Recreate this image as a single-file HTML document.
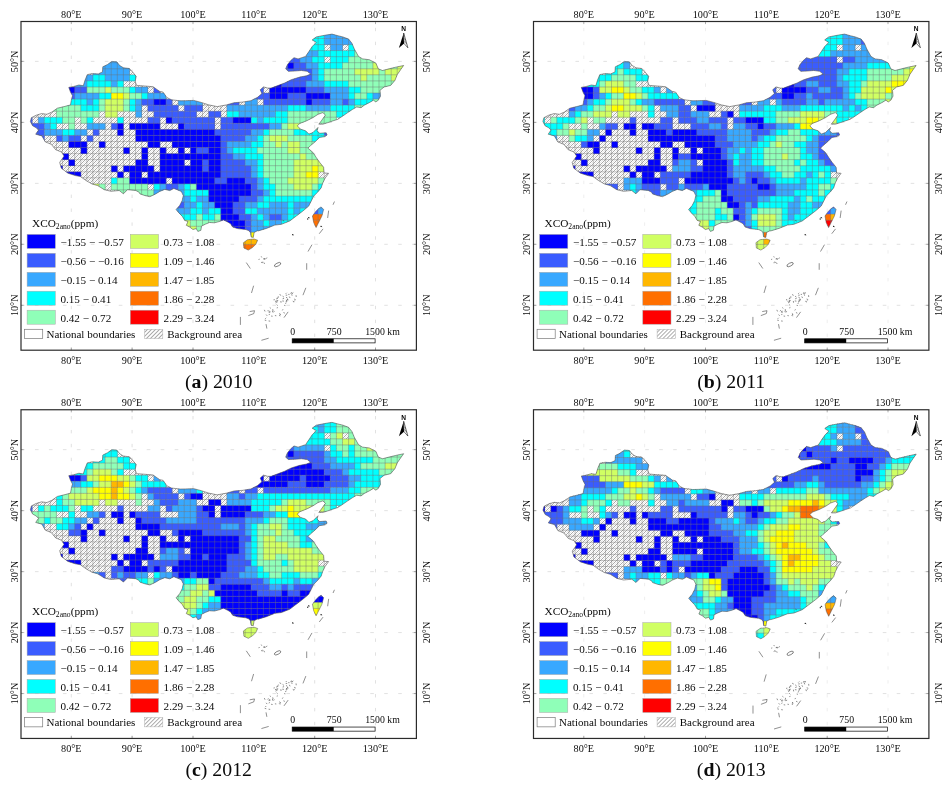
<!DOCTYPE html>
<html><head><meta charset="utf-8"><title>XCO2 anomaly maps 2010-2013</title>
<style>html,body{margin:0;padding:0;background:#fff}svg{display:block}text{font-family:"Liberation Serif","DejaVu Serif",serif;fill:#0a0a0a}</style>
</head><body>
<svg width="951" height="786" viewBox="0 0 951 786">
<defs>
<pattern id="hatcha" width="4" height="4" patternUnits="userSpaceOnUse" patternTransform="translate(0,0)" shape-rendering="crispEdges"><rect width="4" height="4" fill="#fff"/><rect x="0" y="0" width="1" height="1" fill="#aaaaaa"/><rect x="2" y="0" width="1" height="1" fill="#e8e8e8"/><rect x="1" y="1" width="1" height="1" fill="#e8e8e8"/><rect x="3" y="1" width="1" height="1" fill="#aaaaaa"/><rect x="0" y="2" width="1" height="1" fill="#e8e8e8"/><rect x="2" y="2" width="1" height="1" fill="#aaaaaa"/><rect x="1" y="3" width="1" height="1" fill="#aaaaaa"/><rect x="3" y="3" width="1" height="1" fill="#e8e8e8"/></pattern><pattern id="hatchb" width="4" height="4" patternUnits="userSpaceOnUse" patternTransform="translate(-0.5,0)" shape-rendering="crispEdges"><rect width="4" height="4" fill="#fff"/><rect x="0" y="0" width="1" height="1" fill="#aaaaaa"/><rect x="2" y="0" width="1" height="1" fill="#e8e8e8"/><rect x="1" y="1" width="1" height="1" fill="#e8e8e8"/><rect x="3" y="1" width="1" height="1" fill="#aaaaaa"/><rect x="0" y="2" width="1" height="1" fill="#e8e8e8"/><rect x="2" y="2" width="1" height="1" fill="#aaaaaa"/><rect x="1" y="3" width="1" height="1" fill="#aaaaaa"/><rect x="3" y="3" width="1" height="1" fill="#e8e8e8"/></pattern><pattern id="hatchc" width="4" height="4" patternUnits="userSpaceOnUse" patternTransform="translate(0,-0.25)" shape-rendering="crispEdges"><rect width="4" height="4" fill="#fff"/><rect x="0" y="0" width="1" height="1" fill="#aaaaaa"/><rect x="2" y="0" width="1" height="1" fill="#e8e8e8"/><rect x="1" y="1" width="1" height="1" fill="#e8e8e8"/><rect x="3" y="1" width="1" height="1" fill="#aaaaaa"/><rect x="0" y="2" width="1" height="1" fill="#e8e8e8"/><rect x="2" y="2" width="1" height="1" fill="#aaaaaa"/><rect x="1" y="3" width="1" height="1" fill="#aaaaaa"/><rect x="3" y="3" width="1" height="1" fill="#e8e8e8"/></pattern><pattern id="hatchd" width="4" height="4" patternUnits="userSpaceOnUse" patternTransform="translate(-0.5,-0.25)" shape-rendering="crispEdges"><rect width="4" height="4" fill="#fff"/><rect x="0" y="0" width="1" height="1" fill="#aaaaaa"/><rect x="2" y="0" width="1" height="1" fill="#e8e8e8"/><rect x="1" y="1" width="1" height="1" fill="#e8e8e8"/><rect x="3" y="1" width="1" height="1" fill="#aaaaaa"/><rect x="0" y="2" width="1" height="1" fill="#e8e8e8"/><rect x="2" y="2" width="1" height="1" fill="#aaaaaa"/><rect x="1" y="3" width="1" height="1" fill="#aaaaaa"/><rect x="3" y="3" width="1" height="1" fill="#e8e8e8"/></pattern>
<pattern id="hatchL" width="2.83" height="2.83" patternUnits="userSpaceOnUse" patternTransform="rotate(45)"><rect width="2.83" height="2.83" fill="#fff"/><rect width="0.55" height="2.83" fill="#6a6a6a"/></pattern>
<clipPath id="china"><polygon points="30.4,121.5 31.4,117.7 36.0,115.3 41.5,113.6 46.9,114.3 52.0,112.0 57.4,108.2 64.1,106.6 70.5,104.9 71.3,100.5 72.5,95.8 70.5,92.1 68.8,87.4 73.9,86.4 78.9,85.0 83.3,85.7 85.0,80.3 87.3,74.6 92.4,73.6 98.3,73.9 102.5,71.9 102.8,66.8 107.5,64.5 111.8,61.4 116.8,61.8 119.7,65.5 123.5,67.8 129.4,68.5 132.5,71.9 136.2,76.3 135.2,81.3 136.5,85.4 144.6,86.0 153.0,86.7 159.7,91.4 163.1,92.1 166.8,97.5 171.5,99.8 180.1,100.8 185.3,100.7 193.7,100.4 201.2,102.4 208.8,104.9 217.2,106.6 226.5,104.9 234.1,102.7 242.5,102.1 250.9,100.7 257.6,97.3 261.9,93.6 260.2,89.8 263.5,86.9 267.7,88.1 271.1,88.1 277.8,85.6 284.6,83.0 291.3,79.7 299.7,77.1 306.5,75.8 310.7,74.1 307.2,71.3 301.4,70.5 294.8,71.0 288.2,71.3 285.7,68.8 287.4,64.7 290.7,60.6 294.0,57.7 298.1,58.9 305.6,56.4 308.9,51.5 312.2,46.5 316.3,42.4 312.2,39.9 316.3,36.9 324.6,35.3 332.0,34.1 337.8,35.7 342.8,36.9 348.6,39.1 351.9,43.2 354.3,49.0 358.5,56.4 362.6,58.9 369.2,59.7 375.8,63.0 378.3,68.8 382.5,70.5 389.1,68.8 395.7,67.2 403.6,65.5 400.6,69.7 397.3,74.6 394.9,80.4 390.7,85.4 384.1,87.0 380.0,90.3 380.5,96.1 378.3,100.2 375.8,101.9 373.4,100.2 369.2,102.7 364.3,105.2 361.0,107.7 356.8,106.9 352.7,109.3 347.7,112.6 342.8,116.0 337.8,119.3 332.8,120.9 327.9,122.6 322.9,124.2 318.8,124.2 321.3,120.9 325.4,115.1 322.9,112.6 318.0,114.3 313.0,117.6 306.4,120.9 299.8,123.4 297.3,125.9 300.6,129.2 305.6,130.8 308.9,134.1 313.0,132.5 318.0,127.5 317.1,130.8 319.6,133.3 326.2,132.8 327.1,135.0 325.2,136.6 319.5,137.4 315.3,141.6 310.4,145.7 307.9,148.2 312.8,152.3 316.1,157.3 319.5,162.2 323.6,167.2 324.1,173.0 328.6,173.3 325.2,178.0 322.8,182.9 321.1,187.9 317.8,192.0 313.7,196.1 311.2,201.1 308.7,206.1 302.9,211.0 296.3,216.0 289.7,221.0 281.4,224.3 274.8,225.1 266.5,228.4 258.3,230.9 257.4,230.8 254.1,232.4 253.3,237.4 251.1,236.9 250.5,232.8 249.1,230.8 245.8,229.5 241.7,229.1 237.6,228.6 232.6,227.0 230.6,223.7 227.6,222.0 223.5,219.9 219.4,221.5 214.4,222.8 209.5,222.5 205.3,224.2 201.5,226.1 200.9,230.3 197.9,231.4 196.2,228.6 192.9,229.5 189.6,227.0 186.3,225.3 188.0,221.5 184.7,220.4 182.2,216.2 178.9,212.9 176.1,209.6 179.7,205.5 182.2,200.5 183.3,195.6 181.3,191.4 177.2,189.8 173.9,188.4 169.8,190.6 164.8,189.4 159.8,191.4 155.7,193.9 149.9,196.7 145.0,195.6 140.0,193.9 139.1,192.2 135.8,190.5 127.5,189.7 123.4,193.8 119.2,190.5 111.0,191.3 104.3,189.7 97.7,185.6 91.9,183.9 86.1,180.6 80.4,176.5 75.4,175.6 68.0,173.2 61.3,168.2 59.7,162.4 64.1,156.1 61.4,152.0 55.7,149.7 51.3,144.3 45.3,141.9 41.9,135.9 35.7,134.2 38.5,130.1 36.3,127.8 32.6,125.8"/><polygon points="243.4,242.7 247.5,239.7 254.1,239.0 257.7,240.2 255.8,244.3 252.5,247.6 248.3,250.1 243.9,248.0"/><polygon points="321.1,206.9 323.6,209.4 321.9,216.0 318.6,222.6 316.1,227.6 313.7,222.6 312.5,216.0 315.3,211.9 318.6,208.6"/></clipPath>
</defs>
<rect width="951" height="786" fill="#fff"/>
<g transform="translate(0,0)">
<path d="M21.0,305.3H416.4M21.0,244.3H416.4M21.0,183.4H416.4M21.0,122.4H416.4M21.0,61.4H416.4" stroke="#d2d2d2" stroke-width="0.65" stroke-dasharray="3.6,10.37" fill="none"/><path d="M71.3,21.5V350.2M132.1,21.5V350.2M193.0,21.5V350.2M314.7,21.5V350.2M375.5,21.5V350.2" stroke="#d0d0d0" stroke-width="0.65" stroke-dasharray="3.4,10.5" stroke-dashoffset="7.6" fill="none"/><path d="M71.3,21.5v2.6M71.3,350.2v-2.6M132.1,21.5v2.6M132.1,350.2v-2.6M193.0,21.5v2.6M193.0,350.2v-2.6M314.7,21.5v2.6M314.7,350.2v-2.6M375.5,21.5v2.6M375.5,350.2v-2.6M21.0,305.3h2.6M416.4,305.3h-2.6M21.0,244.3h2.6M416.4,244.3h-2.6M21.0,183.4h2.6M416.4,183.4h-2.6M21.0,122.4h2.6M416.4,122.4h-2.6M21.0,61.4h2.6M416.4,61.4h-2.6" stroke="#777" stroke-width="0.6" fill="none"/>
<g clip-path="url(#china)"><rect x="20" y="20" width="400" height="240" fill="url(#hatcha)"/></g>
<g>
<g clip-path="url(#china)">
<rect x="312.04" y="32.44" width="12.47" height="6.36" fill="#00ffff"/>
<rect x="324.21" y="32.44" width="30.73" height="6.36" fill="#38a8ff"/>
<rect x="312.04" y="38.50" width="12.47" height="6.36" fill="#00ffff"/>
<rect x="324.21" y="38.50" width="30.73" height="6.36" fill="#38a8ff"/>
<rect x="305.96" y="44.55" width="18.56" height="6.36" fill="#00ffff"/>
<rect x="330.30" y="44.55" width="12.47" height="6.36" fill="#38a8ff"/>
<rect x="348.56" y="44.55" width="12.47" height="6.36" fill="#00ffff"/>
<rect x="305.96" y="50.61" width="12.47" height="6.36" fill="#38a8ff"/>
<rect x="318.13" y="50.61" width="36.82" height="6.36" fill="#00ffff"/>
<rect x="354.64" y="50.61" width="6.39" height="6.36" fill="#8fffb8"/>
<rect x="99.03" y="56.67" width="24.64" height="6.36" fill="#38a8ff"/>
<rect x="287.70" y="56.67" width="12.47" height="6.36" fill="#3a5cff"/>
<rect x="299.87" y="56.67" width="12.47" height="6.36" fill="#38a8ff"/>
<rect x="312.04" y="56.67" width="12.47" height="6.36" fill="#00ffff"/>
<rect x="330.30" y="56.67" width="18.56" height="6.36" fill="#00ffff"/>
<rect x="348.56" y="56.67" width="30.73" height="6.36" fill="#8fffb8"/>
<rect x="92.95" y="62.73" width="42.90" height="6.36" fill="#38a8ff"/>
<rect x="281.61" y="62.73" width="6.39" height="6.36" fill="#3a5cff"/>
<rect x="287.70" y="62.73" width="6.39" height="6.36" fill="#0000ff"/>
<rect x="293.78" y="62.73" width="12.47" height="6.36" fill="#3a5cff"/>
<rect x="305.96" y="62.73" width="12.47" height="6.36" fill="#38a8ff"/>
<rect x="318.13" y="62.73" width="24.64" height="6.36" fill="#00ffff"/>
<rect x="342.47" y="62.73" width="30.73" height="6.36" fill="#8fffb8"/>
<rect x="372.90" y="62.73" width="6.39" height="6.36" fill="#d0ff63"/>
<rect x="378.99" y="62.73" width="18.56" height="6.36" fill="#8fffb8"/>
<rect x="397.25" y="62.73" width="12.47" height="6.36" fill="#d0ff63"/>
<rect x="92.95" y="68.78" width="36.82" height="6.36" fill="#38a8ff"/>
<rect x="281.61" y="68.78" width="30.73" height="6.36" fill="#3a5cff"/>
<rect x="312.04" y="68.78" width="6.39" height="6.36" fill="#38a8ff"/>
<rect x="318.13" y="68.78" width="6.39" height="6.36" fill="#00ffff"/>
<rect x="324.21" y="68.78" width="30.73" height="6.36" fill="#8fffb8"/>
<rect x="354.64" y="68.78" width="24.64" height="6.36" fill="#d0ff63"/>
<rect x="378.99" y="68.78" width="6.39" height="6.36" fill="#8fffb8"/>
<rect x="385.07" y="68.78" width="24.64" height="6.36" fill="#d0ff63"/>
<rect x="80.77" y="74.84" width="12.47" height="6.36" fill="#38a8ff"/>
<rect x="92.95" y="74.84" width="12.47" height="6.36" fill="#00ffff"/>
<rect x="105.12" y="74.84" width="24.64" height="6.36" fill="#38a8ff"/>
<rect x="129.46" y="74.84" width="12.47" height="6.36" fill="#00ffff"/>
<rect x="281.61" y="74.84" width="30.73" height="6.36" fill="#3a5cff"/>
<rect x="312.04" y="74.84" width="6.39" height="6.36" fill="#38a8ff"/>
<rect x="318.13" y="74.84" width="6.39" height="6.36" fill="#00ffff"/>
<rect x="324.21" y="74.84" width="36.82" height="6.36" fill="#8fffb8"/>
<rect x="360.73" y="74.84" width="6.39" height="6.36" fill="#d0ff63"/>
<rect x="366.82" y="74.84" width="24.64" height="6.36" fill="#8fffb8"/>
<rect x="391.16" y="74.84" width="18.56" height="6.36" fill="#d0ff63"/>
<rect x="74.69" y="80.90" width="12.47" height="6.36" fill="#38a8ff"/>
<rect x="86.86" y="80.90" width="24.64" height="6.36" fill="#00ffff"/>
<rect x="111.20" y="80.90" width="6.39" height="6.36" fill="#38a8ff"/>
<rect x="117.29" y="80.90" width="6.39" height="6.36" fill="#00ffff"/>
<rect x="269.44" y="80.90" width="12.47" height="6.36" fill="#0000ff"/>
<rect x="281.61" y="80.90" width="24.64" height="6.36" fill="#3a5cff"/>
<rect x="305.96" y="80.90" width="18.56" height="6.36" fill="#38a8ff"/>
<rect x="324.21" y="80.90" width="24.64" height="6.36" fill="#00ffff"/>
<rect x="348.56" y="80.90" width="61.16" height="6.36" fill="#8fffb8"/>
<rect x="62.52" y="86.95" width="12.47" height="6.36" fill="#0000ff"/>
<rect x="74.69" y="86.95" width="12.47" height="6.36" fill="#3a5cff"/>
<rect x="86.86" y="86.95" width="18.56" height="6.36" fill="#8fffb8"/>
<rect x="105.12" y="86.95" width="6.39" height="6.36" fill="#d0ff63"/>
<rect x="111.20" y="86.95" width="18.56" height="6.36" fill="#8fffb8"/>
<rect x="129.46" y="86.95" width="6.39" height="6.36" fill="#00ffff"/>
<rect x="135.55" y="86.95" width="12.47" height="6.36" fill="#38a8ff"/>
<rect x="153.81" y="86.95" width="6.39" height="6.36" fill="#3a5cff"/>
<rect x="257.27" y="86.95" width="6.39" height="6.36" fill="#3a5cff"/>
<rect x="269.44" y="86.95" width="36.82" height="6.36" fill="#0000ff"/>
<rect x="305.96" y="86.95" width="18.56" height="6.36" fill="#3a5cff"/>
<rect x="324.21" y="86.95" width="24.64" height="6.36" fill="#38a8ff"/>
<rect x="348.56" y="86.95" width="12.47" height="6.36" fill="#00ffff"/>
<rect x="360.73" y="86.95" width="36.82" height="6.36" fill="#8fffb8"/>
<rect x="68.60" y="93.01" width="6.39" height="6.36" fill="#3a5cff"/>
<rect x="74.69" y="93.01" width="24.64" height="6.36" fill="#38a8ff"/>
<rect x="99.03" y="93.01" width="12.47" height="6.36" fill="#00ffff"/>
<rect x="111.20" y="93.01" width="12.47" height="6.36" fill="#ffff00"/>
<rect x="123.38" y="93.01" width="6.39" height="6.36" fill="#d0ff63"/>
<rect x="129.46" y="93.01" width="12.47" height="6.36" fill="#8fffb8"/>
<rect x="141.63" y="93.01" width="6.39" height="6.36" fill="#00ffff"/>
<rect x="147.72" y="93.01" width="18.56" height="6.36" fill="#38a8ff"/>
<rect x="251.18" y="93.01" width="18.56" height="6.36" fill="#3a5cff"/>
<rect x="269.44" y="93.01" width="18.56" height="6.36" fill="#0000ff"/>
<rect x="287.70" y="93.01" width="18.56" height="6.36" fill="#3a5cff"/>
<rect x="305.96" y="93.01" width="24.64" height="6.36" fill="#0000ff"/>
<rect x="330.30" y="93.01" width="18.56" height="6.36" fill="#38a8ff"/>
<rect x="348.56" y="93.01" width="6.39" height="6.36" fill="#00ffff"/>
<rect x="354.64" y="93.01" width="12.47" height="6.36" fill="#8fffb8"/>
<rect x="366.82" y="93.01" width="6.39" height="6.36" fill="#00ffff"/>
<rect x="372.90" y="93.01" width="12.47" height="6.36" fill="#38a8ff"/>
<rect x="62.52" y="99.07" width="24.64" height="6.36" fill="#00ffff"/>
<rect x="86.86" y="99.07" width="6.39" height="6.36" fill="#38a8ff"/>
<rect x="92.95" y="99.07" width="6.39" height="6.36" fill="#00ffff"/>
<rect x="99.03" y="99.07" width="6.39" height="6.36" fill="#8fffb8"/>
<rect x="105.12" y="99.07" width="18.56" height="6.36" fill="#d0ff63"/>
<rect x="123.38" y="99.07" width="6.39" height="6.36" fill="#8fffb8"/>
<rect x="129.46" y="99.07" width="6.39" height="6.36" fill="#00ffff"/>
<rect x="135.55" y="99.07" width="6.39" height="6.36" fill="#38a8ff"/>
<rect x="141.63" y="99.07" width="12.47" height="6.36" fill="#3a5cff"/>
<rect x="153.81" y="99.07" width="12.47" height="6.36" fill="#0000ff"/>
<rect x="165.98" y="99.07" width="6.39" height="6.36" fill="#3a5cff"/>
<rect x="178.15" y="99.07" width="24.64" height="6.36" fill="#38a8ff"/>
<rect x="226.84" y="99.07" width="12.47" height="6.36" fill="#3a5cff"/>
<rect x="245.10" y="99.07" width="12.47" height="6.36" fill="#38a8ff"/>
<rect x="263.35" y="99.07" width="42.90" height="6.36" fill="#3a5cff"/>
<rect x="305.96" y="99.07" width="6.39" height="6.36" fill="#0000ff"/>
<rect x="312.04" y="99.07" width="18.56" height="6.36" fill="#3a5cff"/>
<rect x="330.30" y="99.07" width="12.47" height="6.36" fill="#38a8ff"/>
<rect x="342.47" y="99.07" width="6.39" height="6.36" fill="#3a5cff"/>
<rect x="348.56" y="99.07" width="6.39" height="6.36" fill="#38a8ff"/>
<rect x="354.64" y="99.07" width="18.56" height="6.36" fill="#00ffff"/>
<rect x="372.90" y="99.07" width="6.39" height="6.36" fill="#8fffb8"/>
<rect x="50.34" y="105.12" width="30.73" height="6.36" fill="#8fffb8"/>
<rect x="80.77" y="105.12" width="18.56" height="6.36" fill="#00ffff"/>
<rect x="99.03" y="105.12" width="6.39" height="6.36" fill="#8fffb8"/>
<rect x="105.12" y="105.12" width="18.56" height="6.36" fill="#d0ff63"/>
<rect x="123.38" y="105.12" width="6.39" height="6.36" fill="#8fffb8"/>
<rect x="129.46" y="105.12" width="6.39" height="6.36" fill="#00ffff"/>
<rect x="135.55" y="105.12" width="6.39" height="6.36" fill="#38a8ff"/>
<rect x="147.72" y="105.12" width="30.73" height="6.36" fill="#3a5cff"/>
<rect x="184.24" y="105.12" width="18.56" height="6.36" fill="#3a5cff"/>
<rect x="226.84" y="105.12" width="61.16" height="6.36" fill="#38a8ff"/>
<rect x="287.70" y="105.12" width="18.56" height="6.36" fill="#00ffff"/>
<rect x="305.96" y="105.12" width="24.64" height="6.36" fill="#38a8ff"/>
<rect x="330.30" y="105.12" width="24.64" height="6.36" fill="#00ffff"/>
<rect x="354.64" y="105.12" width="12.47" height="6.36" fill="#8fffb8"/>
<rect x="56.43" y="111.18" width="42.90" height="6.36" fill="#8fffb8"/>
<rect x="105.12" y="111.18" width="12.47" height="6.36" fill="#d0ff63"/>
<rect x="135.55" y="111.18" width="6.39" height="6.36" fill="#38a8ff"/>
<rect x="153.81" y="111.18" width="42.90" height="6.36" fill="#3a5cff"/>
<rect x="208.58" y="111.18" width="12.47" height="6.36" fill="#3a5cff"/>
<rect x="226.84" y="111.18" width="12.47" height="6.36" fill="#00ffff"/>
<rect x="239.01" y="111.18" width="36.82" height="6.36" fill="#38a8ff"/>
<rect x="275.53" y="111.18" width="12.47" height="6.36" fill="#00ffff"/>
<rect x="287.70" y="111.18" width="48.99" height="6.36" fill="#8fffb8"/>
<rect x="336.39" y="111.18" width="18.56" height="6.36" fill="#00ffff"/>
<rect x="26.00" y="117.24" width="6.39" height="6.36" fill="#3a5cff"/>
<rect x="38.17" y="117.24" width="6.39" height="6.36" fill="#38a8ff"/>
<rect x="44.26" y="117.24" width="18.56" height="6.36" fill="#00ffff"/>
<rect x="62.52" y="117.24" width="12.47" height="6.36" fill="#8fffb8"/>
<rect x="80.77" y="117.24" width="6.39" height="6.36" fill="#8fffb8"/>
<rect x="86.86" y="117.24" width="6.39" height="6.36" fill="#00ffff"/>
<rect x="117.29" y="117.24" width="6.39" height="6.36" fill="#00ffff"/>
<rect x="147.72" y="117.24" width="12.47" height="6.36" fill="#3a5cff"/>
<rect x="165.98" y="117.24" width="6.39" height="6.36" fill="#0000ff"/>
<rect x="172.06" y="117.24" width="42.90" height="6.36" fill="#3a5cff"/>
<rect x="220.75" y="117.24" width="12.47" height="6.36" fill="#3a5cff"/>
<rect x="232.92" y="117.24" width="18.56" height="6.36" fill="#0000ff"/>
<rect x="251.18" y="117.24" width="6.39" height="6.36" fill="#00ffff"/>
<rect x="257.27" y="117.24" width="6.39" height="6.36" fill="#38a8ff"/>
<rect x="263.35" y="117.24" width="24.64" height="6.36" fill="#00ffff"/>
<rect x="287.70" y="117.24" width="48.99" height="6.36" fill="#8fffb8"/>
<rect x="26.00" y="123.30" width="18.56" height="6.36" fill="#3a5cff"/>
<rect x="44.26" y="123.30" width="6.39" height="6.36" fill="#38a8ff"/>
<rect x="50.34" y="123.30" width="6.39" height="6.36" fill="#00ffff"/>
<rect x="68.60" y="123.30" width="6.39" height="6.36" fill="#8fffb8"/>
<rect x="86.86" y="123.30" width="18.56" height="6.36" fill="#38a8ff"/>
<rect x="111.20" y="123.30" width="6.39" height="6.36" fill="#3a5cff"/>
<rect x="117.29" y="123.30" width="6.39" height="6.36" fill="#0000ff"/>
<rect x="129.46" y="123.30" width="30.73" height="6.36" fill="#0000ff"/>
<rect x="178.15" y="123.30" width="6.39" height="6.36" fill="#0000ff"/>
<rect x="184.24" y="123.30" width="30.73" height="6.36" fill="#3a5cff"/>
<rect x="220.75" y="123.30" width="48.99" height="6.36" fill="#3a5cff"/>
<rect x="269.44" y="123.30" width="12.47" height="6.36" fill="#38a8ff"/>
<rect x="281.61" y="123.30" width="6.39" height="6.36" fill="#8fffb8"/>
<rect x="287.70" y="123.30" width="12.47" height="6.36" fill="#d0ff63"/>
<rect x="299.87" y="123.30" width="18.56" height="6.36" fill="#8fffb8"/>
<rect x="26.00" y="129.35" width="18.56" height="6.36" fill="#3a5cff"/>
<rect x="44.26" y="129.35" width="18.56" height="6.36" fill="#38a8ff"/>
<rect x="62.52" y="129.35" width="12.47" height="6.36" fill="#00ffff"/>
<rect x="74.69" y="129.35" width="12.47" height="6.36" fill="#38a8ff"/>
<rect x="92.95" y="129.35" width="6.39" height="6.36" fill="#3a5cff"/>
<rect x="117.29" y="129.35" width="6.39" height="6.36" fill="#0000ff"/>
<rect x="135.55" y="129.35" width="79.42" height="6.36" fill="#0000ff"/>
<rect x="214.67" y="129.35" width="36.82" height="6.36" fill="#3a5cff"/>
<rect x="251.18" y="129.35" width="12.47" height="6.36" fill="#38a8ff"/>
<rect x="263.35" y="129.35" width="6.39" height="6.36" fill="#00ffff"/>
<rect x="269.44" y="129.35" width="24.64" height="6.36" fill="#8fffb8"/>
<rect x="293.78" y="129.35" width="30.73" height="6.36" fill="#00ffff"/>
<rect x="324.21" y="129.35" width="6.39" height="6.36" fill="#3a5cff"/>
<rect x="26.00" y="135.41" width="18.56" height="6.36" fill="#3a5cff"/>
<rect x="56.43" y="135.41" width="6.39" height="6.36" fill="#3a5cff"/>
<rect x="62.52" y="135.41" width="6.39" height="6.36" fill="#38a8ff"/>
<rect x="68.60" y="135.41" width="12.47" height="6.36" fill="#3a5cff"/>
<rect x="86.86" y="135.41" width="6.39" height="6.36" fill="#3a5cff"/>
<rect x="135.55" y="135.41" width="85.50" height="6.36" fill="#0000ff"/>
<rect x="220.75" y="135.41" width="24.64" height="6.36" fill="#3a5cff"/>
<rect x="245.10" y="135.41" width="12.47" height="6.36" fill="#38a8ff"/>
<rect x="257.27" y="135.41" width="6.39" height="6.36" fill="#00ffff"/>
<rect x="263.35" y="135.41" width="6.39" height="6.36" fill="#8fffb8"/>
<rect x="269.44" y="135.41" width="18.56" height="6.36" fill="#d0ff63"/>
<rect x="287.70" y="135.41" width="24.64" height="6.36" fill="#8fffb8"/>
<rect x="312.04" y="135.41" width="12.47" height="6.36" fill="#00ffff"/>
<rect x="68.60" y="141.47" width="18.56" height="6.36" fill="#0000ff"/>
<rect x="99.03" y="141.47" width="6.39" height="6.36" fill="#0000ff"/>
<rect x="147.72" y="141.47" width="12.47" height="6.36" fill="#0000ff"/>
<rect x="172.06" y="141.47" width="48.99" height="6.36" fill="#0000ff"/>
<rect x="220.75" y="141.47" width="6.39" height="6.36" fill="#3a5cff"/>
<rect x="226.84" y="141.47" width="24.64" height="6.36" fill="#38a8ff"/>
<rect x="251.18" y="141.47" width="12.47" height="6.36" fill="#00ffff"/>
<rect x="263.35" y="141.47" width="12.47" height="6.36" fill="#8fffb8"/>
<rect x="275.53" y="141.47" width="6.39" height="6.36" fill="#d0ff63"/>
<rect x="281.61" y="141.47" width="6.39" height="6.36" fill="#8fffb8"/>
<rect x="287.70" y="141.47" width="12.47" height="6.36" fill="#d0ff63"/>
<rect x="299.87" y="141.47" width="24.64" height="6.36" fill="#8fffb8"/>
<rect x="80.77" y="147.52" width="6.39" height="6.36" fill="#0000ff"/>
<rect x="123.38" y="147.52" width="6.39" height="6.36" fill="#0000ff"/>
<rect x="141.63" y="147.52" width="6.39" height="6.36" fill="#0000ff"/>
<rect x="159.89" y="147.52" width="6.39" height="6.36" fill="#0000ff"/>
<rect x="178.15" y="147.52" width="6.39" height="6.36" fill="#0000ff"/>
<rect x="190.32" y="147.52" width="6.39" height="6.36" fill="#0000ff"/>
<rect x="196.41" y="147.52" width="12.47" height="6.36" fill="#3a5cff"/>
<rect x="208.58" y="147.52" width="12.47" height="6.36" fill="#0000ff"/>
<rect x="220.75" y="147.52" width="6.39" height="6.36" fill="#3a5cff"/>
<rect x="226.84" y="147.52" width="6.39" height="6.36" fill="#38a8ff"/>
<rect x="232.92" y="147.52" width="24.64" height="6.36" fill="#00ffff"/>
<rect x="257.27" y="147.52" width="30.73" height="6.36" fill="#8fffb8"/>
<rect x="287.70" y="147.52" width="12.47" height="6.36" fill="#d0ff63"/>
<rect x="299.87" y="147.52" width="18.56" height="6.36" fill="#8fffb8"/>
<rect x="62.52" y="153.58" width="6.39" height="6.36" fill="#0000ff"/>
<rect x="141.63" y="153.58" width="6.39" height="6.36" fill="#0000ff"/>
<rect x="159.89" y="153.58" width="61.16" height="6.36" fill="#0000ff"/>
<rect x="220.75" y="153.58" width="12.47" height="6.36" fill="#3a5cff"/>
<rect x="232.92" y="153.58" width="12.47" height="6.36" fill="#38a8ff"/>
<rect x="245.10" y="153.58" width="18.56" height="6.36" fill="#00ffff"/>
<rect x="263.35" y="153.58" width="36.82" height="6.36" fill="#8fffb8"/>
<rect x="299.87" y="153.58" width="6.39" height="6.36" fill="#d0ff63"/>
<rect x="305.96" y="153.58" width="12.47" height="6.36" fill="#8fffb8"/>
<rect x="68.60" y="159.64" width="6.39" height="6.36" fill="#0000ff"/>
<rect x="135.55" y="159.64" width="12.47" height="6.36" fill="#0000ff"/>
<rect x="159.89" y="159.64" width="24.64" height="6.36" fill="#0000ff"/>
<rect x="190.32" y="159.64" width="12.47" height="6.36" fill="#0000ff"/>
<rect x="202.49" y="159.64" width="6.39" height="6.36" fill="#3a5cff"/>
<rect x="208.58" y="159.64" width="12.47" height="6.36" fill="#0000ff"/>
<rect x="220.75" y="159.64" width="24.64" height="6.36" fill="#3a5cff"/>
<rect x="245.10" y="159.64" width="12.47" height="6.36" fill="#38a8ff"/>
<rect x="257.27" y="159.64" width="6.39" height="6.36" fill="#00ffff"/>
<rect x="263.35" y="159.64" width="30.73" height="6.36" fill="#8fffb8"/>
<rect x="293.78" y="159.64" width="30.73" height="6.36" fill="#d0ff63"/>
<rect x="56.43" y="165.69" width="6.39" height="6.36" fill="#0000ff"/>
<rect x="111.20" y="165.69" width="6.39" height="6.36" fill="#0000ff"/>
<rect x="123.38" y="165.69" width="30.73" height="6.36" fill="#0000ff"/>
<rect x="159.89" y="165.69" width="42.90" height="6.36" fill="#0000ff"/>
<rect x="202.49" y="165.69" width="6.39" height="6.36" fill="#3a5cff"/>
<rect x="208.58" y="165.69" width="12.47" height="6.36" fill="#0000ff"/>
<rect x="220.75" y="165.69" width="30.73" height="6.36" fill="#3a5cff"/>
<rect x="251.18" y="165.69" width="6.39" height="6.36" fill="#38a8ff"/>
<rect x="257.27" y="165.69" width="6.39" height="6.36" fill="#00ffff"/>
<rect x="263.35" y="165.69" width="30.73" height="6.36" fill="#8fffb8"/>
<rect x="293.78" y="165.69" width="18.56" height="6.36" fill="#d0ff63"/>
<rect x="312.04" y="165.69" width="6.39" height="6.36" fill="#ffff00"/>
<rect x="318.13" y="165.69" width="6.39" height="6.36" fill="#d0ff63"/>
<rect x="62.52" y="171.75" width="18.56" height="6.36" fill="#0000ff"/>
<rect x="117.29" y="171.75" width="6.39" height="6.36" fill="#0000ff"/>
<rect x="129.46" y="171.75" width="12.47" height="6.36" fill="#0000ff"/>
<rect x="147.72" y="171.75" width="73.33" height="6.36" fill="#0000ff"/>
<rect x="220.75" y="171.75" width="30.73" height="6.36" fill="#3a5cff"/>
<rect x="251.18" y="171.75" width="6.39" height="6.36" fill="#38a8ff"/>
<rect x="257.27" y="171.75" width="6.39" height="6.36" fill="#00ffff"/>
<rect x="263.35" y="171.75" width="30.73" height="6.36" fill="#8fffb8"/>
<rect x="293.78" y="171.75" width="12.47" height="6.36" fill="#d0ff63"/>
<rect x="305.96" y="171.75" width="12.47" height="6.36" fill="#ffff00"/>
<rect x="111.20" y="177.81" width="6.39" height="6.36" fill="#00ffff"/>
<rect x="117.29" y="177.81" width="12.47" height="6.36" fill="#8fffb8"/>
<rect x="129.46" y="177.81" width="36.82" height="6.36" fill="#0000ff"/>
<rect x="172.06" y="177.81" width="42.90" height="6.36" fill="#0000ff"/>
<rect x="214.67" y="177.81" width="12.47" height="6.36" fill="#3a5cff"/>
<rect x="226.84" y="177.81" width="18.56" height="6.36" fill="#0000ff"/>
<rect x="245.10" y="177.81" width="12.47" height="6.36" fill="#3a5cff"/>
<rect x="257.27" y="177.81" width="6.39" height="6.36" fill="#38a8ff"/>
<rect x="263.35" y="177.81" width="6.39" height="6.36" fill="#00ffff"/>
<rect x="269.44" y="177.81" width="18.56" height="6.36" fill="#8fffb8"/>
<rect x="287.70" y="177.81" width="30.73" height="6.36" fill="#d0ff63"/>
<rect x="318.13" y="177.81" width="6.39" height="6.36" fill="#8fffb8"/>
<rect x="92.95" y="183.87" width="6.39" height="6.36" fill="#d0ff63"/>
<rect x="99.03" y="183.87" width="6.39" height="6.36" fill="#8fffb8"/>
<rect x="111.20" y="183.87" width="36.82" height="6.36" fill="#8fffb8"/>
<rect x="153.81" y="183.87" width="6.39" height="6.36" fill="#00ffff"/>
<rect x="159.89" y="183.87" width="6.39" height="6.36" fill="#38a8ff"/>
<rect x="165.98" y="183.87" width="12.47" height="6.36" fill="#3a5cff"/>
<rect x="178.15" y="183.87" width="6.39" height="6.36" fill="#38a8ff"/>
<rect x="184.24" y="183.87" width="6.39" height="6.36" fill="#00ffff"/>
<rect x="190.32" y="183.87" width="6.39" height="6.36" fill="#8fffb8"/>
<rect x="196.41" y="183.87" width="55.07" height="6.36" fill="#0000ff"/>
<rect x="251.18" y="183.87" width="6.39" height="6.36" fill="#3a5cff"/>
<rect x="257.27" y="183.87" width="6.39" height="6.36" fill="#38a8ff"/>
<rect x="263.35" y="183.87" width="12.47" height="6.36" fill="#00ffff"/>
<rect x="275.53" y="183.87" width="18.56" height="6.36" fill="#8fffb8"/>
<rect x="293.78" y="183.87" width="18.56" height="6.36" fill="#d0ff63"/>
<rect x="312.04" y="183.87" width="6.39" height="6.36" fill="#8fffb8"/>
<rect x="318.13" y="183.87" width="6.39" height="6.36" fill="#00ffff"/>
<rect x="117.29" y="189.92" width="36.82" height="6.36" fill="#8fffb8"/>
<rect x="153.81" y="189.92" width="30.73" height="6.36" fill="#38a8ff"/>
<rect x="184.24" y="189.92" width="24.64" height="6.36" fill="#00ffff"/>
<rect x="208.58" y="189.92" width="42.90" height="6.36" fill="#0000ff"/>
<rect x="251.18" y="189.92" width="12.47" height="6.36" fill="#3a5cff"/>
<rect x="263.35" y="189.92" width="6.39" height="6.36" fill="#38a8ff"/>
<rect x="269.44" y="189.92" width="6.39" height="6.36" fill="#00ffff"/>
<rect x="275.53" y="189.92" width="36.82" height="6.36" fill="#8fffb8"/>
<rect x="312.04" y="189.92" width="12.47" height="6.36" fill="#00ffff"/>
<rect x="178.15" y="195.98" width="12.47" height="6.36" fill="#38a8ff"/>
<rect x="190.32" y="195.98" width="6.39" height="6.36" fill="#00ffff"/>
<rect x="196.41" y="195.98" width="12.47" height="6.36" fill="#38a8ff"/>
<rect x="208.58" y="195.98" width="30.73" height="6.36" fill="#0000ff"/>
<rect x="239.01" y="195.98" width="18.56" height="6.36" fill="#3a5cff"/>
<rect x="257.27" y="195.98" width="6.39" height="6.36" fill="#38a8ff"/>
<rect x="263.35" y="195.98" width="55.07" height="6.36" fill="#00ffff"/>
<rect x="172.06" y="202.04" width="12.47" height="6.36" fill="#3a5cff"/>
<rect x="184.24" y="202.04" width="12.47" height="6.36" fill="#38a8ff"/>
<rect x="196.41" y="202.04" width="6.39" height="6.36" fill="#00ffff"/>
<rect x="202.49" y="202.04" width="12.47" height="6.36" fill="#38a8ff"/>
<rect x="214.67" y="202.04" width="18.56" height="6.36" fill="#0000ff"/>
<rect x="232.92" y="202.04" width="12.47" height="6.36" fill="#3a5cff"/>
<rect x="245.10" y="202.04" width="12.47" height="6.36" fill="#38a8ff"/>
<rect x="257.27" y="202.04" width="12.47" height="6.36" fill="#00ffff"/>
<rect x="269.44" y="202.04" width="18.56" height="6.36" fill="#38a8ff"/>
<rect x="287.70" y="202.04" width="6.39" height="6.36" fill="#00ffff"/>
<rect x="293.78" y="202.04" width="30.73" height="6.36" fill="#38a8ff"/>
<rect x="172.06" y="208.09" width="18.56" height="6.36" fill="#38a8ff"/>
<rect x="190.32" y="208.09" width="12.47" height="6.36" fill="#00ffff"/>
<rect x="202.49" y="208.09" width="6.39" height="6.36" fill="#38a8ff"/>
<rect x="208.58" y="208.09" width="12.47" height="6.36" fill="#00ffff"/>
<rect x="220.75" y="208.09" width="12.47" height="6.36" fill="#0000ff"/>
<rect x="232.92" y="208.09" width="12.47" height="6.36" fill="#3a5cff"/>
<rect x="245.10" y="208.09" width="12.47" height="6.36" fill="#00ffff"/>
<rect x="257.27" y="208.09" width="30.73" height="6.36" fill="#38a8ff"/>
<rect x="287.70" y="208.09" width="6.39" height="6.36" fill="#00ffff"/>
<rect x="293.78" y="208.09" width="6.39" height="6.36" fill="#38a8ff"/>
<rect x="299.87" y="208.09" width="6.39" height="6.36" fill="#00ffff"/>
<rect x="312.04" y="208.09" width="6.39" height="6.36" fill="#3a5cff"/>
<rect x="318.13" y="208.09" width="6.39" height="6.36" fill="#38a8ff"/>
<rect x="178.15" y="214.15" width="18.56" height="6.36" fill="#00ffff"/>
<rect x="196.41" y="214.15" width="6.39" height="6.36" fill="#8fffb8"/>
<rect x="202.49" y="214.15" width="12.47" height="6.36" fill="#00ffff"/>
<rect x="214.67" y="214.15" width="6.39" height="6.36" fill="#8fffb8"/>
<rect x="220.75" y="214.15" width="18.56" height="6.36" fill="#0000ff"/>
<rect x="239.01" y="214.15" width="12.47" height="6.36" fill="#3a5cff"/>
<rect x="251.18" y="214.15" width="6.39" height="6.36" fill="#38a8ff"/>
<rect x="257.27" y="214.15" width="6.39" height="6.36" fill="#00ffff"/>
<rect x="263.35" y="214.15" width="6.39" height="6.36" fill="#38a8ff"/>
<rect x="269.44" y="214.15" width="12.47" height="6.36" fill="#3a5cff"/>
<rect x="281.61" y="214.15" width="6.39" height="6.36" fill="#38a8ff"/>
<rect x="287.70" y="214.15" width="12.47" height="6.36" fill="#00ffff"/>
<rect x="312.04" y="214.15" width="12.47" height="6.36" fill="#ff6f00"/>
<rect x="184.24" y="220.21" width="6.39" height="6.36" fill="#d0ff63"/>
<rect x="190.32" y="220.21" width="30.73" height="6.36" fill="#8fffb8"/>
<rect x="220.75" y="220.21" width="24.64" height="6.36" fill="#0000ff"/>
<rect x="245.10" y="220.21" width="6.39" height="6.36" fill="#3a5cff"/>
<rect x="251.18" y="220.21" width="12.47" height="6.36" fill="#38a8ff"/>
<rect x="263.35" y="220.21" width="6.39" height="6.36" fill="#00ffff"/>
<rect x="269.44" y="220.21" width="12.47" height="6.36" fill="#38a8ff"/>
<rect x="281.61" y="220.21" width="12.47" height="6.36" fill="#00ffff"/>
<rect x="312.04" y="220.21" width="12.47" height="6.36" fill="#ff6f00"/>
<rect x="190.32" y="226.26" width="6.39" height="6.36" fill="#d0ff63"/>
<rect x="196.41" y="226.26" width="12.47" height="6.36" fill="#8fffb8"/>
<rect x="232.92" y="226.26" width="12.47" height="6.36" fill="#0000ff"/>
<rect x="245.10" y="226.26" width="6.39" height="6.36" fill="#3a5cff"/>
<rect x="251.18" y="226.26" width="30.73" height="6.36" fill="#38a8ff"/>
<rect x="312.04" y="226.26" width="12.47" height="6.36" fill="#ff6f00"/>
<rect x="245.10" y="232.32" width="6.39" height="6.36" fill="#38a8ff"/>
<rect x="251.18" y="232.32" width="6.39" height="6.36" fill="#ffff00"/>
<rect x="239.01" y="238.38" width="18.56" height="6.36" fill="#ffb700"/>
<rect x="239.01" y="244.44" width="18.56" height="6.36" fill="#ff6f00"/>
<path d="M26.0,117.2v24.2M32.1,117.2v24.2M38.2,117.2v24.2M44.3,117.2v24.2M50.3,105.1v6.1M50.3,117.2v18.2M56.4,105.1v36.3M56.4,165.7v6.1M62.5,87.0v6.1M62.5,99.1v24.2M62.5,129.4v12.1M62.5,153.6v6.1M62.5,165.7v12.1M68.6,87.0v60.6M68.6,153.6v12.1M68.6,171.8v6.1M74.7,80.9v66.6M74.7,159.6v6.1M74.7,171.8v6.1M80.8,74.8v48.5M80.8,129.4v24.2M80.8,171.8v6.1M86.9,74.8v78.7M92.9,62.7v78.7M92.9,183.9v6.1M99.0,56.7v60.6M99.0,123.3v12.1M99.0,141.5v6.1M99.0,183.9v6.1M105.1,56.7v60.6M105.1,123.3v6.1M105.1,141.5v6.1M105.1,183.9v6.1M111.2,56.7v60.6M111.2,123.3v6.1M111.2,165.7v6.1M111.2,177.8v12.1M117.3,56.7v78.7M117.3,165.7v30.3M123.4,56.7v54.5M123.4,117.2v18.2M123.4,147.5v6.1M123.4,165.7v30.3M129.5,62.7v18.2M129.5,87.0v24.2M129.5,123.3v6.1M129.5,147.5v6.1M129.5,165.7v30.3M135.5,62.7v6.1M135.5,74.8v6.1M135.5,87.0v30.3M135.5,123.3v18.2M135.5,159.6v36.3M141.6,74.8v6.1M141.6,87.0v30.3M141.6,123.3v18.2M141.6,147.5v48.5M147.7,87.0v24.2M147.7,117.2v78.7M153.8,87.0v60.6M153.8,165.7v30.3M159.9,87.0v109.0M166.0,93.0v30.3M166.0,129.4v12.1M166.0,147.5v48.5M172.1,99.1v24.2M172.1,129.4v18.2M172.1,153.6v42.4M172.1,202.0v12.1M178.2,99.1v121.1M184.2,99.1v127.2M190.3,99.1v133.3M196.4,99.1v133.3M202.5,99.1v12.1M202.5,117.2v115.1M208.6,111.2v121.1M214.7,111.2v115.1M220.8,111.2v115.1M226.8,99.1v127.2M232.9,99.1v133.3M239.0,99.1v133.3M239.0,238.4v12.1M245.1,99.1v151.4M251.2,93.0v157.5M257.3,87.0v163.5M263.4,87.0v145.4M269.4,80.9v151.4M275.5,80.9v151.4M281.6,62.7v169.6M287.7,56.7v169.6M293.8,56.7v169.6M299.9,56.7v163.5M306.0,44.6v169.6M312.0,32.4v199.9M318.1,32.4v199.9M324.2,32.4v90.9M324.2,129.4v18.2M324.2,159.6v12.1M324.2,177.8v18.2M324.2,202.0v30.3M330.3,32.4v90.9M330.3,129.4v6.1M336.4,32.4v90.9M342.5,32.4v84.8M348.6,32.4v84.8M354.6,32.4v84.8M360.7,44.6v66.6M366.8,56.7v54.5M372.9,56.7v48.5M379.0,56.7v48.5M385.1,62.7v36.3M391.2,62.7v30.3M397.2,62.7v30.3M403.3,62.7v24.2M409.4,62.7v24.2M312.0,32.4h42.6M312.0,38.5h42.6M306.0,44.6h54.8M306.0,50.6h54.8M99.0,56.7h24.3M287.7,56.7h91.3M92.9,62.7h42.6M281.6,62.7h127.8M92.9,68.8h42.6M281.6,68.8h127.8M80.8,74.8h60.9M281.6,74.8h127.8M74.7,80.9h66.9M269.4,80.9h140.0M62.5,87.0h85.2M153.8,87.0h6.1M257.3,87.0h6.1M269.4,87.0h140.0M62.5,93.0h103.5M251.2,93.0h146.1M62.5,99.1h109.5M178.2,99.1h24.3M226.8,99.1h12.2M245.1,99.1h140.0M50.3,105.1h152.2M226.8,105.1h152.2M50.3,111.2h91.3M147.7,111.2h54.8M208.6,111.2h12.2M226.8,111.2h140.0M26.0,117.2h6.1M38.2,117.2h60.9M105.1,117.2h18.3M135.5,117.2h6.1M147.7,117.2h206.9M26.0,123.3h48.7M80.8,123.3h24.3M111.2,123.3h12.2M129.5,123.3h30.4M166.0,123.3h48.7M220.8,123.3h115.6M26.0,129.4h79.1M111.2,129.4h12.2M129.5,129.4h200.8M26.0,135.4h73.0M117.3,135.4h6.1M135.5,135.4h194.8M26.0,141.5h18.3M56.4,141.5h36.5M99.0,141.5h6.1M135.5,141.5h188.7M68.6,147.5h18.3M99.0,147.5h6.1M123.4,147.5h6.1M141.6,147.5h24.3M172.1,147.5h152.2M62.5,153.6h6.1M80.8,153.6h6.1M123.4,153.6h6.1M141.6,153.6h6.1M159.9,153.6h158.2M62.5,159.6h12.2M135.5,159.6h12.2M159.9,159.6h164.3M56.4,165.7h6.1M68.6,165.7h6.1M111.2,165.7h6.1M123.4,165.7h30.4M159.9,165.7h164.3M56.4,171.8h24.3M111.2,171.8h213.0M62.5,177.8h18.3M111.2,177.8h213.0M92.9,183.9h12.2M111.2,183.9h213.0M92.9,189.9h12.2M111.2,189.9h213.0M117.3,196.0h206.9M172.1,202.0h152.2M172.1,208.1h152.2M172.1,214.2h133.9M312.0,214.2h12.2M178.2,220.2h121.7M312.0,220.2h12.2M184.2,226.3h109.5M312.0,226.3h12.2M190.3,232.3h18.3M232.9,232.3h48.7M312.0,232.3h12.2M239.0,238.4h18.3M239.0,244.4h18.3M239.0,250.5h18.3" stroke="#6e6e6e" stroke-width="0.55" fill="none" opacity="0.75"/><path d="M38.2,111.2v6.1M44.3,111.2v6.1M44.3,141.5v6.1M50.3,111.2v6.1M50.3,135.4v12.1M56.4,141.5v12.1M56.4,159.6v6.1M62.5,123.3v6.1M62.5,141.5v12.1M62.5,159.6v6.1M68.6,147.5v6.1M68.6,165.7v6.1M74.7,147.5v12.1M74.7,165.7v6.1M80.8,123.3v6.1M80.8,153.6v18.2M80.8,177.8v6.1M86.9,153.6v30.3M92.9,141.5v42.4M99.0,117.2v6.1M99.0,135.4v6.1M99.0,147.5v36.3M105.1,117.2v6.1M105.1,129.4v12.1M105.1,147.5v36.3M111.2,117.2v6.1M111.2,129.4v36.3M111.2,171.8v6.1M117.3,135.4v30.3M123.4,111.2v6.1M123.4,135.4v12.1M123.4,153.6v12.1M129.5,80.9v6.1M129.5,111.2v12.1M129.5,129.4v18.2M129.5,153.6v12.1M135.5,68.8v6.1M135.5,80.9v6.1M135.5,117.2v6.1M135.5,141.5v18.2M141.6,80.9v6.1M141.6,117.2v6.1M141.6,141.5v6.1M147.7,111.2v6.1M153.8,147.5v18.2M166.0,87.0v6.1M166.0,123.3v6.1M166.0,141.5v6.1M172.1,123.3v6.1M172.1,147.5v6.1M202.5,111.2v6.1M208.6,99.1v12.1M214.7,99.1v12.1M220.8,99.1v12.1M324.2,171.8v6.1M147.7,87.0h6.1M159.9,87.0h6.1M263.4,87.0h6.1M172.1,99.1h6.1M202.5,99.1h24.3M239.0,99.1h6.1M202.5,105.1h24.3M38.2,111.2h12.2M141.6,111.2h6.1M202.5,111.2h6.1M220.8,111.2h6.1M32.1,117.2h6.1M99.0,117.2h6.1M123.4,117.2h12.2M141.6,117.2h6.1M74.7,123.3h6.1M105.1,123.3h6.1M123.4,123.3h6.1M159.9,123.3h6.1M214.7,123.3h6.1M105.1,129.4h6.1M123.4,129.4h6.1M99.0,135.4h18.3M123.4,135.4h12.2M44.3,141.5h12.2M92.9,141.5h6.1M105.1,141.5h30.4M44.3,147.5h24.3M86.9,147.5h12.2M105.1,147.5h18.3M129.5,147.5h12.2M166.0,147.5h6.1M56.4,153.6h6.1M68.6,153.6h12.2M86.9,153.6h36.5M129.5,153.6h12.2M147.7,153.6h12.2M56.4,159.6h6.1M74.7,159.6h60.9M147.7,159.6h12.2M62.5,165.7h6.1M74.7,165.7h36.5M117.3,165.7h6.1M153.8,165.7h6.1M80.8,171.8h30.4M80.8,177.8h30.4M80.8,183.9h12.2M105.1,183.9h6.1M105.1,189.9h6.1" stroke="#6e6e6e" stroke-width="0.5" fill="none" opacity="0.72"/>
</g>
<polygon points="30.4,121.5 31.4,117.7 36.0,115.3 41.5,113.6 46.9,114.3 52.0,112.0 57.4,108.2 64.1,106.6 70.5,104.9 71.3,100.5 72.5,95.8 70.5,92.1 68.8,87.4 73.9,86.4 78.9,85.0 83.3,85.7 85.0,80.3 87.3,74.6 92.4,73.6 98.3,73.9 102.5,71.9 102.8,66.8 107.5,64.5 111.8,61.4 116.8,61.8 119.7,65.5 123.5,67.8 129.4,68.5 132.5,71.9 136.2,76.3 135.2,81.3 136.5,85.4 144.6,86.0 153.0,86.7 159.7,91.4 163.1,92.1 166.8,97.5 171.5,99.8 180.1,100.8 185.3,100.7 193.7,100.4 201.2,102.4 208.8,104.9 217.2,106.6 226.5,104.9 234.1,102.7 242.5,102.1 250.9,100.7 257.6,97.3 261.9,93.6 260.2,89.8 263.5,86.9 267.7,88.1 271.1,88.1 277.8,85.6 284.6,83.0 291.3,79.7 299.7,77.1 306.5,75.8 310.7,74.1 307.2,71.3 301.4,70.5 294.8,71.0 288.2,71.3 285.7,68.8 287.4,64.7 290.7,60.6 294.0,57.7 298.1,58.9 305.6,56.4 308.9,51.5 312.2,46.5 316.3,42.4 312.2,39.9 316.3,36.9 324.6,35.3 332.0,34.1 337.8,35.7 342.8,36.9 348.6,39.1 351.9,43.2 354.3,49.0 358.5,56.4 362.6,58.9 369.2,59.7 375.8,63.0 378.3,68.8 382.5,70.5 389.1,68.8 395.7,67.2 403.6,65.5 400.6,69.7 397.3,74.6 394.9,80.4 390.7,85.4 384.1,87.0 380.0,90.3 380.5,96.1 378.3,100.2 375.8,101.9 373.4,100.2 369.2,102.7 364.3,105.2 361.0,107.7 356.8,106.9 352.7,109.3 347.7,112.6 342.8,116.0 337.8,119.3 332.8,120.9 327.9,122.6 322.9,124.2 318.8,124.2 321.3,120.9 325.4,115.1 322.9,112.6 318.0,114.3 313.0,117.6 306.4,120.9 299.8,123.4 297.3,125.9 300.6,129.2 305.6,130.8 308.9,134.1 313.0,132.5 318.0,127.5 317.1,130.8 319.6,133.3 326.2,132.8 327.1,135.0 325.2,136.6 319.5,137.4 315.3,141.6 310.4,145.7 307.9,148.2 312.8,152.3 316.1,157.3 319.5,162.2 323.6,167.2 324.1,173.0 328.6,173.3 325.2,178.0 322.8,182.9 321.1,187.9 317.8,192.0 313.7,196.1 311.2,201.1 308.7,206.1 302.9,211.0 296.3,216.0 289.7,221.0 281.4,224.3 274.8,225.1 266.5,228.4 258.3,230.9 257.4,230.8 254.1,232.4 253.3,237.4 251.1,236.9 250.5,232.8 249.1,230.8 245.8,229.5 241.7,229.1 237.6,228.6 232.6,227.0 230.6,223.7 227.6,222.0 223.5,219.9 219.4,221.5 214.4,222.8 209.5,222.5 205.3,224.2 201.5,226.1 200.9,230.3 197.9,231.4 196.2,228.6 192.9,229.5 189.6,227.0 186.3,225.3 188.0,221.5 184.7,220.4 182.2,216.2 178.9,212.9 176.1,209.6 179.7,205.5 182.2,200.5 183.3,195.6 181.3,191.4 177.2,189.8 173.9,188.4 169.8,190.6 164.8,189.4 159.8,191.4 155.7,193.9 149.9,196.7 145.0,195.6 140.0,193.9 139.1,192.2 135.8,190.5 127.5,189.7 123.4,193.8 119.2,190.5 111.0,191.3 104.3,189.7 97.7,185.6 91.9,183.9 86.1,180.6 80.4,176.5 75.4,175.6 68.0,173.2 61.3,168.2 59.7,162.4 64.1,156.1 61.4,152.0 55.7,149.7 51.3,144.3 45.3,141.9 41.9,135.9 35.7,134.2 38.5,130.1 36.3,127.8 32.6,125.8" fill="none" stroke="#555" stroke-width="0.6" stroke-linejoin="round"/>
<polygon points="243.4,242.7 247.5,239.7 254.1,239.0 257.7,240.2 255.8,244.3 252.5,247.6 248.3,250.1 243.9,248.0" fill="none" stroke="#555" stroke-width="0.5"/>
<polygon points="321.1,206.9 323.6,209.4 321.9,216.0 318.6,222.6 316.1,227.6 313.7,222.6 312.5,216.0 315.3,211.9 318.6,208.6" fill="none" stroke="#555" stroke-width="0.5"/>
<path d="M334.3,201.9L333.2,204.4M328.6,211.0L327.7,217.6M322.8,229.2L319.5,233.4M246.5,262.9L250.1,268.2M253.5,286.1L251.6,292.6M240.4,317.3L240.4,324.5M261.8,340.2L268.3,338.3M287.9,312.2L284.2,317.3M305.7,288.2L303.1,294.8M306.7,263.6L306.7,269.4M311.8,245.0L308.2,251.2M266.1,324.5L266.8,328.2M250.1,311.5L254.5,310.7L253.8,313.6L248.7,315.5M261.6,257.1l-0.2,-0.4M263.5,258.9l0.7,-0.1M258.9,259.4l0.4,-0.1M262.5,262.6l0.5,-0.2M264.4,263.6l-0.2,-0.6M266.5,258.2l0.4,-0.2M261.4,262.5l0.6,-0.4M264.5,258.9l-0.1,-0.4M264.9,259.4l0.4,-0.6M283.6,296.9l-0.7,-0.5M281.0,302.3l-0.1,-0.9M289.1,294.4l-0.5,-0.0M285.5,303.3l0.6,-0.3M277.4,305.3l-0.5,-0.5M292.2,293.5l-0.4,-0.6M287.1,297.9l-0.8,-0.5M286.1,301.5l0.8,-0.2M290.9,293.5l0.3,-0.7M275.9,302.7l0.4,-0.2M276.8,298.9l0.3,-0.9M277.0,302.0l-0.1,-0.9M294.2,301.3l0.4,-0.5M285.0,305.5l-0.5,-0.1M277.7,298.3l0.5,-0.5M286.1,295.2l0.7,-0.0M283.5,301.1l-0.8,-0.1M286.7,300.6l-0.2,-0.4M295.3,299.5l-0.8,-0.3M283.0,298.7l0.7,-0.2M278.0,297.1l0.2,-0.4M276.9,300.7l0.9,-0.1M286.0,293.5l0.4,-0.4M280.8,295.2l-0.9,-0.5M277.1,307.8l0.4,-0.1M270.5,308.1l-0.4,-0.3M275.6,301.5l-0.1,-0.4M284.5,313.0l-0.7,-0.3M268.8,311.7l0.7,-0.4M282.5,310.1l0.3,-0.5M293.8,301.9l-0.7,-0.5M269.2,314.7l0.2,-0.4M272.2,316.2l-0.7,-0.1M292.6,293.1l0.4,-0.3M264.9,311.1l-0.4,-0.9M289.9,297.7l-0.4,-0.8M265.9,320.4l-0.8,-0.2M286.8,300.1l0.7,-0.5M275.9,315.7l-0.6,-0.1M279.8,315.9l-0.3,-0.4M269.8,321.1l-0.8,-0.1M273.8,311.8l0.4,-0.2M296.2,296.6l-0.1,-1.0M280.1,314.0l-0.4,-0.3M267.7,310.9l0.5,-0.5M269.3,312.4l0.9,-0.4M273.0,310.4l-0.2,-0.9M280.2,315.0l-0.0,-0.7M274.1,299.9l0.1,-0.5M266.9,315.5l-0.5,-0.6M272.7,312.0l-0.2,-0.9M265.5,318.5l0.4,-0.4M287.9,300.0l-0.2,-0.8M292.0,295.3l-0.2,-0.7M308.7,217.6l0.7,0.3M292.7,234.7l0.7,0.3M321.1,226.4l0.7,0.3M283.1,220.6l0.7,0.3" stroke="#333" stroke-width="0.55" fill="none" stroke-linecap="round"/><ellipse cx="277.6" cy="264.6" rx="3.5" ry="1.5" transform="rotate(-27 277.6 264.6)" fill="none" stroke="#333" stroke-width="0.55"/><circle cx="308.7" cy="217.6" r="0.65" fill="#222"/><circle cx="307.7" cy="219.0" r="0.65" fill="#222"/><circle cx="292.7" cy="234.7" r="0.65" fill="#222"/><circle cx="321.1" cy="226.4" r="0.65" fill="#222"/>
</g>
<text x="32" y="226.6" font-size="11.3">XCO<tspan font-size="7.6" dy="2.3">2ano</tspan><tspan dy="-2.3">(ppm)</tspan></text>
<rect x="27.1" y="234.4" width="28.2" height="14.0" fill="#0000ff" stroke="#a8a8a8" stroke-width="0.5"/>
<text x="60.4" y="245.9" font-size="11.15">−1.55 − −0.57</text>
<rect x="27.1" y="253.3" width="28.2" height="14.0" fill="#3a5cff" stroke="#a8a8a8" stroke-width="0.5"/>
<text x="60.4" y="264.9" font-size="11.15">−0.56 − −0.16</text>
<rect x="27.1" y="272.3" width="28.2" height="14.0" fill="#38a8ff" stroke="#a8a8a8" stroke-width="0.5"/>
<text x="60.4" y="283.8" font-size="11.15">−0.15 − 0.14</text>
<rect x="27.1" y="291.2" width="28.2" height="14.0" fill="#00ffff" stroke="#a8a8a8" stroke-width="0.5"/>
<text x="60.4" y="302.8" font-size="11.15">0.15 − 0.41</text>
<rect x="27.1" y="310.2" width="28.2" height="14.0" fill="#8fffb8" stroke="#a8a8a8" stroke-width="0.5"/>
<text x="60.4" y="321.7" font-size="11.15">0.42 − 0.72</text>
<rect x="130.3" y="234.4" width="28.2" height="14.0" fill="#d0ff63" stroke="#a8a8a8" stroke-width="0.5"/>
<text x="163.6" y="245.9" font-size="11.15">0.73 − 1.08</text>
<rect x="130.3" y="253.3" width="28.2" height="14.0" fill="#ffff00" stroke="#a8a8a8" stroke-width="0.5"/>
<text x="163.6" y="264.9" font-size="11.15">1.09 − 1.46</text>
<rect x="130.3" y="272.3" width="28.2" height="14.0" fill="#ffb700" stroke="#a8a8a8" stroke-width="0.5"/>
<text x="163.6" y="283.8" font-size="11.15">1.47 − 1.85</text>
<rect x="130.3" y="291.2" width="28.2" height="14.0" fill="#ff6f00" stroke="#a8a8a8" stroke-width="0.5"/>
<text x="163.6" y="302.8" font-size="11.15">1.86 − 2.28</text>
<rect x="130.3" y="310.2" width="28.2" height="14.0" fill="#ff0000" stroke="#a8a8a8" stroke-width="0.5"/>
<text x="163.6" y="321.7" font-size="11.15">2.29 − 3.24</text>
<rect x="24.6" y="329.3" width="18.1" height="9.3" fill="#fff" stroke="#7a7a7a" stroke-width="0.7"/>
<text x="46.5" y="338.2" font-size="11">National boundaries</text>
<rect x="144.6" y="329.3" width="18.2" height="9.3" fill="url(#hatchL)" stroke="#b0b0b0" stroke-width="0.5"/>
<text x="167.2" y="338.2" font-size="11">Background area</text>
<rect x="292.2" y="338.8" width="82.9" height="4.1" fill="#fff" stroke="#000" stroke-width="0.7"/><rect x="292.2" y="338.8" width="41.5" height="4.1" fill="#000"/><text x="292.8" y="334.5" font-size="9.8" text-anchor="middle">0</text><text x="334.2" y="334.5" font-size="9.8" text-anchor="middle">750</text><text x="365.2" y="334.5" font-size="9.8">1500 km</text>
<text x="403.7" y="31.3" text-anchor="middle" style="font-family:'Liberation Sans','DejaVu Sans',sans-serif;font-size:6.6px;font-weight:bold;fill:#000">N</text><path d="M403.7,33 L398.9,48.1 L404,43.5 Z" fill="#000"/><path d="M403.7,33 L407.9,47.8 L404,43.5 Z" fill="#fff" stroke="#000" stroke-width="0.55"/><path d="M404.6,38.5L405.6,40.5M404.9,41L406.6,44.2" stroke="#000" stroke-width="0.4"/>
<rect x="21.0" y="21.5" width="395.4" height="328.7" fill="none" stroke="#2b2b2b" stroke-width="1.2"/>
<text x="71.3" y="17.9" font-size="10.2" text-anchor="middle">80°E</text>
<text x="71.3" y="363.5" font-size="10.2" text-anchor="middle">80°E</text>
<text x="132.1" y="17.9" font-size="10.2" text-anchor="middle">90°E</text>
<text x="132.1" y="363.5" font-size="10.2" text-anchor="middle">90°E</text>
<text x="193.0" y="17.9" font-size="10.2" text-anchor="middle">100°E</text>
<text x="193.0" y="363.5" font-size="10.2" text-anchor="middle">100°E</text>
<text x="253.8" y="17.9" font-size="10.2" text-anchor="middle">110°E</text>
<text x="253.8" y="363.5" font-size="10.2" text-anchor="middle">110°E</text>
<text x="314.7" y="17.9" font-size="10.2" text-anchor="middle">120°E</text>
<text x="314.7" y="363.5" font-size="10.2" text-anchor="middle">120°E</text>
<text x="375.5" y="17.9" font-size="10.2" text-anchor="middle">130°E</text>
<text x="375.5" y="363.5" font-size="10.2" text-anchor="middle">130°E</text>
<text transform="translate(17.9,305.3) rotate(-90)" font-size="10.2" text-anchor="middle">10°N</text>
<text transform="translate(429.8,305.3) rotate(-90)" font-size="10.2" text-anchor="middle">10°N</text>
<text transform="translate(17.9,244.3) rotate(-90)" font-size="10.2" text-anchor="middle">20°N</text>
<text transform="translate(429.8,244.3) rotate(-90)" font-size="10.2" text-anchor="middle">20°N</text>
<text transform="translate(17.9,183.4) rotate(-90)" font-size="10.2" text-anchor="middle">30°N</text>
<text transform="translate(429.8,183.4) rotate(-90)" font-size="10.2" text-anchor="middle">30°N</text>
<text transform="translate(17.9,122.4) rotate(-90)" font-size="10.2" text-anchor="middle">40°N</text>
<text transform="translate(429.8,122.4) rotate(-90)" font-size="10.2" text-anchor="middle">40°N</text>
<text transform="translate(17.9,61.4) rotate(-90)" font-size="10.2" text-anchor="middle">50°N</text>
<text transform="translate(429.8,61.4) rotate(-90)" font-size="10.2" text-anchor="middle">50°N</text>
<text x="218.7" y="387.6" font-size="19.8" text-anchor="middle" font-family="'Liberation Serif', 'DejaVu Serif', serif" fill="#111">(<tspan font-weight="bold">a</tspan>) 2010</text>
</g>
<g transform="translate(512.5,0)">
<path d="M21.0,305.3H416.4M21.0,244.3H416.4M21.0,183.4H416.4M21.0,122.4H416.4M21.0,61.4H416.4" stroke="#d2d2d2" stroke-width="0.65" stroke-dasharray="3.6,10.37" fill="none"/><path d="M71.3,21.5V350.2M132.1,21.5V350.2M193.0,21.5V350.2M314.7,21.5V350.2M375.5,21.5V350.2" stroke="#e4e4e4" stroke-width="0.65" stroke-dasharray="3.4,10.5" stroke-dashoffset="7.6" fill="none"/><path d="M71.3,21.5v2.6M71.3,350.2v-2.6M132.1,21.5v2.6M132.1,350.2v-2.6M193.0,21.5v2.6M193.0,350.2v-2.6M314.7,21.5v2.6M314.7,350.2v-2.6M375.5,21.5v2.6M375.5,350.2v-2.6M21.0,305.3h2.6M416.4,305.3h-2.6M21.0,244.3h2.6M416.4,244.3h-2.6M21.0,183.4h2.6M416.4,183.4h-2.6M21.0,122.4h2.6M416.4,122.4h-2.6M21.0,61.4h2.6M416.4,61.4h-2.6" stroke="#777" stroke-width="0.6" fill="none"/>
<g clip-path="url(#china)"><rect x="20" y="20" width="400" height="240" fill="url(#hatchb)"/></g>
<g>
<g clip-path="url(#china)">
<rect x="312.04" y="32.44" width="18.56" height="6.36" fill="#00ffff"/>
<rect x="330.30" y="32.44" width="24.64" height="6.36" fill="#38a8ff"/>
<rect x="312.04" y="38.50" width="18.56" height="6.36" fill="#00ffff"/>
<rect x="330.30" y="38.50" width="18.56" height="6.36" fill="#38a8ff"/>
<rect x="348.56" y="38.50" width="6.39" height="6.36" fill="#3a5cff"/>
<rect x="305.96" y="44.55" width="18.56" height="6.36" fill="#00ffff"/>
<rect x="330.30" y="44.55" width="12.47" height="6.36" fill="#38a8ff"/>
<rect x="348.56" y="44.55" width="12.47" height="6.36" fill="#38a8ff"/>
<rect x="305.96" y="50.61" width="12.47" height="6.36" fill="#00ffff"/>
<rect x="318.13" y="50.61" width="48.99" height="6.36" fill="#38a8ff"/>
<rect x="99.03" y="56.67" width="24.64" height="6.36" fill="#38a8ff"/>
<rect x="281.61" y="56.67" width="42.90" height="6.36" fill="#3a5cff"/>
<rect x="330.30" y="56.67" width="12.47" height="6.36" fill="#3a5cff"/>
<rect x="342.47" y="56.67" width="36.82" height="6.36" fill="#38a8ff"/>
<rect x="92.95" y="62.73" width="18.56" height="6.36" fill="#00ffff"/>
<rect x="111.20" y="62.73" width="6.39" height="6.36" fill="#38a8ff"/>
<rect x="281.61" y="62.73" width="48.99" height="6.36" fill="#3a5cff"/>
<rect x="330.30" y="62.73" width="24.64" height="6.36" fill="#38a8ff"/>
<rect x="354.64" y="62.73" width="24.64" height="6.36" fill="#00ffff"/>
<rect x="378.99" y="62.73" width="18.56" height="6.36" fill="#8fffb8"/>
<rect x="397.25" y="62.73" width="12.47" height="6.36" fill="#d0ff63"/>
<rect x="92.95" y="68.78" width="12.47" height="6.36" fill="#00ffff"/>
<rect x="105.12" y="68.78" width="6.39" height="6.36" fill="#8fffb8"/>
<rect x="111.20" y="68.78" width="18.56" height="6.36" fill="#00ffff"/>
<rect x="281.61" y="68.78" width="42.90" height="6.36" fill="#3a5cff"/>
<rect x="324.21" y="68.78" width="12.47" height="6.36" fill="#38a8ff"/>
<rect x="336.39" y="68.78" width="18.56" height="6.36" fill="#00ffff"/>
<rect x="354.64" y="68.78" width="36.82" height="6.36" fill="#8fffb8"/>
<rect x="391.16" y="68.78" width="6.39" height="6.36" fill="#d0ff63"/>
<rect x="397.25" y="68.78" width="12.47" height="6.36" fill="#ffff00"/>
<rect x="80.77" y="74.84" width="18.56" height="6.36" fill="#00ffff"/>
<rect x="99.03" y="74.84" width="24.64" height="6.36" fill="#8fffb8"/>
<rect x="123.38" y="74.84" width="18.56" height="6.36" fill="#00ffff"/>
<rect x="281.61" y="74.84" width="42.90" height="6.36" fill="#3a5cff"/>
<rect x="324.21" y="74.84" width="6.39" height="6.36" fill="#38a8ff"/>
<rect x="330.30" y="74.84" width="24.64" height="6.36" fill="#00ffff"/>
<rect x="354.64" y="74.84" width="24.64" height="6.36" fill="#8fffb8"/>
<rect x="378.99" y="74.84" width="30.73" height="6.36" fill="#d0ff63"/>
<rect x="74.69" y="80.90" width="12.47" height="6.36" fill="#00ffff"/>
<rect x="86.86" y="80.90" width="6.39" height="6.36" fill="#8fffb8"/>
<rect x="92.95" y="80.90" width="18.56" height="6.36" fill="#d0ff63"/>
<rect x="111.20" y="80.90" width="12.47" height="6.36" fill="#8fffb8"/>
<rect x="269.44" y="80.90" width="12.47" height="6.36" fill="#0000ff"/>
<rect x="281.61" y="80.90" width="12.47" height="6.36" fill="#3a5cff"/>
<rect x="293.78" y="80.90" width="12.47" height="6.36" fill="#38a8ff"/>
<rect x="305.96" y="80.90" width="18.56" height="6.36" fill="#3a5cff"/>
<rect x="324.21" y="80.90" width="12.47" height="6.36" fill="#38a8ff"/>
<rect x="336.39" y="80.90" width="12.47" height="6.36" fill="#00ffff"/>
<rect x="348.56" y="80.90" width="6.39" height="6.36" fill="#8fffb8"/>
<rect x="354.64" y="80.90" width="24.64" height="6.36" fill="#d0ff63"/>
<rect x="378.99" y="80.90" width="18.56" height="6.36" fill="#ffff00"/>
<rect x="62.52" y="86.95" width="18.56" height="6.36" fill="#0000ff"/>
<rect x="80.77" y="86.95" width="6.39" height="6.36" fill="#3a5cff"/>
<rect x="86.86" y="86.95" width="12.47" height="6.36" fill="#d0ff63"/>
<rect x="99.03" y="86.95" width="12.47" height="6.36" fill="#ffff00"/>
<rect x="111.20" y="86.95" width="6.39" height="6.36" fill="#d0ff63"/>
<rect x="117.29" y="86.95" width="12.47" height="6.36" fill="#8fffb8"/>
<rect x="129.46" y="86.95" width="12.47" height="6.36" fill="#00ffff"/>
<rect x="141.63" y="86.95" width="6.39" height="6.36" fill="#38a8ff"/>
<rect x="153.81" y="86.95" width="6.39" height="6.36" fill="#38a8ff"/>
<rect x="257.27" y="86.95" width="6.39" height="6.36" fill="#3a5cff"/>
<rect x="269.44" y="86.95" width="24.64" height="6.36" fill="#0000ff"/>
<rect x="293.78" y="86.95" width="12.47" height="6.36" fill="#3a5cff"/>
<rect x="305.96" y="86.95" width="12.47" height="6.36" fill="#38a8ff"/>
<rect x="318.13" y="86.95" width="12.47" height="6.36" fill="#3a5cff"/>
<rect x="330.30" y="86.95" width="6.39" height="6.36" fill="#38a8ff"/>
<rect x="336.39" y="86.95" width="12.47" height="6.36" fill="#00ffff"/>
<rect x="348.56" y="86.95" width="24.64" height="6.36" fill="#d0ff63"/>
<rect x="372.90" y="86.95" width="6.39" height="6.36" fill="#ffff00"/>
<rect x="378.99" y="86.95" width="6.39" height="6.36" fill="#d0ff63"/>
<rect x="68.60" y="93.01" width="12.47" height="6.36" fill="#0000ff"/>
<rect x="80.77" y="93.01" width="6.39" height="6.36" fill="#3a5cff"/>
<rect x="86.86" y="93.01" width="6.39" height="6.36" fill="#38a8ff"/>
<rect x="92.95" y="93.01" width="6.39" height="6.36" fill="#00ffff"/>
<rect x="99.03" y="93.01" width="12.47" height="6.36" fill="#8fffb8"/>
<rect x="111.20" y="93.01" width="12.47" height="6.36" fill="#ffff00"/>
<rect x="123.38" y="93.01" width="6.39" height="6.36" fill="#d0ff63"/>
<rect x="129.46" y="93.01" width="6.39" height="6.36" fill="#8fffb8"/>
<rect x="135.55" y="93.01" width="30.73" height="6.36" fill="#00ffff"/>
<rect x="251.18" y="93.01" width="18.56" height="6.36" fill="#3a5cff"/>
<rect x="269.44" y="93.01" width="12.47" height="6.36" fill="#0000ff"/>
<rect x="281.61" y="93.01" width="12.47" height="6.36" fill="#3a5cff"/>
<rect x="293.78" y="93.01" width="6.39" height="6.36" fill="#38a8ff"/>
<rect x="299.87" y="93.01" width="30.73" height="6.36" fill="#3a5cff"/>
<rect x="330.30" y="93.01" width="6.39" height="6.36" fill="#38a8ff"/>
<rect x="336.39" y="93.01" width="6.39" height="6.36" fill="#00ffff"/>
<rect x="342.47" y="93.01" width="6.39" height="6.36" fill="#8fffb8"/>
<rect x="348.56" y="93.01" width="24.64" height="6.36" fill="#d0ff63"/>
<rect x="372.90" y="93.01" width="12.47" height="6.36" fill="#8fffb8"/>
<rect x="68.60" y="99.07" width="6.39" height="6.36" fill="#3a5cff"/>
<rect x="74.69" y="99.07" width="6.39" height="6.36" fill="#38a8ff"/>
<rect x="80.77" y="99.07" width="12.47" height="6.36" fill="#00ffff"/>
<rect x="92.95" y="99.07" width="6.39" height="6.36" fill="#8fffb8"/>
<rect x="99.03" y="99.07" width="18.56" height="6.36" fill="#d0ff63"/>
<rect x="117.29" y="99.07" width="6.39" height="6.36" fill="#8fffb8"/>
<rect x="123.38" y="99.07" width="6.39" height="6.36" fill="#00ffff"/>
<rect x="129.46" y="99.07" width="12.47" height="6.36" fill="#38a8ff"/>
<rect x="141.63" y="99.07" width="30.73" height="6.36" fill="#3a5cff"/>
<rect x="178.15" y="99.07" width="12.47" height="6.36" fill="#38a8ff"/>
<rect x="190.32" y="99.07" width="12.47" height="6.36" fill="#3a5cff"/>
<rect x="226.84" y="99.07" width="12.47" height="6.36" fill="#3a5cff"/>
<rect x="245.10" y="99.07" width="12.47" height="6.36" fill="#38a8ff"/>
<rect x="263.35" y="99.07" width="6.39" height="6.36" fill="#38a8ff"/>
<rect x="269.44" y="99.07" width="24.64" height="6.36" fill="#3a5cff"/>
<rect x="293.78" y="99.07" width="12.47" height="6.36" fill="#38a8ff"/>
<rect x="305.96" y="99.07" width="6.39" height="6.36" fill="#3a5cff"/>
<rect x="312.04" y="99.07" width="30.73" height="6.36" fill="#38a8ff"/>
<rect x="342.47" y="99.07" width="12.47" height="6.36" fill="#00ffff"/>
<rect x="354.64" y="99.07" width="18.56" height="6.36" fill="#8fffb8"/>
<rect x="372.90" y="99.07" width="6.39" height="6.36" fill="#d0ff63"/>
<rect x="56.43" y="105.12" width="6.39" height="6.36" fill="#3a5cff"/>
<rect x="62.52" y="105.12" width="12.47" height="6.36" fill="#38a8ff"/>
<rect x="74.69" y="105.12" width="6.39" height="6.36" fill="#00ffff"/>
<rect x="80.77" y="105.12" width="12.47" height="6.36" fill="#8fffb8"/>
<rect x="92.95" y="105.12" width="6.39" height="6.36" fill="#d0ff63"/>
<rect x="99.03" y="105.12" width="12.47" height="6.36" fill="#ffff00"/>
<rect x="111.20" y="105.12" width="18.56" height="6.36" fill="#d0ff63"/>
<rect x="129.46" y="105.12" width="6.39" height="6.36" fill="#8fffb8"/>
<rect x="135.55" y="105.12" width="6.39" height="6.36" fill="#00ffff"/>
<rect x="147.72" y="105.12" width="18.56" height="6.36" fill="#38a8ff"/>
<rect x="165.98" y="105.12" width="12.47" height="6.36" fill="#3a5cff"/>
<rect x="184.24" y="105.12" width="18.56" height="6.36" fill="#0000ff"/>
<rect x="226.84" y="105.12" width="24.64" height="6.36" fill="#38a8ff"/>
<rect x="251.18" y="105.12" width="18.56" height="6.36" fill="#00ffff"/>
<rect x="269.44" y="105.12" width="18.56" height="6.36" fill="#38a8ff"/>
<rect x="287.70" y="105.12" width="42.90" height="6.36" fill="#00ffff"/>
<rect x="330.30" y="105.12" width="6.39" height="6.36" fill="#38a8ff"/>
<rect x="336.39" y="105.12" width="6.39" height="6.36" fill="#00ffff"/>
<rect x="342.47" y="105.12" width="6.39" height="6.36" fill="#38a8ff"/>
<rect x="348.56" y="105.12" width="6.39" height="6.36" fill="#00ffff"/>
<rect x="354.64" y="105.12" width="12.47" height="6.36" fill="#8fffb8"/>
<rect x="56.43" y="111.18" width="6.39" height="6.36" fill="#38a8ff"/>
<rect x="62.52" y="111.18" width="6.39" height="6.36" fill="#00ffff"/>
<rect x="68.60" y="111.18" width="12.47" height="6.36" fill="#8fffb8"/>
<rect x="80.77" y="111.18" width="18.56" height="6.36" fill="#d0ff63"/>
<rect x="105.12" y="111.18" width="12.47" height="6.36" fill="#d0ff63"/>
<rect x="135.55" y="111.18" width="6.39" height="6.36" fill="#00ffff"/>
<rect x="153.81" y="111.18" width="12.47" height="6.36" fill="#38a8ff"/>
<rect x="165.98" y="111.18" width="12.47" height="6.36" fill="#3a5cff"/>
<rect x="178.15" y="111.18" width="18.56" height="6.36" fill="#38a8ff"/>
<rect x="208.58" y="111.18" width="6.39" height="6.36" fill="#3a5cff"/>
<rect x="214.67" y="111.18" width="6.39" height="6.36" fill="#0000ff"/>
<rect x="226.84" y="111.18" width="36.82" height="6.36" fill="#00ffff"/>
<rect x="263.35" y="111.18" width="24.64" height="6.36" fill="#8fffb8"/>
<rect x="287.70" y="111.18" width="24.64" height="6.36" fill="#d0ff63"/>
<rect x="312.04" y="111.18" width="12.47" height="6.36" fill="#8fffb8"/>
<rect x="324.21" y="111.18" width="30.73" height="6.36" fill="#00ffff"/>
<rect x="26.00" y="117.24" width="6.39" height="6.36" fill="#00ffff"/>
<rect x="38.17" y="117.24" width="6.39" height="6.36" fill="#8fffb8"/>
<rect x="44.26" y="117.24" width="18.56" height="6.36" fill="#00ffff"/>
<rect x="62.52" y="117.24" width="6.39" height="6.36" fill="#8fffb8"/>
<rect x="68.60" y="117.24" width="6.39" height="6.36" fill="#d0ff63"/>
<rect x="80.77" y="117.24" width="12.47" height="6.36" fill="#8fffb8"/>
<rect x="117.29" y="117.24" width="6.39" height="6.36" fill="#3a5cff"/>
<rect x="147.72" y="117.24" width="12.47" height="6.36" fill="#3a5cff"/>
<rect x="165.98" y="117.24" width="18.56" height="6.36" fill="#3a5cff"/>
<rect x="184.24" y="117.24" width="12.47" height="6.36" fill="#38a8ff"/>
<rect x="196.41" y="117.24" width="18.56" height="6.36" fill="#3a5cff"/>
<rect x="220.75" y="117.24" width="12.47" height="6.36" fill="#3a5cff"/>
<rect x="232.92" y="117.24" width="18.56" height="6.36" fill="#0000ff"/>
<rect x="251.18" y="117.24" width="12.47" height="6.36" fill="#00ffff"/>
<rect x="263.35" y="117.24" width="12.47" height="6.36" fill="#8fffb8"/>
<rect x="275.53" y="117.24" width="18.56" height="6.36" fill="#d0ff63"/>
<rect x="293.78" y="117.24" width="12.47" height="6.36" fill="#ffff00"/>
<rect x="305.96" y="117.24" width="18.56" height="6.36" fill="#d0ff63"/>
<rect x="324.21" y="117.24" width="12.47" height="6.36" fill="#00ffff"/>
<rect x="26.00" y="123.30" width="24.64" height="6.36" fill="#00ffff"/>
<rect x="50.34" y="123.30" width="6.39" height="6.36" fill="#8fffb8"/>
<rect x="68.60" y="123.30" width="6.39" height="6.36" fill="#8fffb8"/>
<rect x="86.86" y="123.30" width="6.39" height="6.36" fill="#38a8ff"/>
<rect x="92.95" y="123.30" width="12.47" height="6.36" fill="#3a5cff"/>
<rect x="111.20" y="123.30" width="12.47" height="6.36" fill="#0000ff"/>
<rect x="129.46" y="123.30" width="12.47" height="6.36" fill="#0000ff"/>
<rect x="141.63" y="123.30" width="18.56" height="6.36" fill="#3a5cff"/>
<rect x="178.15" y="123.30" width="18.56" height="6.36" fill="#3a5cff"/>
<rect x="196.41" y="123.30" width="12.47" height="6.36" fill="#38a8ff"/>
<rect x="208.58" y="123.30" width="6.39" height="6.36" fill="#3a5cff"/>
<rect x="220.75" y="123.30" width="12.47" height="6.36" fill="#38a8ff"/>
<rect x="232.92" y="123.30" width="12.47" height="6.36" fill="#3a5cff"/>
<rect x="245.10" y="123.30" width="6.39" height="6.36" fill="#0000ff"/>
<rect x="251.18" y="123.30" width="12.47" height="6.36" fill="#3a5cff"/>
<rect x="263.35" y="123.30" width="18.56" height="6.36" fill="#38a8ff"/>
<rect x="281.61" y="123.30" width="6.39" height="6.36" fill="#00ffff"/>
<rect x="287.70" y="123.30" width="12.47" height="6.36" fill="#ffff00"/>
<rect x="299.87" y="123.30" width="12.47" height="6.36" fill="#d0ff63"/>
<rect x="26.00" y="129.35" width="18.56" height="6.36" fill="#00ffff"/>
<rect x="44.26" y="129.35" width="12.47" height="6.36" fill="#8fffb8"/>
<rect x="56.43" y="129.35" width="6.39" height="6.36" fill="#d0ff63"/>
<rect x="62.52" y="129.35" width="12.47" height="6.36" fill="#8fffb8"/>
<rect x="74.69" y="129.35" width="12.47" height="6.36" fill="#38a8ff"/>
<rect x="92.95" y="129.35" width="6.39" height="6.36" fill="#0000ff"/>
<rect x="117.29" y="129.35" width="6.39" height="6.36" fill="#0000ff"/>
<rect x="135.55" y="129.35" width="18.56" height="6.36" fill="#0000ff"/>
<rect x="153.81" y="129.35" width="6.39" height="6.36" fill="#3a5cff"/>
<rect x="159.89" y="129.35" width="24.64" height="6.36" fill="#0000ff"/>
<rect x="184.24" y="129.35" width="30.73" height="6.36" fill="#3a5cff"/>
<rect x="214.67" y="129.35" width="24.64" height="6.36" fill="#38a8ff"/>
<rect x="239.01" y="129.35" width="18.56" height="6.36" fill="#3a5cff"/>
<rect x="257.27" y="129.35" width="6.39" height="6.36" fill="#38a8ff"/>
<rect x="263.35" y="129.35" width="12.47" height="6.36" fill="#00ffff"/>
<rect x="275.53" y="129.35" width="12.47" height="6.36" fill="#8fffb8"/>
<rect x="287.70" y="129.35" width="18.56" height="6.36" fill="#00ffff"/>
<rect x="305.96" y="129.35" width="18.56" height="6.36" fill="#38a8ff"/>
<rect x="324.21" y="129.35" width="6.39" height="6.36" fill="#3a5cff"/>
<rect x="26.00" y="135.41" width="18.56" height="6.36" fill="#38a8ff"/>
<rect x="56.43" y="135.41" width="6.39" height="6.36" fill="#8fffb8"/>
<rect x="62.52" y="135.41" width="12.47" height="6.36" fill="#00ffff"/>
<rect x="74.69" y="135.41" width="6.39" height="6.36" fill="#38a8ff"/>
<rect x="86.86" y="135.41" width="6.39" height="6.36" fill="#0000ff"/>
<rect x="135.55" y="135.41" width="67.25" height="6.36" fill="#0000ff"/>
<rect x="202.49" y="135.41" width="12.47" height="6.36" fill="#3a5cff"/>
<rect x="214.67" y="135.41" width="24.64" height="6.36" fill="#38a8ff"/>
<rect x="239.01" y="135.41" width="6.39" height="6.36" fill="#3a5cff"/>
<rect x="245.10" y="135.41" width="6.39" height="6.36" fill="#38a8ff"/>
<rect x="251.18" y="135.41" width="12.47" height="6.36" fill="#00ffff"/>
<rect x="263.35" y="135.41" width="30.73" height="6.36" fill="#8fffb8"/>
<rect x="293.78" y="135.41" width="6.39" height="6.36" fill="#00ffff"/>
<rect x="299.87" y="135.41" width="6.39" height="6.36" fill="#38a8ff"/>
<rect x="305.96" y="135.41" width="18.56" height="6.36" fill="#3a5cff"/>
<rect x="68.60" y="141.47" width="6.39" height="6.36" fill="#3a5cff"/>
<rect x="74.69" y="141.47" width="12.47" height="6.36" fill="#0000ff"/>
<rect x="99.03" y="141.47" width="6.39" height="6.36" fill="#0000ff"/>
<rect x="147.72" y="141.47" width="12.47" height="6.36" fill="#0000ff"/>
<rect x="172.06" y="141.47" width="30.73" height="6.36" fill="#0000ff"/>
<rect x="202.49" y="141.47" width="18.56" height="6.36" fill="#3a5cff"/>
<rect x="220.75" y="141.47" width="24.64" height="6.36" fill="#38a8ff"/>
<rect x="245.10" y="141.47" width="12.47" height="6.36" fill="#00ffff"/>
<rect x="257.27" y="141.47" width="6.39" height="6.36" fill="#8fffb8"/>
<rect x="263.35" y="141.47" width="6.39" height="6.36" fill="#d0ff63"/>
<rect x="269.44" y="141.47" width="12.47" height="6.36" fill="#8fffb8"/>
<rect x="281.61" y="141.47" width="12.47" height="6.36" fill="#00ffff"/>
<rect x="293.78" y="141.47" width="12.47" height="6.36" fill="#38a8ff"/>
<rect x="305.96" y="141.47" width="12.47" height="6.36" fill="#3a5cff"/>
<rect x="80.77" y="147.52" width="6.39" height="6.36" fill="#0000ff"/>
<rect x="123.38" y="147.52" width="6.39" height="6.36" fill="#0000ff"/>
<rect x="141.63" y="147.52" width="6.39" height="6.36" fill="#0000ff"/>
<rect x="159.89" y="147.52" width="6.39" height="6.36" fill="#0000ff"/>
<rect x="178.15" y="147.52" width="6.39" height="6.36" fill="#0000ff"/>
<rect x="190.32" y="147.52" width="18.56" height="6.36" fill="#0000ff"/>
<rect x="208.58" y="147.52" width="6.39" height="6.36" fill="#3a5cff"/>
<rect x="214.67" y="147.52" width="12.47" height="6.36" fill="#38a8ff"/>
<rect x="226.84" y="147.52" width="6.39" height="6.36" fill="#00ffff"/>
<rect x="232.92" y="147.52" width="6.39" height="6.36" fill="#38a8ff"/>
<rect x="239.01" y="147.52" width="12.47" height="6.36" fill="#00ffff"/>
<rect x="251.18" y="147.52" width="36.82" height="6.36" fill="#8fffb8"/>
<rect x="287.70" y="147.52" width="6.39" height="6.36" fill="#00ffff"/>
<rect x="293.78" y="147.52" width="12.47" height="6.36" fill="#38a8ff"/>
<rect x="305.96" y="147.52" width="12.47" height="6.36" fill="#3a5cff"/>
<rect x="62.52" y="153.58" width="6.39" height="6.36" fill="#0000ff"/>
<rect x="141.63" y="153.58" width="6.39" height="6.36" fill="#0000ff"/>
<rect x="159.89" y="153.58" width="6.39" height="6.36" fill="#0000ff"/>
<rect x="165.98" y="153.58" width="12.47" height="6.36" fill="#3a5cff"/>
<rect x="178.15" y="153.58" width="30.73" height="6.36" fill="#0000ff"/>
<rect x="208.58" y="153.58" width="6.39" height="6.36" fill="#3a5cff"/>
<rect x="214.67" y="153.58" width="6.39" height="6.36" fill="#38a8ff"/>
<rect x="220.75" y="153.58" width="6.39" height="6.36" fill="#00ffff"/>
<rect x="226.84" y="153.58" width="12.47" height="6.36" fill="#38a8ff"/>
<rect x="239.01" y="153.58" width="12.47" height="6.36" fill="#00ffff"/>
<rect x="251.18" y="153.58" width="18.56" height="6.36" fill="#8fffb8"/>
<rect x="269.44" y="153.58" width="6.39" height="6.36" fill="#d0ff63"/>
<rect x="275.53" y="153.58" width="12.47" height="6.36" fill="#8fffb8"/>
<rect x="287.70" y="153.58" width="12.47" height="6.36" fill="#00ffff"/>
<rect x="299.87" y="153.58" width="6.39" height="6.36" fill="#38a8ff"/>
<rect x="305.96" y="153.58" width="12.47" height="6.36" fill="#3a5cff"/>
<rect x="68.60" y="159.64" width="6.39" height="6.36" fill="#0000ff"/>
<rect x="135.55" y="159.64" width="12.47" height="6.36" fill="#0000ff"/>
<rect x="159.89" y="159.64" width="6.39" height="6.36" fill="#3a5cff"/>
<rect x="165.98" y="159.64" width="12.47" height="6.36" fill="#38a8ff"/>
<rect x="178.15" y="159.64" width="6.39" height="6.36" fill="#3a5cff"/>
<rect x="190.32" y="159.64" width="24.64" height="6.36" fill="#0000ff"/>
<rect x="214.67" y="159.64" width="6.39" height="6.36" fill="#3a5cff"/>
<rect x="220.75" y="159.64" width="6.39" height="6.36" fill="#00ffff"/>
<rect x="226.84" y="159.64" width="12.47" height="6.36" fill="#38a8ff"/>
<rect x="239.01" y="159.64" width="12.47" height="6.36" fill="#00ffff"/>
<rect x="251.18" y="159.64" width="30.73" height="6.36" fill="#8fffb8"/>
<rect x="281.61" y="159.64" width="6.39" height="6.36" fill="#00ffff"/>
<rect x="287.70" y="159.64" width="6.39" height="6.36" fill="#8fffb8"/>
<rect x="293.78" y="159.64" width="12.47" height="6.36" fill="#00ffff"/>
<rect x="305.96" y="159.64" width="6.39" height="6.36" fill="#38a8ff"/>
<rect x="312.04" y="159.64" width="12.47" height="6.36" fill="#3a5cff"/>
<rect x="56.43" y="165.69" width="6.39" height="6.36" fill="#0000ff"/>
<rect x="111.20" y="165.69" width="6.39" height="6.36" fill="#0000ff"/>
<rect x="123.38" y="165.69" width="30.73" height="6.36" fill="#0000ff"/>
<rect x="159.89" y="165.69" width="18.56" height="6.36" fill="#38a8ff"/>
<rect x="178.15" y="165.69" width="12.47" height="6.36" fill="#3a5cff"/>
<rect x="190.32" y="165.69" width="24.64" height="6.36" fill="#0000ff"/>
<rect x="214.67" y="165.69" width="6.39" height="6.36" fill="#3a5cff"/>
<rect x="220.75" y="165.69" width="30.73" height="6.36" fill="#38a8ff"/>
<rect x="251.18" y="165.69" width="12.47" height="6.36" fill="#00ffff"/>
<rect x="263.35" y="165.69" width="24.64" height="6.36" fill="#8fffb8"/>
<rect x="287.70" y="165.69" width="30.73" height="6.36" fill="#00ffff"/>
<rect x="318.13" y="165.69" width="6.39" height="6.36" fill="#38a8ff"/>
<rect x="62.52" y="171.75" width="18.56" height="6.36" fill="#0000ff"/>
<rect x="117.29" y="171.75" width="6.39" height="6.36" fill="#0000ff"/>
<rect x="129.46" y="171.75" width="12.47" height="6.36" fill="#0000ff"/>
<rect x="147.72" y="171.75" width="30.73" height="6.36" fill="#3a5cff"/>
<rect x="178.15" y="171.75" width="36.82" height="6.36" fill="#0000ff"/>
<rect x="214.67" y="171.75" width="6.39" height="6.36" fill="#3a5cff"/>
<rect x="220.75" y="171.75" width="12.47" height="6.36" fill="#38a8ff"/>
<rect x="232.92" y="171.75" width="18.56" height="6.36" fill="#3a5cff"/>
<rect x="251.18" y="171.75" width="6.39" height="6.36" fill="#38a8ff"/>
<rect x="257.27" y="171.75" width="12.47" height="6.36" fill="#00ffff"/>
<rect x="269.44" y="171.75" width="12.47" height="6.36" fill="#8fffb8"/>
<rect x="281.61" y="171.75" width="12.47" height="6.36" fill="#00ffff"/>
<rect x="293.78" y="171.75" width="6.39" height="6.36" fill="#38a8ff"/>
<rect x="299.87" y="171.75" width="6.39" height="6.36" fill="#00ffff"/>
<rect x="305.96" y="171.75" width="6.39" height="6.36" fill="#8fffb8"/>
<rect x="312.04" y="171.75" width="6.39" height="6.36" fill="#00ffff"/>
<rect x="111.20" y="177.81" width="18.56" height="6.36" fill="#38a8ff"/>
<rect x="129.46" y="177.81" width="18.56" height="6.36" fill="#0000ff"/>
<rect x="147.72" y="177.81" width="18.56" height="6.36" fill="#3a5cff"/>
<rect x="172.06" y="177.81" width="48.99" height="6.36" fill="#0000ff"/>
<rect x="220.75" y="177.81" width="6.39" height="6.36" fill="#3a5cff"/>
<rect x="226.84" y="177.81" width="6.39" height="6.36" fill="#38a8ff"/>
<rect x="232.92" y="177.81" width="6.39" height="6.36" fill="#3a5cff"/>
<rect x="239.01" y="177.81" width="6.39" height="6.36" fill="#0000ff"/>
<rect x="245.10" y="177.81" width="12.47" height="6.36" fill="#3a5cff"/>
<rect x="257.27" y="177.81" width="6.39" height="6.36" fill="#38a8ff"/>
<rect x="263.35" y="177.81" width="24.64" height="6.36" fill="#00ffff"/>
<rect x="287.70" y="177.81" width="6.39" height="6.36" fill="#38a8ff"/>
<rect x="293.78" y="177.81" width="24.64" height="6.36" fill="#00ffff"/>
<rect x="318.13" y="177.81" width="6.39" height="6.36" fill="#8fffb8"/>
<rect x="92.95" y="183.87" width="12.47" height="6.36" fill="#3a5cff"/>
<rect x="111.20" y="183.87" width="6.39" height="6.36" fill="#38a8ff"/>
<rect x="117.29" y="183.87" width="6.39" height="6.36" fill="#00ffff"/>
<rect x="123.38" y="183.87" width="6.39" height="6.36" fill="#38a8ff"/>
<rect x="129.46" y="183.87" width="18.56" height="6.36" fill="#3a5cff"/>
<rect x="153.81" y="183.87" width="12.47" height="6.36" fill="#3a5cff"/>
<rect x="165.98" y="183.87" width="6.39" height="6.36" fill="#38a8ff"/>
<rect x="172.06" y="183.87" width="18.56" height="6.36" fill="#3a5cff"/>
<rect x="190.32" y="183.87" width="6.39" height="6.36" fill="#38a8ff"/>
<rect x="196.41" y="183.87" width="18.56" height="6.36" fill="#0000ff"/>
<rect x="214.67" y="183.87" width="30.73" height="6.36" fill="#3a5cff"/>
<rect x="245.10" y="183.87" width="12.47" height="6.36" fill="#0000ff"/>
<rect x="257.27" y="183.87" width="6.39" height="6.36" fill="#3a5cff"/>
<rect x="263.35" y="183.87" width="30.73" height="6.36" fill="#38a8ff"/>
<rect x="293.78" y="183.87" width="12.47" height="6.36" fill="#00ffff"/>
<rect x="305.96" y="183.87" width="12.47" height="6.36" fill="#8fffb8"/>
<rect x="318.13" y="183.87" width="6.39" height="6.36" fill="#00ffff"/>
<rect x="117.29" y="189.92" width="6.39" height="6.36" fill="#00ffff"/>
<rect x="123.38" y="189.92" width="12.47" height="6.36" fill="#38a8ff"/>
<rect x="135.55" y="189.92" width="12.47" height="6.36" fill="#3a5cff"/>
<rect x="147.72" y="189.92" width="36.82" height="6.36" fill="#38a8ff"/>
<rect x="184.24" y="189.92" width="18.56" height="6.36" fill="#00ffff"/>
<rect x="202.49" y="189.92" width="6.39" height="6.36" fill="#8fffb8"/>
<rect x="208.58" y="189.92" width="6.39" height="6.36" fill="#0000ff"/>
<rect x="214.67" y="189.92" width="48.99" height="6.36" fill="#3a5cff"/>
<rect x="263.35" y="189.92" width="18.56" height="6.36" fill="#38a8ff"/>
<rect x="281.61" y="189.92" width="24.64" height="6.36" fill="#00ffff"/>
<rect x="305.96" y="189.92" width="6.39" height="6.36" fill="#8fffb8"/>
<rect x="312.04" y="189.92" width="12.47" height="6.36" fill="#00ffff"/>
<rect x="178.15" y="195.98" width="12.47" height="6.36" fill="#00ffff"/>
<rect x="190.32" y="195.98" width="18.56" height="6.36" fill="#8fffb8"/>
<rect x="208.58" y="195.98" width="12.47" height="6.36" fill="#0000ff"/>
<rect x="220.75" y="195.98" width="24.64" height="6.36" fill="#3a5cff"/>
<rect x="245.10" y="195.98" width="12.47" height="6.36" fill="#38a8ff"/>
<rect x="257.27" y="195.98" width="24.64" height="6.36" fill="#00ffff"/>
<rect x="281.61" y="195.98" width="6.39" height="6.36" fill="#38a8ff"/>
<rect x="287.70" y="195.98" width="6.39" height="6.36" fill="#00ffff"/>
<rect x="293.78" y="195.98" width="6.39" height="6.36" fill="#8fffb8"/>
<rect x="299.87" y="195.98" width="18.56" height="6.36" fill="#00ffff"/>
<rect x="172.06" y="202.04" width="12.47" height="6.36" fill="#00ffff"/>
<rect x="184.24" y="202.04" width="30.73" height="6.36" fill="#8fffb8"/>
<rect x="214.67" y="202.04" width="12.47" height="6.36" fill="#0000ff"/>
<rect x="226.84" y="202.04" width="6.39" height="6.36" fill="#3a5cff"/>
<rect x="232.92" y="202.04" width="6.39" height="6.36" fill="#38a8ff"/>
<rect x="239.01" y="202.04" width="6.39" height="6.36" fill="#3a5cff"/>
<rect x="245.10" y="202.04" width="30.73" height="6.36" fill="#00ffff"/>
<rect x="275.53" y="202.04" width="12.47" height="6.36" fill="#38a8ff"/>
<rect x="287.70" y="202.04" width="12.47" height="6.36" fill="#00ffff"/>
<rect x="299.87" y="202.04" width="18.56" height="6.36" fill="#38a8ff"/>
<rect x="318.13" y="202.04" width="6.39" height="6.36" fill="#3a5cff"/>
<rect x="172.06" y="208.09" width="12.47" height="6.36" fill="#00ffff"/>
<rect x="184.24" y="208.09" width="18.56" height="6.36" fill="#8fffb8"/>
<rect x="202.49" y="208.09" width="6.39" height="6.36" fill="#00ffff"/>
<rect x="208.58" y="208.09" width="12.47" height="6.36" fill="#8fffb8"/>
<rect x="220.75" y="208.09" width="12.47" height="6.36" fill="#3a5cff"/>
<rect x="232.92" y="208.09" width="6.39" height="6.36" fill="#38a8ff"/>
<rect x="239.01" y="208.09" width="6.39" height="6.36" fill="#00ffff"/>
<rect x="245.10" y="208.09" width="24.64" height="6.36" fill="#8fffb8"/>
<rect x="269.44" y="208.09" width="6.39" height="6.36" fill="#00ffff"/>
<rect x="275.53" y="208.09" width="12.47" height="6.36" fill="#38a8ff"/>
<rect x="287.70" y="208.09" width="18.56" height="6.36" fill="#00ffff"/>
<rect x="312.04" y="208.09" width="6.39" height="6.36" fill="#3a5cff"/>
<rect x="318.13" y="208.09" width="6.39" height="6.36" fill="#38a8ff"/>
<rect x="178.15" y="214.15" width="24.64" height="6.36" fill="#8fffb8"/>
<rect x="202.49" y="214.15" width="12.47" height="6.36" fill="#00ffff"/>
<rect x="214.67" y="214.15" width="6.39" height="6.36" fill="#8fffb8"/>
<rect x="220.75" y="214.15" width="6.39" height="6.36" fill="#0000ff"/>
<rect x="226.84" y="214.15" width="6.39" height="6.36" fill="#3a5cff"/>
<rect x="232.92" y="214.15" width="6.39" height="6.36" fill="#38a8ff"/>
<rect x="239.01" y="214.15" width="6.39" height="6.36" fill="#8fffb8"/>
<rect x="245.10" y="214.15" width="18.56" height="6.36" fill="#d0ff63"/>
<rect x="263.35" y="214.15" width="6.39" height="6.36" fill="#8fffb8"/>
<rect x="269.44" y="214.15" width="6.39" height="6.36" fill="#00ffff"/>
<rect x="275.53" y="214.15" width="6.39" height="6.36" fill="#38a8ff"/>
<rect x="281.61" y="214.15" width="18.56" height="6.36" fill="#00ffff"/>
<rect x="312.04" y="214.15" width="6.39" height="6.36" fill="#ff6f00"/>
<rect x="318.13" y="214.15" width="6.39" height="6.36" fill="#ffb700"/>
<rect x="184.24" y="220.21" width="12.47" height="6.36" fill="#d0ff63"/>
<rect x="196.41" y="220.21" width="6.39" height="6.36" fill="#00ffff"/>
<rect x="202.49" y="220.21" width="18.56" height="6.36" fill="#8fffb8"/>
<rect x="220.75" y="220.21" width="12.47" height="6.36" fill="#3a5cff"/>
<rect x="232.92" y="220.21" width="6.39" height="6.36" fill="#38a8ff"/>
<rect x="239.01" y="220.21" width="6.39" height="6.36" fill="#00ffff"/>
<rect x="245.10" y="220.21" width="18.56" height="6.36" fill="#d0ff63"/>
<rect x="263.35" y="220.21" width="6.39" height="6.36" fill="#8fffb8"/>
<rect x="269.44" y="220.21" width="24.64" height="6.36" fill="#00ffff"/>
<rect x="312.04" y="220.21" width="12.47" height="6.36" fill="#ff0000"/>
<rect x="190.32" y="226.26" width="6.39" height="6.36" fill="#d0ff63"/>
<rect x="196.41" y="226.26" width="12.47" height="6.36" fill="#8fffb8"/>
<rect x="232.92" y="226.26" width="6.39" height="6.36" fill="#3a5cff"/>
<rect x="239.01" y="226.26" width="6.39" height="6.36" fill="#00ffff"/>
<rect x="245.10" y="226.26" width="30.73" height="6.36" fill="#8fffb8"/>
<rect x="312.04" y="226.26" width="12.47" height="6.36" fill="#ff0000"/>
<rect x="245.10" y="232.32" width="6.39" height="6.36" fill="#00ffff"/>
<rect x="251.18" y="232.32" width="6.39" height="6.36" fill="#ff6f00"/>
<rect x="239.01" y="238.38" width="12.47" height="6.36" fill="#d0ff63"/>
<rect x="251.18" y="238.38" width="6.39" height="6.36" fill="#ffb700"/>
<rect x="239.01" y="244.44" width="18.56" height="6.36" fill="#d0ff63"/>
<path d="M26.0,117.2v24.2M32.1,117.2v24.2M38.2,117.2v24.2M44.3,117.2v24.2M50.3,117.2v18.2M56.4,105.1v36.3M56.4,165.7v6.1M62.5,87.0v6.1M62.5,105.1v18.2M62.5,129.4v12.1M62.5,153.6v6.1M62.5,165.7v12.1M68.6,87.0v60.6M68.6,153.6v12.1M68.6,171.8v6.1M74.7,80.9v66.6M74.7,159.6v6.1M74.7,171.8v6.1M80.8,74.8v48.5M80.8,129.4v24.2M80.8,171.8v6.1M86.9,74.8v78.7M92.9,62.7v78.7M92.9,183.9v6.1M99.0,56.7v60.6M99.0,123.3v12.1M99.0,141.5v6.1M99.0,183.9v6.1M105.1,56.7v60.6M105.1,123.3v6.1M105.1,141.5v6.1M105.1,183.9v6.1M111.2,56.7v60.6M111.2,123.3v6.1M111.2,165.7v6.1M111.2,177.8v12.1M117.3,56.7v78.7M117.3,165.7v30.3M123.4,56.7v6.1M123.4,68.8v42.4M123.4,117.2v18.2M123.4,147.5v6.1M123.4,165.7v30.3M129.5,68.8v12.1M129.5,87.0v24.2M129.5,123.3v6.1M129.5,147.5v6.1M129.5,165.7v30.3M135.5,74.8v6.1M135.5,87.0v30.3M135.5,123.3v18.2M135.5,159.6v36.3M141.6,74.8v6.1M141.6,87.0v30.3M141.6,123.3v18.2M141.6,147.5v48.5M147.7,87.0v24.2M147.7,117.2v78.7M153.8,87.0v60.6M153.8,165.7v30.3M159.9,87.0v109.0M166.0,93.0v30.3M166.0,129.4v12.1M166.0,147.5v48.5M172.1,99.1v24.2M172.1,129.4v18.2M172.1,153.6v42.4M172.1,202.0v12.1M178.2,99.1v121.1M184.2,99.1v127.2M190.3,99.1v133.3M196.4,99.1v133.3M202.5,99.1v12.1M202.5,117.2v115.1M208.6,111.2v121.1M214.7,111.2v115.1M220.8,111.2v115.1M226.8,99.1v127.2M232.9,99.1v133.3M239.0,99.1v133.3M239.0,238.4v12.1M245.1,99.1v151.4M251.2,93.0v157.5M257.3,87.0v163.5M263.4,87.0v145.4M269.4,80.9v151.4M275.5,80.9v151.4M281.6,56.7v169.6M287.7,56.7v169.6M293.8,56.7v169.6M299.9,56.7v163.5M306.0,44.6v169.6M312.0,32.4v199.9M318.1,32.4v90.9M318.1,129.4v103.0M324.2,32.4v90.9M324.2,129.4v12.1M324.2,159.6v12.1M324.2,177.8v18.2M324.2,202.0v30.3M330.3,32.4v90.9M330.3,129.4v6.1M336.4,32.4v90.9M342.5,32.4v84.8M348.6,32.4v84.8M354.6,32.4v84.8M360.7,44.6v66.6M366.8,50.6v60.6M372.9,56.7v48.5M379.0,56.7v48.5M385.1,62.7v36.3M391.2,62.7v24.2M397.2,62.7v24.2M403.3,62.7v18.2M409.4,62.7v18.2M312.0,32.4h42.6M312.0,38.5h42.6M306.0,44.6h54.8M306.0,50.6h60.9M99.0,56.7h24.3M281.6,56.7h97.4M92.9,62.7h30.4M281.6,62.7h127.8M92.9,68.8h36.5M281.6,68.8h127.8M80.8,74.8h60.9M281.6,74.8h127.8M74.7,80.9h66.9M269.4,80.9h140.0M62.5,87.0h85.2M153.8,87.0h6.1M257.3,87.0h6.1M269.4,87.0h127.8M62.5,93.0h103.5M251.2,93.0h133.9M68.6,99.1h103.5M178.2,99.1h24.3M226.8,99.1h12.2M245.1,99.1h140.0M56.4,105.1h146.1M226.8,105.1h152.2M56.4,111.2h85.2M147.7,111.2h54.8M208.6,111.2h12.2M226.8,111.2h140.0M26.0,117.2h6.1M38.2,117.2h60.9M105.1,117.2h18.3M135.5,117.2h6.1M147.7,117.2h206.9M26.0,123.3h48.7M80.8,123.3h24.3M111.2,123.3h12.2M129.5,123.3h30.4M166.0,123.3h48.7M220.8,123.3h115.6M26.0,129.4h79.1M111.2,129.4h12.2M129.5,129.4h200.8M26.0,135.4h73.0M117.3,135.4h6.1M135.5,135.4h194.8M26.0,141.5h18.3M56.4,141.5h36.5M99.0,141.5h6.1M135.5,141.5h188.7M68.6,147.5h18.3M99.0,147.5h6.1M123.4,147.5h6.1M141.6,147.5h24.3M172.1,147.5h146.1M62.5,153.6h6.1M80.8,153.6h6.1M123.4,153.6h6.1M141.6,153.6h6.1M159.9,153.6h158.2M62.5,159.6h12.2M135.5,159.6h12.2M159.9,159.6h164.3M56.4,165.7h6.1M68.6,165.7h6.1M111.2,165.7h6.1M123.4,165.7h30.4M159.9,165.7h164.3M56.4,171.8h24.3M111.2,171.8h213.0M62.5,177.8h18.3M111.2,177.8h213.0M92.9,183.9h12.2M111.2,183.9h213.0M92.9,189.9h12.2M111.2,189.9h213.0M117.3,196.0h206.9M172.1,202.0h152.2M172.1,208.1h152.2M172.1,214.2h133.9M312.0,214.2h12.2M178.2,220.2h121.7M312.0,220.2h12.2M184.2,226.3h109.5M312.0,226.3h12.2M190.3,232.3h18.3M232.9,232.3h42.6M312.0,232.3h12.2M239.0,238.4h18.3M239.0,244.4h18.3M239.0,250.5h18.3" stroke="#6e6e6e" stroke-width="0.55" fill="none" opacity="0.75"/><path d="M38.2,111.2v6.1M44.3,111.2v6.1M44.3,141.5v6.1M50.3,111.2v6.1M50.3,135.4v12.1M56.4,141.5v12.1M56.4,159.6v6.1M62.5,123.3v6.1M62.5,141.5v12.1M62.5,159.6v6.1M68.6,147.5v6.1M68.6,165.7v6.1M74.7,147.5v12.1M74.7,165.7v6.1M80.8,123.3v6.1M80.8,153.6v18.2M80.8,177.8v6.1M86.9,153.6v30.3M92.9,141.5v42.4M99.0,117.2v6.1M99.0,135.4v6.1M99.0,147.5v36.3M105.1,117.2v6.1M105.1,129.4v12.1M105.1,147.5v36.3M111.2,117.2v6.1M111.2,129.4v36.3M111.2,171.8v6.1M117.3,135.4v30.3M123.4,62.7v6.1M123.4,111.2v6.1M123.4,135.4v12.1M123.4,153.6v12.1M129.5,80.9v6.1M129.5,111.2v12.1M129.5,129.4v18.2M129.5,153.6v12.1M135.5,68.8v6.1M135.5,80.9v6.1M135.5,117.2v6.1M135.5,141.5v18.2M141.6,80.9v6.1M141.6,117.2v6.1M141.6,141.5v6.1M147.7,111.2v6.1M153.8,147.5v18.2M166.0,87.0v6.1M166.0,123.3v6.1M166.0,141.5v6.1M172.1,123.3v6.1M172.1,147.5v6.1M202.5,111.2v6.1M208.6,99.1v12.1M214.7,99.1v12.1M220.8,99.1v12.1M324.2,171.8v6.1M129.5,68.8h6.1M147.7,87.0h6.1M159.9,87.0h6.1M263.4,87.0h6.1M172.1,99.1h6.1M202.5,99.1h24.3M239.0,99.1h6.1M202.5,105.1h24.3M38.2,111.2h18.3M141.6,111.2h6.1M202.5,111.2h6.1M220.8,111.2h6.1M32.1,117.2h6.1M99.0,117.2h6.1M123.4,117.2h12.2M141.6,117.2h6.1M74.7,123.3h6.1M105.1,123.3h6.1M123.4,123.3h6.1M159.9,123.3h6.1M214.7,123.3h6.1M105.1,129.4h6.1M123.4,129.4h6.1M99.0,135.4h18.3M123.4,135.4h12.2M44.3,141.5h12.2M92.9,141.5h6.1M105.1,141.5h30.4M44.3,147.5h24.3M86.9,147.5h12.2M105.1,147.5h18.3M129.5,147.5h12.2M166.0,147.5h6.1M56.4,153.6h6.1M68.6,153.6h12.2M86.9,153.6h36.5M129.5,153.6h12.2M147.7,153.6h12.2M56.4,159.6h6.1M74.7,159.6h60.9M147.7,159.6h12.2M62.5,165.7h6.1M74.7,165.7h36.5M117.3,165.7h6.1M153.8,165.7h6.1M80.8,171.8h30.4M80.8,177.8h30.4M80.8,183.9h12.2M105.1,183.9h6.1M105.1,189.9h6.1" stroke="#6e6e6e" stroke-width="0.5" fill="none" opacity="0.72"/>
</g>
<polygon points="30.4,121.5 31.4,117.7 36.0,115.3 41.5,113.6 46.9,114.3 52.0,112.0 57.4,108.2 64.1,106.6 70.5,104.9 71.3,100.5 72.5,95.8 70.5,92.1 68.8,87.4 73.9,86.4 78.9,85.0 83.3,85.7 85.0,80.3 87.3,74.6 92.4,73.6 98.3,73.9 102.5,71.9 102.8,66.8 107.5,64.5 111.8,61.4 116.8,61.8 119.7,65.5 123.5,67.8 129.4,68.5 132.5,71.9 136.2,76.3 135.2,81.3 136.5,85.4 144.6,86.0 153.0,86.7 159.7,91.4 163.1,92.1 166.8,97.5 171.5,99.8 180.1,100.8 185.3,100.7 193.7,100.4 201.2,102.4 208.8,104.9 217.2,106.6 226.5,104.9 234.1,102.7 242.5,102.1 250.9,100.7 257.6,97.3 261.9,93.6 260.2,89.8 263.5,86.9 267.7,88.1 271.1,88.1 277.8,85.6 284.6,83.0 291.3,79.7 299.7,77.1 306.5,75.8 310.7,74.1 307.2,71.3 301.4,70.5 294.8,71.0 288.2,71.3 285.7,68.8 287.4,64.7 290.7,60.6 294.0,57.7 298.1,58.9 305.6,56.4 308.9,51.5 312.2,46.5 316.3,42.4 312.2,39.9 316.3,36.9 324.6,35.3 332.0,34.1 337.8,35.7 342.8,36.9 348.6,39.1 351.9,43.2 354.3,49.0 358.5,56.4 362.6,58.9 369.2,59.7 375.8,63.0 378.3,68.8 382.5,70.5 389.1,68.8 395.7,67.2 403.6,65.5 400.6,69.7 397.3,74.6 394.9,80.4 390.7,85.4 384.1,87.0 380.0,90.3 380.5,96.1 378.3,100.2 375.8,101.9 373.4,100.2 369.2,102.7 364.3,105.2 361.0,107.7 356.8,106.9 352.7,109.3 347.7,112.6 342.8,116.0 337.8,119.3 332.8,120.9 327.9,122.6 322.9,124.2 318.8,124.2 321.3,120.9 325.4,115.1 322.9,112.6 318.0,114.3 313.0,117.6 306.4,120.9 299.8,123.4 297.3,125.9 300.6,129.2 305.6,130.8 308.9,134.1 313.0,132.5 318.0,127.5 317.1,130.8 319.6,133.3 326.2,132.8 327.1,135.0 325.2,136.6 319.5,137.4 315.3,141.6 310.4,145.7 307.9,148.2 312.8,152.3 316.1,157.3 319.5,162.2 323.6,167.2 324.1,173.0 328.6,173.3 325.2,178.0 322.8,182.9 321.1,187.9 317.8,192.0 313.7,196.1 311.2,201.1 308.7,206.1 302.9,211.0 296.3,216.0 289.7,221.0 281.4,224.3 274.8,225.1 266.5,228.4 258.3,230.9 257.4,230.8 254.1,232.4 253.3,237.4 251.1,236.9 250.5,232.8 249.1,230.8 245.8,229.5 241.7,229.1 237.6,228.6 232.6,227.0 230.6,223.7 227.6,222.0 223.5,219.9 219.4,221.5 214.4,222.8 209.5,222.5 205.3,224.2 201.5,226.1 200.9,230.3 197.9,231.4 196.2,228.6 192.9,229.5 189.6,227.0 186.3,225.3 188.0,221.5 184.7,220.4 182.2,216.2 178.9,212.9 176.1,209.6 179.7,205.5 182.2,200.5 183.3,195.6 181.3,191.4 177.2,189.8 173.9,188.4 169.8,190.6 164.8,189.4 159.8,191.4 155.7,193.9 149.9,196.7 145.0,195.6 140.0,193.9 139.1,192.2 135.8,190.5 127.5,189.7 123.4,193.8 119.2,190.5 111.0,191.3 104.3,189.7 97.7,185.6 91.9,183.9 86.1,180.6 80.4,176.5 75.4,175.6 68.0,173.2 61.3,168.2 59.7,162.4 64.1,156.1 61.4,152.0 55.7,149.7 51.3,144.3 45.3,141.9 41.9,135.9 35.7,134.2 38.5,130.1 36.3,127.8 32.6,125.8" fill="none" stroke="#555" stroke-width="0.6" stroke-linejoin="round"/>
<polygon points="243.4,242.7 247.5,239.7 254.1,239.0 257.7,240.2 255.8,244.3 252.5,247.6 248.3,250.1 243.9,248.0" fill="none" stroke="#555" stroke-width="0.5"/>
<polygon points="321.1,206.9 323.6,209.4 321.9,216.0 318.6,222.6 316.1,227.6 313.7,222.6 312.5,216.0 315.3,211.9 318.6,208.6" fill="none" stroke="#555" stroke-width="0.5"/>
<path d="M334.3,201.9L333.2,204.4M328.6,211.0L327.7,217.6M322.8,229.2L319.5,233.4M246.5,262.9L250.1,268.2M253.5,286.1L251.6,292.6M240.4,317.3L240.4,324.5M261.8,340.2L268.3,338.3M287.9,312.2L284.2,317.3M305.7,288.2L303.1,294.8M306.7,263.6L306.7,269.4M311.8,245.0L308.2,251.2M266.1,324.5L266.8,328.2M250.1,311.5L254.5,310.7L253.8,313.6L248.7,315.5M261.6,257.1l-0.2,-0.4M263.5,258.9l0.7,-0.1M258.9,259.4l0.4,-0.1M262.5,262.6l0.5,-0.2M264.4,263.6l-0.2,-0.6M266.5,258.2l0.4,-0.2M261.4,262.5l0.6,-0.4M264.5,258.9l-0.1,-0.4M264.9,259.4l0.4,-0.6M283.6,296.9l-0.7,-0.5M281.0,302.3l-0.1,-0.9M289.1,294.4l-0.5,-0.0M285.5,303.3l0.6,-0.3M277.4,305.3l-0.5,-0.5M292.2,293.5l-0.4,-0.6M287.1,297.9l-0.8,-0.5M286.1,301.5l0.8,-0.2M290.9,293.5l0.3,-0.7M275.9,302.7l0.4,-0.2M276.8,298.9l0.3,-0.9M277.0,302.0l-0.1,-0.9M294.2,301.3l0.4,-0.5M285.0,305.5l-0.5,-0.1M277.7,298.3l0.5,-0.5M286.1,295.2l0.7,-0.0M283.5,301.1l-0.8,-0.1M286.7,300.6l-0.2,-0.4M295.3,299.5l-0.8,-0.3M283.0,298.7l0.7,-0.2M278.0,297.1l0.2,-0.4M276.9,300.7l0.9,-0.1M286.0,293.5l0.4,-0.4M280.8,295.2l-0.9,-0.5M277.1,307.8l0.4,-0.1M270.5,308.1l-0.4,-0.3M275.6,301.5l-0.1,-0.4M284.5,313.0l-0.7,-0.3M268.8,311.7l0.7,-0.4M282.5,310.1l0.3,-0.5M293.8,301.9l-0.7,-0.5M269.2,314.7l0.2,-0.4M272.2,316.2l-0.7,-0.1M292.6,293.1l0.4,-0.3M264.9,311.1l-0.4,-0.9M289.9,297.7l-0.4,-0.8M265.9,320.4l-0.8,-0.2M286.8,300.1l0.7,-0.5M275.9,315.7l-0.6,-0.1M279.8,315.9l-0.3,-0.4M269.8,321.1l-0.8,-0.1M273.8,311.8l0.4,-0.2M296.2,296.6l-0.1,-1.0M280.1,314.0l-0.4,-0.3M267.7,310.9l0.5,-0.5M269.3,312.4l0.9,-0.4M273.0,310.4l-0.2,-0.9M280.2,315.0l-0.0,-0.7M274.1,299.9l0.1,-0.5M266.9,315.5l-0.5,-0.6M272.7,312.0l-0.2,-0.9M265.5,318.5l0.4,-0.4M287.9,300.0l-0.2,-0.8M292.0,295.3l-0.2,-0.7M308.7,217.6l0.7,0.3M292.7,234.7l0.7,0.3M321.1,226.4l0.7,0.3M283.1,220.6l0.7,0.3" stroke="#333" stroke-width="0.55" fill="none" stroke-linecap="round"/><ellipse cx="277.6" cy="264.6" rx="3.5" ry="1.5" transform="rotate(-27 277.6 264.6)" fill="none" stroke="#333" stroke-width="0.55"/><circle cx="308.7" cy="217.6" r="0.65" fill="#222"/><circle cx="307.7" cy="219.0" r="0.65" fill="#222"/><circle cx="292.7" cy="234.7" r="0.65" fill="#222"/><circle cx="321.1" cy="226.4" r="0.65" fill="#222"/>
</g>
<text x="32" y="226.6" font-size="11.3">XCO<tspan font-size="7.6" dy="2.3">2ano</tspan><tspan dy="-2.3">(ppm)</tspan></text>
<rect x="27.1" y="234.4" width="28.2" height="14.0" fill="#0000ff" stroke="#a8a8a8" stroke-width="0.5"/>
<text x="60.4" y="245.9" font-size="11.15">−1.55 − −0.57</text>
<rect x="27.1" y="253.3" width="28.2" height="14.0" fill="#3a5cff" stroke="#a8a8a8" stroke-width="0.5"/>
<text x="60.4" y="264.9" font-size="11.15">−0.56 − −0.16</text>
<rect x="27.1" y="272.3" width="28.2" height="14.0" fill="#38a8ff" stroke="#a8a8a8" stroke-width="0.5"/>
<text x="60.4" y="283.8" font-size="11.15">−0.15 − 0.14</text>
<rect x="27.1" y="291.2" width="28.2" height="14.0" fill="#00ffff" stroke="#a8a8a8" stroke-width="0.5"/>
<text x="60.4" y="302.8" font-size="11.15">0.15 − 0.41</text>
<rect x="27.1" y="310.2" width="28.2" height="14.0" fill="#8fffb8" stroke="#a8a8a8" stroke-width="0.5"/>
<text x="60.4" y="321.7" font-size="11.15">0.42 − 0.72</text>
<rect x="130.3" y="234.4" width="28.2" height="14.0" fill="#d0ff63" stroke="#a8a8a8" stroke-width="0.5"/>
<text x="163.6" y="245.9" font-size="11.15">0.73 − 1.08</text>
<rect x="130.3" y="253.3" width="28.2" height="14.0" fill="#ffff00" stroke="#a8a8a8" stroke-width="0.5"/>
<text x="163.6" y="264.9" font-size="11.15">1.09 − 1.46</text>
<rect x="130.3" y="272.3" width="28.2" height="14.0" fill="#ffb700" stroke="#a8a8a8" stroke-width="0.5"/>
<text x="163.6" y="283.8" font-size="11.15">1.47 − 1.85</text>
<rect x="130.3" y="291.2" width="28.2" height="14.0" fill="#ff6f00" stroke="#a8a8a8" stroke-width="0.5"/>
<text x="163.6" y="302.8" font-size="11.15">1.86 − 2.28</text>
<rect x="130.3" y="310.2" width="28.2" height="14.0" fill="#ff0000" stroke="#a8a8a8" stroke-width="0.5"/>
<text x="163.6" y="321.7" font-size="11.15">2.29 − 3.24</text>
<rect x="24.6" y="329.3" width="18.1" height="9.3" fill="#fff" stroke="#7a7a7a" stroke-width="0.7"/>
<text x="46.5" y="338.2" font-size="11">National boundaries</text>
<rect x="144.6" y="329.3" width="18.2" height="9.3" fill="url(#hatchL)" stroke="#b0b0b0" stroke-width="0.5"/>
<text x="167.2" y="338.2" font-size="11">Background area</text>
<rect x="292.2" y="338.8" width="82.9" height="4.1" fill="#fff" stroke="#000" stroke-width="0.7"/><rect x="292.2" y="338.8" width="41.5" height="4.1" fill="#000"/><text x="292.8" y="334.5" font-size="9.8" text-anchor="middle">0</text><text x="334.2" y="334.5" font-size="9.8" text-anchor="middle">750</text><text x="365.2" y="334.5" font-size="9.8">1500 km</text>
<text x="403.7" y="31.3" text-anchor="middle" style="font-family:'Liberation Sans','DejaVu Sans',sans-serif;font-size:6.6px;font-weight:bold;fill:#000">N</text><path d="M403.7,33 L398.9,48.1 L404,43.5 Z" fill="#000"/><path d="M403.7,33 L407.9,47.8 L404,43.5 Z" fill="#fff" stroke="#000" stroke-width="0.55"/><path d="M404.6,38.5L405.6,40.5M404.9,41L406.6,44.2" stroke="#000" stroke-width="0.4"/>
<rect x="21.0" y="21.5" width="395.4" height="328.7" fill="none" stroke="#2b2b2b" stroke-width="1.2"/>
<text x="71.3" y="17.9" font-size="10.2" text-anchor="middle">80°E</text>
<text x="71.3" y="363.5" font-size="10.2" text-anchor="middle">80°E</text>
<text x="132.1" y="17.9" font-size="10.2" text-anchor="middle">90°E</text>
<text x="132.1" y="363.5" font-size="10.2" text-anchor="middle">90°E</text>
<text x="193.0" y="17.9" font-size="10.2" text-anchor="middle">100°E</text>
<text x="193.0" y="363.5" font-size="10.2" text-anchor="middle">100°E</text>
<text x="253.8" y="17.9" font-size="10.2" text-anchor="middle">110°E</text>
<text x="253.8" y="363.5" font-size="10.2" text-anchor="middle">110°E</text>
<text x="314.7" y="17.9" font-size="10.2" text-anchor="middle">120°E</text>
<text x="314.7" y="363.5" font-size="10.2" text-anchor="middle">120°E</text>
<text x="375.5" y="17.9" font-size="10.2" text-anchor="middle">130°E</text>
<text x="375.5" y="363.5" font-size="10.2" text-anchor="middle">130°E</text>
<text transform="translate(17.9,305.3) rotate(-90)" font-size="10.2" text-anchor="middle">10°N</text>
<text transform="translate(429.8,305.3) rotate(-90)" font-size="10.2" text-anchor="middle">10°N</text>
<text transform="translate(17.9,244.3) rotate(-90)" font-size="10.2" text-anchor="middle">20°N</text>
<text transform="translate(429.8,244.3) rotate(-90)" font-size="10.2" text-anchor="middle">20°N</text>
<text transform="translate(17.9,183.4) rotate(-90)" font-size="10.2" text-anchor="middle">30°N</text>
<text transform="translate(429.8,183.4) rotate(-90)" font-size="10.2" text-anchor="middle">30°N</text>
<text transform="translate(17.9,122.4) rotate(-90)" font-size="10.2" text-anchor="middle">40°N</text>
<text transform="translate(429.8,122.4) rotate(-90)" font-size="10.2" text-anchor="middle">40°N</text>
<text transform="translate(17.9,61.4) rotate(-90)" font-size="10.2" text-anchor="middle">50°N</text>
<text transform="translate(429.8,61.4) rotate(-90)" font-size="10.2" text-anchor="middle">50°N</text>
<text x="218.7" y="387.6" font-size="19.8" text-anchor="middle" font-family="'Liberation Serif', 'DejaVu Serif', serif" fill="#111">(<tspan font-weight="bold">b</tspan>) 2011</text>
</g>
<g transform="translate(0,388.25)">
<path d="M21.0,305.3H416.4M21.0,244.3H416.4M21.0,183.4H416.4M21.0,122.4H416.4M21.0,61.4H416.4" stroke="#d2d2d2" stroke-width="0.65" stroke-dasharray="3.6,10.37" fill="none"/><path d="M71.3,21.5V350.2M132.1,21.5V350.2M193.0,21.5V350.2M314.7,21.5V350.2M375.5,21.5V350.2" stroke="#d0d0d0" stroke-width="0.65" stroke-dasharray="3.4,10.5" stroke-dashoffset="7.6" fill="none"/><path d="M71.3,21.5v2.6M71.3,350.2v-2.6M132.1,21.5v2.6M132.1,350.2v-2.6M193.0,21.5v2.6M193.0,350.2v-2.6M314.7,21.5v2.6M314.7,350.2v-2.6M375.5,21.5v2.6M375.5,350.2v-2.6M21.0,305.3h2.6M416.4,305.3h-2.6M21.0,244.3h2.6M416.4,244.3h-2.6M21.0,183.4h2.6M416.4,183.4h-2.6M21.0,122.4h2.6M416.4,122.4h-2.6M21.0,61.4h2.6M416.4,61.4h-2.6" stroke="#777" stroke-width="0.6" fill="none"/>
<g clip-path="url(#china)"><rect x="20" y="20" width="400" height="240" fill="url(#hatchc)"/></g>
<g>
<g clip-path="url(#china)">
<rect x="312.04" y="32.44" width="12.47" height="6.36" fill="#38a8ff"/>
<rect x="324.21" y="32.44" width="12.47" height="6.36" fill="#00ffff"/>
<rect x="336.39" y="32.44" width="18.56" height="6.36" fill="#8fffb8"/>
<rect x="312.04" y="38.50" width="6.39" height="6.36" fill="#00ffff"/>
<rect x="318.13" y="38.50" width="6.39" height="6.36" fill="#38a8ff"/>
<rect x="324.21" y="38.50" width="12.47" height="6.36" fill="#00ffff"/>
<rect x="336.39" y="38.50" width="18.56" height="6.36" fill="#8fffb8"/>
<rect x="305.96" y="44.55" width="18.56" height="6.36" fill="#00ffff"/>
<rect x="330.30" y="44.55" width="6.39" height="6.36" fill="#8fffb8"/>
<rect x="336.39" y="44.55" width="6.39" height="6.36" fill="#d0ff63"/>
<rect x="348.56" y="44.55" width="12.47" height="6.36" fill="#8fffb8"/>
<rect x="305.96" y="50.61" width="24.64" height="6.36" fill="#00ffff"/>
<rect x="330.30" y="50.61" width="12.47" height="6.36" fill="#8fffb8"/>
<rect x="342.47" y="50.61" width="12.47" height="6.36" fill="#d0ff63"/>
<rect x="354.64" y="50.61" width="12.47" height="6.36" fill="#8fffb8"/>
<rect x="99.03" y="56.67" width="24.64" height="6.36" fill="#00ffff"/>
<rect x="281.61" y="56.67" width="12.47" height="6.36" fill="#3a5cff"/>
<rect x="293.78" y="56.67" width="30.73" height="6.36" fill="#38a8ff"/>
<rect x="330.30" y="56.67" width="6.39" height="6.36" fill="#00ffff"/>
<rect x="336.39" y="56.67" width="12.47" height="6.36" fill="#8fffb8"/>
<rect x="348.56" y="56.67" width="6.39" height="6.36" fill="#00ffff"/>
<rect x="354.64" y="56.67" width="12.47" height="6.36" fill="#8fffb8"/>
<rect x="366.82" y="56.67" width="6.39" height="6.36" fill="#d0ff63"/>
<rect x="372.90" y="56.67" width="6.39" height="6.36" fill="#8fffb8"/>
<rect x="92.95" y="62.73" width="24.64" height="6.36" fill="#00ffff"/>
<rect x="281.61" y="62.73" width="6.39" height="6.36" fill="#3a5cff"/>
<rect x="287.70" y="62.73" width="6.39" height="6.36" fill="#0000ff"/>
<rect x="293.78" y="62.73" width="30.73" height="6.36" fill="#3a5cff"/>
<rect x="324.21" y="62.73" width="6.39" height="6.36" fill="#38a8ff"/>
<rect x="330.30" y="62.73" width="12.47" height="6.36" fill="#00ffff"/>
<rect x="342.47" y="62.73" width="6.39" height="6.36" fill="#8fffb8"/>
<rect x="348.56" y="62.73" width="6.39" height="6.36" fill="#00ffff"/>
<rect x="354.64" y="62.73" width="55.07" height="6.36" fill="#8fffb8"/>
<rect x="92.95" y="68.78" width="12.47" height="6.36" fill="#00ffff"/>
<rect x="105.12" y="68.78" width="12.47" height="6.36" fill="#8fffb8"/>
<rect x="117.29" y="68.78" width="12.47" height="6.36" fill="#00ffff"/>
<rect x="281.61" y="68.78" width="42.90" height="6.36" fill="#3a5cff"/>
<rect x="324.21" y="68.78" width="12.47" height="6.36" fill="#38a8ff"/>
<rect x="336.39" y="68.78" width="36.82" height="6.36" fill="#00ffff"/>
<rect x="372.90" y="68.78" width="36.82" height="6.36" fill="#8fffb8"/>
<rect x="80.77" y="74.84" width="12.47" height="6.36" fill="#00ffff"/>
<rect x="92.95" y="74.84" width="30.73" height="6.36" fill="#8fffb8"/>
<rect x="123.38" y="74.84" width="18.56" height="6.36" fill="#00ffff"/>
<rect x="281.61" y="74.84" width="30.73" height="6.36" fill="#0000ff"/>
<rect x="312.04" y="74.84" width="18.56" height="6.36" fill="#3a5cff"/>
<rect x="330.30" y="74.84" width="24.64" height="6.36" fill="#38a8ff"/>
<rect x="354.64" y="74.84" width="6.39" height="6.36" fill="#00ffff"/>
<rect x="360.73" y="74.84" width="24.64" height="6.36" fill="#8fffb8"/>
<rect x="385.07" y="74.84" width="12.47" height="6.36" fill="#d0ff63"/>
<rect x="397.25" y="74.84" width="12.47" height="6.36" fill="#8fffb8"/>
<rect x="74.69" y="80.90" width="12.47" height="6.36" fill="#00ffff"/>
<rect x="86.86" y="80.90" width="6.39" height="6.36" fill="#8fffb8"/>
<rect x="92.95" y="80.90" width="18.56" height="6.36" fill="#d0ff63"/>
<rect x="111.20" y="80.90" width="6.39" height="6.36" fill="#8fffb8"/>
<rect x="117.29" y="80.90" width="6.39" height="6.36" fill="#00ffff"/>
<rect x="269.44" y="80.90" width="55.07" height="6.36" fill="#0000ff"/>
<rect x="324.21" y="80.90" width="18.56" height="6.36" fill="#3a5cff"/>
<rect x="342.47" y="80.90" width="6.39" height="6.36" fill="#38a8ff"/>
<rect x="348.56" y="80.90" width="30.73" height="6.36" fill="#00ffff"/>
<rect x="378.99" y="80.90" width="18.56" height="6.36" fill="#8fffb8"/>
<rect x="62.52" y="86.95" width="18.56" height="6.36" fill="#0000ff"/>
<rect x="80.77" y="86.95" width="6.39" height="6.36" fill="#3a5cff"/>
<rect x="86.86" y="86.95" width="12.47" height="6.36" fill="#d0ff63"/>
<rect x="99.03" y="86.95" width="18.56" height="6.36" fill="#ffff00"/>
<rect x="117.29" y="86.95" width="12.47" height="6.36" fill="#d0ff63"/>
<rect x="129.46" y="86.95" width="6.39" height="6.36" fill="#8fffb8"/>
<rect x="135.55" y="86.95" width="12.47" height="6.36" fill="#00ffff"/>
<rect x="153.81" y="86.95" width="6.39" height="6.36" fill="#38a8ff"/>
<rect x="257.27" y="86.95" width="6.39" height="6.36" fill="#0000ff"/>
<rect x="269.44" y="86.95" width="30.73" height="6.36" fill="#0000ff"/>
<rect x="299.87" y="86.95" width="6.39" height="6.36" fill="#3a5cff"/>
<rect x="305.96" y="86.95" width="24.64" height="6.36" fill="#0000ff"/>
<rect x="330.30" y="86.95" width="18.56" height="6.36" fill="#3a5cff"/>
<rect x="348.56" y="86.95" width="12.47" height="6.36" fill="#38a8ff"/>
<rect x="360.73" y="86.95" width="24.64" height="6.36" fill="#00ffff"/>
<rect x="68.60" y="93.01" width="12.47" height="6.36" fill="#38a8ff"/>
<rect x="80.77" y="93.01" width="12.47" height="6.36" fill="#00ffff"/>
<rect x="92.95" y="93.01" width="6.39" height="6.36" fill="#8fffb8"/>
<rect x="99.03" y="93.01" width="12.47" height="6.36" fill="#d0ff63"/>
<rect x="111.20" y="93.01" width="12.47" height="6.36" fill="#ffb700"/>
<rect x="123.38" y="93.01" width="6.39" height="6.36" fill="#ffff00"/>
<rect x="129.46" y="93.01" width="6.39" height="6.36" fill="#d0ff63"/>
<rect x="135.55" y="93.01" width="6.39" height="6.36" fill="#8fffb8"/>
<rect x="141.63" y="93.01" width="24.64" height="6.36" fill="#00ffff"/>
<rect x="251.18" y="93.01" width="36.82" height="6.36" fill="#0000ff"/>
<rect x="287.70" y="93.01" width="18.56" height="6.36" fill="#3a5cff"/>
<rect x="305.96" y="93.01" width="18.56" height="6.36" fill="#0000ff"/>
<rect x="324.21" y="93.01" width="24.64" height="6.36" fill="#3a5cff"/>
<rect x="348.56" y="93.01" width="6.39" height="6.36" fill="#38a8ff"/>
<rect x="354.64" y="93.01" width="30.73" height="6.36" fill="#00ffff"/>
<rect x="68.60" y="99.07" width="18.56" height="6.36" fill="#8fffb8"/>
<rect x="86.86" y="99.07" width="6.39" height="6.36" fill="#d0ff63"/>
<rect x="92.95" y="99.07" width="18.56" height="6.36" fill="#ffff00"/>
<rect x="111.20" y="99.07" width="6.39" height="6.36" fill="#ffb700"/>
<rect x="117.29" y="99.07" width="6.39" height="6.36" fill="#ffff00"/>
<rect x="123.38" y="99.07" width="6.39" height="6.36" fill="#d0ff63"/>
<rect x="129.46" y="99.07" width="6.39" height="6.36" fill="#8fffb8"/>
<rect x="135.55" y="99.07" width="6.39" height="6.36" fill="#00ffff"/>
<rect x="141.63" y="99.07" width="6.39" height="6.36" fill="#38a8ff"/>
<rect x="147.72" y="99.07" width="24.64" height="6.36" fill="#3a5cff"/>
<rect x="178.15" y="99.07" width="18.56" height="6.36" fill="#38a8ff"/>
<rect x="196.41" y="99.07" width="6.39" height="6.36" fill="#00ffff"/>
<rect x="226.84" y="99.07" width="12.47" height="6.36" fill="#3a5cff"/>
<rect x="245.10" y="99.07" width="12.47" height="6.36" fill="#3a5cff"/>
<rect x="263.35" y="99.07" width="67.25" height="6.36" fill="#3a5cff"/>
<rect x="330.30" y="99.07" width="18.56" height="6.36" fill="#38a8ff"/>
<rect x="348.56" y="99.07" width="12.47" height="6.36" fill="#00ffff"/>
<rect x="360.73" y="99.07" width="18.56" height="6.36" fill="#8fffb8"/>
<rect x="56.43" y="105.12" width="6.39" height="6.36" fill="#00ffff"/>
<rect x="62.52" y="105.12" width="6.39" height="6.36" fill="#8fffb8"/>
<rect x="68.60" y="105.12" width="30.73" height="6.36" fill="#d0ff63"/>
<rect x="99.03" y="105.12" width="12.47" height="6.36" fill="#ffff00"/>
<rect x="111.20" y="105.12" width="6.39" height="6.36" fill="#ffb700"/>
<rect x="117.29" y="105.12" width="12.47" height="6.36" fill="#ffff00"/>
<rect x="129.46" y="105.12" width="6.39" height="6.36" fill="#d0ff63"/>
<rect x="135.55" y="105.12" width="6.39" height="6.36" fill="#8fffb8"/>
<rect x="147.72" y="105.12" width="6.39" height="6.36" fill="#38a8ff"/>
<rect x="153.81" y="105.12" width="24.64" height="6.36" fill="#3a5cff"/>
<rect x="184.24" y="105.12" width="6.39" height="6.36" fill="#3a5cff"/>
<rect x="190.32" y="105.12" width="12.47" height="6.36" fill="#0000ff"/>
<rect x="226.84" y="105.12" width="12.47" height="6.36" fill="#38a8ff"/>
<rect x="239.01" y="105.12" width="6.39" height="6.36" fill="#3a5cff"/>
<rect x="245.10" y="105.12" width="12.47" height="6.36" fill="#38a8ff"/>
<rect x="257.27" y="105.12" width="97.68" height="6.36" fill="#00ffff"/>
<rect x="354.64" y="105.12" width="12.47" height="6.36" fill="#8fffb8"/>
<rect x="56.43" y="111.18" width="6.39" height="6.36" fill="#00ffff"/>
<rect x="62.52" y="111.18" width="12.47" height="6.36" fill="#8fffb8"/>
<rect x="74.69" y="111.18" width="24.64" height="6.36" fill="#d0ff63"/>
<rect x="105.12" y="111.18" width="12.47" height="6.36" fill="#d0ff63"/>
<rect x="135.55" y="111.18" width="6.39" height="6.36" fill="#8fffb8"/>
<rect x="153.81" y="111.18" width="6.39" height="6.36" fill="#38a8ff"/>
<rect x="159.89" y="111.18" width="18.56" height="6.36" fill="#3a5cff"/>
<rect x="178.15" y="111.18" width="18.56" height="6.36" fill="#38a8ff"/>
<rect x="208.58" y="111.18" width="12.47" height="6.36" fill="#0000ff"/>
<rect x="226.84" y="111.18" width="24.64" height="6.36" fill="#38a8ff"/>
<rect x="251.18" y="111.18" width="30.73" height="6.36" fill="#00ffff"/>
<rect x="281.61" y="111.18" width="6.39" height="6.36" fill="#8fffb8"/>
<rect x="287.70" y="111.18" width="18.56" height="6.36" fill="#d0ff63"/>
<rect x="305.96" y="111.18" width="24.64" height="6.36" fill="#8fffb8"/>
<rect x="330.30" y="111.18" width="24.64" height="6.36" fill="#00ffff"/>
<rect x="26.00" y="117.24" width="6.39" height="6.36" fill="#3a5cff"/>
<rect x="38.17" y="117.24" width="6.39" height="6.36" fill="#00ffff"/>
<rect x="44.26" y="117.24" width="6.39" height="6.36" fill="#8fffb8"/>
<rect x="50.34" y="117.24" width="18.56" height="6.36" fill="#00ffff"/>
<rect x="68.60" y="117.24" width="6.39" height="6.36" fill="#8fffb8"/>
<rect x="80.77" y="117.24" width="12.47" height="6.36" fill="#00ffff"/>
<rect x="117.29" y="117.24" width="6.39" height="6.36" fill="#3a5cff"/>
<rect x="147.72" y="117.24" width="12.47" height="6.36" fill="#38a8ff"/>
<rect x="165.98" y="117.24" width="6.39" height="6.36" fill="#3a5cff"/>
<rect x="172.06" y="117.24" width="24.64" height="6.36" fill="#38a8ff"/>
<rect x="196.41" y="117.24" width="6.39" height="6.36" fill="#3a5cff"/>
<rect x="202.49" y="117.24" width="12.47" height="6.36" fill="#0000ff"/>
<rect x="220.75" y="117.24" width="30.73" height="6.36" fill="#0000ff"/>
<rect x="251.18" y="117.24" width="18.56" height="6.36" fill="#00ffff"/>
<rect x="269.44" y="117.24" width="6.39" height="6.36" fill="#8fffb8"/>
<rect x="275.53" y="117.24" width="12.47" height="6.36" fill="#d0ff63"/>
<rect x="287.70" y="117.24" width="6.39" height="6.36" fill="#ffff00"/>
<rect x="293.78" y="117.24" width="30.73" height="6.36" fill="#d0ff63"/>
<rect x="324.21" y="117.24" width="6.39" height="6.36" fill="#8fffb8"/>
<rect x="330.30" y="117.24" width="6.39" height="6.36" fill="#00ffff"/>
<rect x="26.00" y="123.30" width="30.73" height="6.36" fill="#8fffb8"/>
<rect x="68.60" y="123.30" width="6.39" height="6.36" fill="#00ffff"/>
<rect x="86.86" y="123.30" width="12.47" height="6.36" fill="#38a8ff"/>
<rect x="99.03" y="123.30" width="6.39" height="6.36" fill="#3a5cff"/>
<rect x="111.20" y="123.30" width="12.47" height="6.36" fill="#0000ff"/>
<rect x="129.46" y="123.30" width="6.39" height="6.36" fill="#0000ff"/>
<rect x="135.55" y="123.30" width="24.64" height="6.36" fill="#3a5cff"/>
<rect x="178.15" y="123.30" width="18.56" height="6.36" fill="#38a8ff"/>
<rect x="196.41" y="123.30" width="12.47" height="6.36" fill="#3a5cff"/>
<rect x="208.58" y="123.30" width="6.39" height="6.36" fill="#0000ff"/>
<rect x="220.75" y="123.30" width="24.64" height="6.36" fill="#0000ff"/>
<rect x="245.10" y="123.30" width="18.56" height="6.36" fill="#3a5cff"/>
<rect x="263.35" y="123.30" width="12.47" height="6.36" fill="#38a8ff"/>
<rect x="275.53" y="123.30" width="12.47" height="6.36" fill="#00ffff"/>
<rect x="287.70" y="123.30" width="12.47" height="6.36" fill="#ffff00"/>
<rect x="299.87" y="123.30" width="12.47" height="6.36" fill="#d0ff63"/>
<rect x="26.00" y="129.35" width="18.56" height="6.36" fill="#8fffb8"/>
<rect x="44.26" y="129.35" width="6.39" height="6.36" fill="#00ffff"/>
<rect x="50.34" y="129.35" width="12.47" height="6.36" fill="#8fffb8"/>
<rect x="62.52" y="129.35" width="12.47" height="6.36" fill="#00ffff"/>
<rect x="74.69" y="129.35" width="12.47" height="6.36" fill="#38a8ff"/>
<rect x="92.95" y="129.35" width="6.39" height="6.36" fill="#3a5cff"/>
<rect x="117.29" y="129.35" width="6.39" height="6.36" fill="#0000ff"/>
<rect x="135.55" y="129.35" width="6.39" height="6.36" fill="#0000ff"/>
<rect x="141.63" y="129.35" width="24.64" height="6.36" fill="#3a5cff"/>
<rect x="165.98" y="129.35" width="30.73" height="6.36" fill="#38a8ff"/>
<rect x="196.41" y="129.35" width="48.99" height="6.36" fill="#3a5cff"/>
<rect x="245.10" y="129.35" width="18.56" height="6.36" fill="#38a8ff"/>
<rect x="263.35" y="129.35" width="6.39" height="6.36" fill="#00ffff"/>
<rect x="269.44" y="129.35" width="18.56" height="6.36" fill="#8fffb8"/>
<rect x="287.70" y="129.35" width="30.73" height="6.36" fill="#00ffff"/>
<rect x="318.13" y="129.35" width="12.47" height="6.36" fill="#38a8ff"/>
<rect x="26.00" y="135.41" width="18.56" height="6.36" fill="#38a8ff"/>
<rect x="56.43" y="135.41" width="12.47" height="6.36" fill="#00ffff"/>
<rect x="68.60" y="135.41" width="6.39" height="6.36" fill="#38a8ff"/>
<rect x="74.69" y="135.41" width="6.39" height="6.36" fill="#3a5cff"/>
<rect x="86.86" y="135.41" width="6.39" height="6.36" fill="#0000ff"/>
<rect x="135.55" y="135.41" width="24.64" height="6.36" fill="#0000ff"/>
<rect x="159.89" y="135.41" width="61.16" height="6.36" fill="#3a5cff"/>
<rect x="220.75" y="135.41" width="18.56" height="6.36" fill="#38a8ff"/>
<rect x="239.01" y="135.41" width="6.39" height="6.36" fill="#3a5cff"/>
<rect x="245.10" y="135.41" width="6.39" height="6.36" fill="#38a8ff"/>
<rect x="251.18" y="135.41" width="6.39" height="6.36" fill="#00ffff"/>
<rect x="257.27" y="135.41" width="12.47" height="6.36" fill="#8fffb8"/>
<rect x="269.44" y="135.41" width="12.47" height="6.36" fill="#d0ff63"/>
<rect x="281.61" y="135.41" width="6.39" height="6.36" fill="#8fffb8"/>
<rect x="287.70" y="135.41" width="18.56" height="6.36" fill="#00ffff"/>
<rect x="305.96" y="135.41" width="18.56" height="6.36" fill="#38a8ff"/>
<rect x="68.60" y="141.47" width="12.47" height="6.36" fill="#3a5cff"/>
<rect x="80.77" y="141.47" width="6.39" height="6.36" fill="#0000ff"/>
<rect x="99.03" y="141.47" width="6.39" height="6.36" fill="#0000ff"/>
<rect x="147.72" y="141.47" width="12.47" height="6.36" fill="#0000ff"/>
<rect x="172.06" y="141.47" width="6.39" height="6.36" fill="#3a5cff"/>
<rect x="178.15" y="141.47" width="24.64" height="6.36" fill="#0000ff"/>
<rect x="202.49" y="141.47" width="42.90" height="6.36" fill="#3a5cff"/>
<rect x="245.10" y="141.47" width="6.39" height="6.36" fill="#38a8ff"/>
<rect x="251.18" y="141.47" width="6.39" height="6.36" fill="#00ffff"/>
<rect x="257.27" y="141.47" width="18.56" height="6.36" fill="#8fffb8"/>
<rect x="275.53" y="141.47" width="6.39" height="6.36" fill="#d0ff63"/>
<rect x="281.61" y="141.47" width="12.47" height="6.36" fill="#8fffb8"/>
<rect x="293.78" y="141.47" width="24.64" height="6.36" fill="#00ffff"/>
<rect x="80.77" y="147.52" width="6.39" height="6.36" fill="#0000ff"/>
<rect x="123.38" y="147.52" width="6.39" height="6.36" fill="#0000ff"/>
<rect x="141.63" y="147.52" width="6.39" height="6.36" fill="#0000ff"/>
<rect x="159.89" y="147.52" width="6.39" height="6.36" fill="#0000ff"/>
<rect x="178.15" y="147.52" width="6.39" height="6.36" fill="#0000ff"/>
<rect x="190.32" y="147.52" width="48.99" height="6.36" fill="#0000ff"/>
<rect x="239.01" y="147.52" width="12.47" height="6.36" fill="#3a5cff"/>
<rect x="251.18" y="147.52" width="6.39" height="6.36" fill="#00ffff"/>
<rect x="257.27" y="147.52" width="6.39" height="6.36" fill="#8fffb8"/>
<rect x="263.35" y="147.52" width="12.47" height="6.36" fill="#d0ff63"/>
<rect x="275.53" y="147.52" width="24.64" height="6.36" fill="#8fffb8"/>
<rect x="299.87" y="147.52" width="6.39" height="6.36" fill="#00ffff"/>
<rect x="305.96" y="147.52" width="12.47" height="6.36" fill="#38a8ff"/>
<rect x="62.52" y="153.58" width="6.39" height="6.36" fill="#0000ff"/>
<rect x="141.63" y="153.58" width="6.39" height="6.36" fill="#0000ff"/>
<rect x="159.89" y="153.58" width="79.42" height="6.36" fill="#0000ff"/>
<rect x="239.01" y="153.58" width="6.39" height="6.36" fill="#3a5cff"/>
<rect x="245.10" y="153.58" width="6.39" height="6.36" fill="#38a8ff"/>
<rect x="251.18" y="153.58" width="6.39" height="6.36" fill="#00ffff"/>
<rect x="257.27" y="153.58" width="6.39" height="6.36" fill="#8fffb8"/>
<rect x="263.35" y="153.58" width="24.64" height="6.36" fill="#d0ff63"/>
<rect x="287.70" y="153.58" width="12.47" height="6.36" fill="#8fffb8"/>
<rect x="299.87" y="153.58" width="12.47" height="6.36" fill="#00ffff"/>
<rect x="312.04" y="153.58" width="6.39" height="6.36" fill="#8fffb8"/>
<rect x="68.60" y="159.64" width="6.39" height="6.36" fill="#0000ff"/>
<rect x="135.55" y="159.64" width="12.47" height="6.36" fill="#0000ff"/>
<rect x="159.89" y="159.64" width="6.39" height="6.36" fill="#3a5cff"/>
<rect x="165.98" y="159.64" width="12.47" height="6.36" fill="#38a8ff"/>
<rect x="178.15" y="159.64" width="6.39" height="6.36" fill="#3a5cff"/>
<rect x="190.32" y="159.64" width="48.99" height="6.36" fill="#0000ff"/>
<rect x="239.01" y="159.64" width="6.39" height="6.36" fill="#3a5cff"/>
<rect x="245.10" y="159.64" width="6.39" height="6.36" fill="#38a8ff"/>
<rect x="251.18" y="159.64" width="6.39" height="6.36" fill="#00ffff"/>
<rect x="257.27" y="159.64" width="6.39" height="6.36" fill="#8fffb8"/>
<rect x="263.35" y="159.64" width="48.99" height="6.36" fill="#d0ff63"/>
<rect x="312.04" y="159.64" width="12.47" height="6.36" fill="#8fffb8"/>
<rect x="56.43" y="165.69" width="6.39" height="6.36" fill="#0000ff"/>
<rect x="111.20" y="165.69" width="6.39" height="6.36" fill="#0000ff"/>
<rect x="123.38" y="165.69" width="30.73" height="6.36" fill="#0000ff"/>
<rect x="159.89" y="165.69" width="18.56" height="6.36" fill="#38a8ff"/>
<rect x="178.15" y="165.69" width="12.47" height="6.36" fill="#3a5cff"/>
<rect x="190.32" y="165.69" width="12.47" height="6.36" fill="#0000ff"/>
<rect x="202.49" y="165.69" width="6.39" height="6.36" fill="#3a5cff"/>
<rect x="208.58" y="165.69" width="18.56" height="6.36" fill="#0000ff"/>
<rect x="226.84" y="165.69" width="18.56" height="6.36" fill="#3a5cff"/>
<rect x="245.10" y="165.69" width="6.39" height="6.36" fill="#38a8ff"/>
<rect x="251.18" y="165.69" width="6.39" height="6.36" fill="#00ffff"/>
<rect x="257.27" y="165.69" width="6.39" height="6.36" fill="#8fffb8"/>
<rect x="263.35" y="165.69" width="12.47" height="6.36" fill="#d0ff63"/>
<rect x="275.53" y="165.69" width="12.47" height="6.36" fill="#8fffb8"/>
<rect x="287.70" y="165.69" width="36.82" height="6.36" fill="#d0ff63"/>
<rect x="62.52" y="171.75" width="18.56" height="6.36" fill="#0000ff"/>
<rect x="117.29" y="171.75" width="6.39" height="6.36" fill="#0000ff"/>
<rect x="129.46" y="171.75" width="12.47" height="6.36" fill="#0000ff"/>
<rect x="147.72" y="171.75" width="30.73" height="6.36" fill="#3a5cff"/>
<rect x="178.15" y="171.75" width="48.99" height="6.36" fill="#0000ff"/>
<rect x="226.84" y="171.75" width="24.64" height="6.36" fill="#3a5cff"/>
<rect x="251.18" y="171.75" width="6.39" height="6.36" fill="#00ffff"/>
<rect x="257.27" y="171.75" width="24.64" height="6.36" fill="#8fffb8"/>
<rect x="281.61" y="171.75" width="6.39" height="6.36" fill="#00ffff"/>
<rect x="287.70" y="171.75" width="6.39" height="6.36" fill="#8fffb8"/>
<rect x="293.78" y="171.75" width="24.64" height="6.36" fill="#d0ff63"/>
<rect x="111.20" y="177.81" width="12.47" height="6.36" fill="#3a5cff"/>
<rect x="123.38" y="177.81" width="24.64" height="6.36" fill="#0000ff"/>
<rect x="147.72" y="177.81" width="6.39" height="6.36" fill="#3a5cff"/>
<rect x="153.81" y="177.81" width="6.39" height="6.36" fill="#0000ff"/>
<rect x="159.89" y="177.81" width="6.39" height="6.36" fill="#3a5cff"/>
<rect x="172.06" y="177.81" width="55.07" height="6.36" fill="#0000ff"/>
<rect x="226.84" y="177.81" width="18.56" height="6.36" fill="#3a5cff"/>
<rect x="245.10" y="177.81" width="12.47" height="6.36" fill="#38a8ff"/>
<rect x="257.27" y="177.81" width="6.39" height="6.36" fill="#00ffff"/>
<rect x="263.35" y="177.81" width="30.73" height="6.36" fill="#8fffb8"/>
<rect x="293.78" y="177.81" width="24.64" height="6.36" fill="#d0ff63"/>
<rect x="318.13" y="177.81" width="6.39" height="6.36" fill="#8fffb8"/>
<rect x="92.95" y="183.87" width="6.39" height="6.36" fill="#38a8ff"/>
<rect x="99.03" y="183.87" width="6.39" height="6.36" fill="#3a5cff"/>
<rect x="111.20" y="183.87" width="6.39" height="6.36" fill="#3a5cff"/>
<rect x="117.29" y="183.87" width="6.39" height="6.36" fill="#38a8ff"/>
<rect x="123.38" y="183.87" width="12.47" height="6.36" fill="#3a5cff"/>
<rect x="135.55" y="183.87" width="12.47" height="6.36" fill="#38a8ff"/>
<rect x="153.81" y="183.87" width="6.39" height="6.36" fill="#00ffff"/>
<rect x="159.89" y="183.87" width="12.47" height="6.36" fill="#38a8ff"/>
<rect x="172.06" y="183.87" width="6.39" height="6.36" fill="#3a5cff"/>
<rect x="178.15" y="183.87" width="12.47" height="6.36" fill="#0000ff"/>
<rect x="190.32" y="183.87" width="6.39" height="6.36" fill="#3a5cff"/>
<rect x="196.41" y="183.87" width="24.64" height="6.36" fill="#0000ff"/>
<rect x="220.75" y="183.87" width="18.56" height="6.36" fill="#3a5cff"/>
<rect x="239.01" y="183.87" width="18.56" height="6.36" fill="#38a8ff"/>
<rect x="257.27" y="183.87" width="12.47" height="6.36" fill="#00ffff"/>
<rect x="269.44" y="183.87" width="12.47" height="6.36" fill="#8fffb8"/>
<rect x="281.61" y="183.87" width="18.56" height="6.36" fill="#00ffff"/>
<rect x="299.87" y="183.87" width="18.56" height="6.36" fill="#8fffb8"/>
<rect x="318.13" y="183.87" width="6.39" height="6.36" fill="#00ffff"/>
<rect x="117.29" y="189.92" width="12.47" height="6.36" fill="#3a5cff"/>
<rect x="129.46" y="189.92" width="6.39" height="6.36" fill="#38a8ff"/>
<rect x="135.55" y="189.92" width="12.47" height="6.36" fill="#00ffff"/>
<rect x="147.72" y="189.92" width="6.39" height="6.36" fill="#8fffb8"/>
<rect x="153.81" y="189.92" width="30.73" height="6.36" fill="#38a8ff"/>
<rect x="184.24" y="189.92" width="12.47" height="6.36" fill="#00ffff"/>
<rect x="196.41" y="189.92" width="12.47" height="6.36" fill="#8fffb8"/>
<rect x="208.58" y="189.92" width="6.39" height="6.36" fill="#0000ff"/>
<rect x="214.67" y="189.92" width="48.99" height="6.36" fill="#3a5cff"/>
<rect x="263.35" y="189.92" width="6.39" height="6.36" fill="#38a8ff"/>
<rect x="269.44" y="189.92" width="24.64" height="6.36" fill="#00ffff"/>
<rect x="293.78" y="189.92" width="6.39" height="6.36" fill="#38a8ff"/>
<rect x="299.87" y="189.92" width="12.47" height="6.36" fill="#00ffff"/>
<rect x="312.04" y="189.92" width="12.47" height="6.36" fill="#38a8ff"/>
<rect x="178.15" y="195.98" width="6.39" height="6.36" fill="#00ffff"/>
<rect x="184.24" y="195.98" width="12.47" height="6.36" fill="#8fffb8"/>
<rect x="196.41" y="195.98" width="12.47" height="6.36" fill="#d0ff63"/>
<rect x="208.58" y="195.98" width="12.47" height="6.36" fill="#3a5cff"/>
<rect x="220.75" y="195.98" width="30.73" height="6.36" fill="#0000ff"/>
<rect x="251.18" y="195.98" width="18.56" height="6.36" fill="#3a5cff"/>
<rect x="269.44" y="195.98" width="12.47" height="6.36" fill="#38a8ff"/>
<rect x="281.61" y="195.98" width="6.39" height="6.36" fill="#3a5cff"/>
<rect x="287.70" y="195.98" width="6.39" height="6.36" fill="#38a8ff"/>
<rect x="293.78" y="195.98" width="24.64" height="6.36" fill="#3a5cff"/>
<rect x="172.06" y="202.04" width="18.56" height="6.36" fill="#8fffb8"/>
<rect x="190.32" y="202.04" width="12.47" height="6.36" fill="#d0ff63"/>
<rect x="202.49" y="202.04" width="6.39" height="6.36" fill="#8fffb8"/>
<rect x="208.58" y="202.04" width="6.39" height="6.36" fill="#d0ff63"/>
<rect x="214.67" y="202.04" width="42.90" height="6.36" fill="#0000ff"/>
<rect x="257.27" y="202.04" width="24.64" height="6.36" fill="#3a5cff"/>
<rect x="281.61" y="202.04" width="6.39" height="6.36" fill="#0000ff"/>
<rect x="287.70" y="202.04" width="12.47" height="6.36" fill="#3a5cff"/>
<rect x="299.87" y="202.04" width="24.64" height="6.36" fill="#0000ff"/>
<rect x="172.06" y="208.09" width="12.47" height="6.36" fill="#8fffb8"/>
<rect x="184.24" y="208.09" width="12.47" height="6.36" fill="#d0ff63"/>
<rect x="196.41" y="208.09" width="12.47" height="6.36" fill="#8fffb8"/>
<rect x="208.58" y="208.09" width="12.47" height="6.36" fill="#00ffff"/>
<rect x="220.75" y="208.09" width="85.50" height="6.36" fill="#0000ff"/>
<rect x="312.04" y="208.09" width="12.47" height="6.36" fill="#0000ff"/>
<rect x="178.15" y="214.15" width="18.56" height="6.36" fill="#d0ff63"/>
<rect x="196.41" y="214.15" width="6.39" height="6.36" fill="#8fffb8"/>
<rect x="202.49" y="214.15" width="6.39" height="6.36" fill="#00ffff"/>
<rect x="208.58" y="214.15" width="12.47" height="6.36" fill="#38a8ff"/>
<rect x="220.75" y="214.15" width="79.42" height="6.36" fill="#0000ff"/>
<rect x="312.04" y="214.15" width="12.47" height="6.36" fill="#d0ff63"/>
<rect x="184.24" y="220.21" width="6.39" height="6.36" fill="#d0ff63"/>
<rect x="190.32" y="220.21" width="6.39" height="6.36" fill="#8fffb8"/>
<rect x="196.41" y="220.21" width="6.39" height="6.36" fill="#00ffff"/>
<rect x="202.49" y="220.21" width="18.56" height="6.36" fill="#38a8ff"/>
<rect x="220.75" y="220.21" width="73.33" height="6.36" fill="#0000ff"/>
<rect x="312.04" y="220.21" width="12.47" height="6.36" fill="#ffff00"/>
<rect x="190.32" y="226.26" width="6.39" height="6.36" fill="#00ffff"/>
<rect x="196.41" y="226.26" width="12.47" height="6.36" fill="#38a8ff"/>
<rect x="232.92" y="226.26" width="42.90" height="6.36" fill="#0000ff"/>
<rect x="312.04" y="226.26" width="12.47" height="6.36" fill="#ffff00"/>
<rect x="245.10" y="232.32" width="6.39" height="6.36" fill="#0000ff"/>
<rect x="251.18" y="232.32" width="6.39" height="6.36" fill="#d0ff63"/>
<rect x="239.01" y="238.38" width="18.56" height="6.36" fill="#d0ff63"/>
<rect x="239.01" y="244.44" width="18.56" height="6.36" fill="#d0ff63"/>
<path d="M26.0,117.2v24.2M32.1,117.2v24.2M38.2,117.2v24.2M44.3,117.2v24.2M50.3,117.2v18.2M56.4,105.1v36.3M56.4,165.7v6.1M62.5,87.0v6.1M62.5,105.1v18.2M62.5,129.4v12.1M62.5,153.6v6.1M62.5,165.7v12.1M68.6,87.0v60.6M68.6,153.6v12.1M68.6,171.8v6.1M74.7,80.9v66.6M74.7,159.6v6.1M74.7,171.8v6.1M80.8,74.8v48.5M80.8,129.4v24.2M80.8,171.8v6.1M86.9,74.8v78.7M92.9,62.7v78.7M92.9,183.9v6.1M99.0,56.7v60.6M99.0,123.3v12.1M99.0,141.5v6.1M99.0,183.9v6.1M105.1,56.7v60.6M105.1,123.3v6.1M105.1,141.5v6.1M105.1,183.9v6.1M111.2,56.7v60.6M111.2,123.3v6.1M111.2,165.7v6.1M111.2,177.8v12.1M117.3,56.7v78.7M117.3,165.7v30.3M123.4,56.7v6.1M123.4,68.8v42.4M123.4,117.2v18.2M123.4,147.5v6.1M123.4,165.7v30.3M129.5,68.8v12.1M129.5,87.0v24.2M129.5,123.3v6.1M129.5,147.5v6.1M129.5,165.7v30.3M135.5,74.8v6.1M135.5,87.0v30.3M135.5,123.3v18.2M135.5,159.6v36.3M141.6,74.8v6.1M141.6,87.0v30.3M141.6,123.3v18.2M141.6,147.5v48.5M147.7,87.0v24.2M147.7,117.2v78.7M153.8,87.0v60.6M153.8,165.7v30.3M159.9,87.0v109.0M166.0,93.0v30.3M166.0,129.4v12.1M166.0,147.5v48.5M172.1,99.1v24.2M172.1,129.4v18.2M172.1,153.6v42.4M172.1,202.0v12.1M178.2,99.1v121.1M184.2,99.1v127.2M190.3,99.1v133.3M196.4,99.1v133.3M202.5,99.1v12.1M202.5,117.2v115.1M208.6,111.2v121.1M214.7,111.2v115.1M220.8,111.2v115.1M226.8,99.1v127.2M232.9,99.1v133.3M239.0,99.1v133.3M239.0,238.4v12.1M245.1,99.1v151.4M251.2,93.0v157.5M257.3,87.0v163.5M263.4,87.0v145.4M269.4,80.9v151.4M275.5,80.9v151.4M281.6,56.7v169.6M287.7,56.7v169.6M293.8,56.7v169.6M299.9,56.7v163.5M306.0,44.6v169.6M312.0,32.4v199.9M318.1,32.4v90.9M318.1,129.4v103.0M324.2,32.4v90.9M324.2,129.4v12.1M324.2,159.6v12.1M324.2,177.8v18.2M324.2,202.0v30.3M330.3,32.4v90.9M330.3,129.4v6.1M336.4,32.4v90.9M342.5,32.4v84.8M348.6,32.4v84.8M354.6,32.4v84.8M360.7,44.6v66.6M366.8,50.6v60.6M372.9,56.7v48.5M379.0,56.7v48.5M385.1,62.7v36.3M391.2,62.7v24.2M397.2,62.7v24.2M403.3,62.7v18.2M409.4,62.7v18.2M312.0,32.4h42.6M312.0,38.5h42.6M306.0,44.6h54.8M306.0,50.6h60.9M99.0,56.7h24.3M281.6,56.7h97.4M92.9,62.7h30.4M281.6,62.7h127.8M92.9,68.8h36.5M281.6,68.8h127.8M80.8,74.8h60.9M281.6,74.8h127.8M74.7,80.9h66.9M269.4,80.9h140.0M62.5,87.0h85.2M153.8,87.0h6.1M257.3,87.0h6.1M269.4,87.0h127.8M62.5,93.0h103.5M251.2,93.0h133.9M68.6,99.1h103.5M178.2,99.1h24.3M226.8,99.1h12.2M245.1,99.1h140.0M56.4,105.1h146.1M226.8,105.1h152.2M56.4,111.2h85.2M147.7,111.2h54.8M208.6,111.2h12.2M226.8,111.2h140.0M26.0,117.2h6.1M38.2,117.2h60.9M105.1,117.2h18.3M135.5,117.2h6.1M147.7,117.2h206.9M26.0,123.3h48.7M80.8,123.3h24.3M111.2,123.3h12.2M129.5,123.3h30.4M166.0,123.3h48.7M220.8,123.3h115.6M26.0,129.4h79.1M111.2,129.4h12.2M129.5,129.4h200.8M26.0,135.4h73.0M117.3,135.4h6.1M135.5,135.4h194.8M26.0,141.5h18.3M56.4,141.5h36.5M99.0,141.5h6.1M135.5,141.5h188.7M68.6,147.5h18.3M99.0,147.5h6.1M123.4,147.5h6.1M141.6,147.5h24.3M172.1,147.5h146.1M62.5,153.6h6.1M80.8,153.6h6.1M123.4,153.6h6.1M141.6,153.6h6.1M159.9,153.6h158.2M62.5,159.6h12.2M135.5,159.6h12.2M159.9,159.6h164.3M56.4,165.7h6.1M68.6,165.7h6.1M111.2,165.7h6.1M123.4,165.7h30.4M159.9,165.7h164.3M56.4,171.8h24.3M111.2,171.8h213.0M62.5,177.8h18.3M111.2,177.8h213.0M92.9,183.9h12.2M111.2,183.9h213.0M92.9,189.9h12.2M111.2,189.9h213.0M117.3,196.0h206.9M172.1,202.0h152.2M172.1,208.1h152.2M172.1,214.2h133.9M312.0,214.2h12.2M178.2,220.2h121.7M312.0,220.2h12.2M184.2,226.3h109.5M312.0,226.3h12.2M190.3,232.3h18.3M232.9,232.3h42.6M312.0,232.3h12.2M239.0,238.4h18.3M239.0,244.4h18.3M239.0,250.5h18.3" stroke="#6e6e6e" stroke-width="0.55" fill="none" opacity="0.75"/><path d="M38.2,111.2v6.1M44.3,111.2v6.1M44.3,141.5v6.1M50.3,111.2v6.1M50.3,135.4v12.1M56.4,141.5v12.1M56.4,159.6v6.1M62.5,123.3v6.1M62.5,141.5v12.1M62.5,159.6v6.1M68.6,147.5v6.1M68.6,165.7v6.1M74.7,147.5v12.1M74.7,165.7v6.1M80.8,123.3v6.1M80.8,153.6v18.2M80.8,177.8v6.1M86.9,153.6v30.3M92.9,141.5v42.4M99.0,117.2v6.1M99.0,135.4v6.1M99.0,147.5v36.3M105.1,117.2v6.1M105.1,129.4v12.1M105.1,147.5v36.3M111.2,117.2v6.1M111.2,129.4v36.3M111.2,171.8v6.1M117.3,135.4v30.3M123.4,62.7v6.1M123.4,111.2v6.1M123.4,135.4v12.1M123.4,153.6v12.1M129.5,80.9v6.1M129.5,111.2v12.1M129.5,129.4v18.2M129.5,153.6v12.1M135.5,68.8v6.1M135.5,80.9v6.1M135.5,117.2v6.1M135.5,141.5v18.2M141.6,80.9v6.1M141.6,117.2v6.1M141.6,141.5v6.1M147.7,111.2v6.1M153.8,147.5v18.2M166.0,87.0v6.1M166.0,123.3v6.1M166.0,141.5v6.1M172.1,123.3v6.1M172.1,147.5v6.1M202.5,111.2v6.1M208.6,99.1v12.1M214.7,99.1v12.1M220.8,99.1v12.1M324.2,171.8v6.1M129.5,68.8h6.1M147.7,87.0h6.1M159.9,87.0h6.1M263.4,87.0h6.1M172.1,99.1h6.1M202.5,99.1h24.3M239.0,99.1h6.1M202.5,105.1h24.3M38.2,111.2h18.3M141.6,111.2h6.1M202.5,111.2h6.1M220.8,111.2h6.1M32.1,117.2h6.1M99.0,117.2h6.1M123.4,117.2h12.2M141.6,117.2h6.1M74.7,123.3h6.1M105.1,123.3h6.1M123.4,123.3h6.1M159.9,123.3h6.1M214.7,123.3h6.1M105.1,129.4h6.1M123.4,129.4h6.1M99.0,135.4h18.3M123.4,135.4h12.2M44.3,141.5h12.2M92.9,141.5h6.1M105.1,141.5h30.4M44.3,147.5h24.3M86.9,147.5h12.2M105.1,147.5h18.3M129.5,147.5h12.2M166.0,147.5h6.1M56.4,153.6h6.1M68.6,153.6h12.2M86.9,153.6h36.5M129.5,153.6h12.2M147.7,153.6h12.2M56.4,159.6h6.1M74.7,159.6h60.9M147.7,159.6h12.2M62.5,165.7h6.1M74.7,165.7h36.5M117.3,165.7h6.1M153.8,165.7h6.1M80.8,171.8h30.4M80.8,177.8h30.4M80.8,183.9h12.2M105.1,183.9h6.1M105.1,189.9h6.1" stroke="#6e6e6e" stroke-width="0.5" fill="none" opacity="0.72"/>
</g>
<polygon points="30.4,121.5 31.4,117.7 36.0,115.3 41.5,113.6 46.9,114.3 52.0,112.0 57.4,108.2 64.1,106.6 70.5,104.9 71.3,100.5 72.5,95.8 70.5,92.1 68.8,87.4 73.9,86.4 78.9,85.0 83.3,85.7 85.0,80.3 87.3,74.6 92.4,73.6 98.3,73.9 102.5,71.9 102.8,66.8 107.5,64.5 111.8,61.4 116.8,61.8 119.7,65.5 123.5,67.8 129.4,68.5 132.5,71.9 136.2,76.3 135.2,81.3 136.5,85.4 144.6,86.0 153.0,86.7 159.7,91.4 163.1,92.1 166.8,97.5 171.5,99.8 180.1,100.8 185.3,100.7 193.7,100.4 201.2,102.4 208.8,104.9 217.2,106.6 226.5,104.9 234.1,102.7 242.5,102.1 250.9,100.7 257.6,97.3 261.9,93.6 260.2,89.8 263.5,86.9 267.7,88.1 271.1,88.1 277.8,85.6 284.6,83.0 291.3,79.7 299.7,77.1 306.5,75.8 310.7,74.1 307.2,71.3 301.4,70.5 294.8,71.0 288.2,71.3 285.7,68.8 287.4,64.7 290.7,60.6 294.0,57.7 298.1,58.9 305.6,56.4 308.9,51.5 312.2,46.5 316.3,42.4 312.2,39.9 316.3,36.9 324.6,35.3 332.0,34.1 337.8,35.7 342.8,36.9 348.6,39.1 351.9,43.2 354.3,49.0 358.5,56.4 362.6,58.9 369.2,59.7 375.8,63.0 378.3,68.8 382.5,70.5 389.1,68.8 395.7,67.2 403.6,65.5 400.6,69.7 397.3,74.6 394.9,80.4 390.7,85.4 384.1,87.0 380.0,90.3 380.5,96.1 378.3,100.2 375.8,101.9 373.4,100.2 369.2,102.7 364.3,105.2 361.0,107.7 356.8,106.9 352.7,109.3 347.7,112.6 342.8,116.0 337.8,119.3 332.8,120.9 327.9,122.6 322.9,124.2 318.8,124.2 321.3,120.9 325.4,115.1 322.9,112.6 318.0,114.3 313.0,117.6 306.4,120.9 299.8,123.4 297.3,125.9 300.6,129.2 305.6,130.8 308.9,134.1 313.0,132.5 318.0,127.5 317.1,130.8 319.6,133.3 326.2,132.8 327.1,135.0 325.2,136.6 319.5,137.4 315.3,141.6 310.4,145.7 307.9,148.2 312.8,152.3 316.1,157.3 319.5,162.2 323.6,167.2 324.1,173.0 328.6,173.3 325.2,178.0 322.8,182.9 321.1,187.9 317.8,192.0 313.7,196.1 311.2,201.1 308.7,206.1 302.9,211.0 296.3,216.0 289.7,221.0 281.4,224.3 274.8,225.1 266.5,228.4 258.3,230.9 257.4,230.8 254.1,232.4 253.3,237.4 251.1,236.9 250.5,232.8 249.1,230.8 245.8,229.5 241.7,229.1 237.6,228.6 232.6,227.0 230.6,223.7 227.6,222.0 223.5,219.9 219.4,221.5 214.4,222.8 209.5,222.5 205.3,224.2 201.5,226.1 200.9,230.3 197.9,231.4 196.2,228.6 192.9,229.5 189.6,227.0 186.3,225.3 188.0,221.5 184.7,220.4 182.2,216.2 178.9,212.9 176.1,209.6 179.7,205.5 182.2,200.5 183.3,195.6 181.3,191.4 177.2,189.8 173.9,188.4 169.8,190.6 164.8,189.4 159.8,191.4 155.7,193.9 149.9,196.7 145.0,195.6 140.0,193.9 139.1,192.2 135.8,190.5 127.5,189.7 123.4,193.8 119.2,190.5 111.0,191.3 104.3,189.7 97.7,185.6 91.9,183.9 86.1,180.6 80.4,176.5 75.4,175.6 68.0,173.2 61.3,168.2 59.7,162.4 64.1,156.1 61.4,152.0 55.7,149.7 51.3,144.3 45.3,141.9 41.9,135.9 35.7,134.2 38.5,130.1 36.3,127.8 32.6,125.8" fill="none" stroke="#555" stroke-width="0.6" stroke-linejoin="round"/>
<polygon points="243.4,242.7 247.5,239.7 254.1,239.0 257.7,240.2 255.8,244.3 252.5,247.6 248.3,250.1 243.9,248.0" fill="none" stroke="#555" stroke-width="0.5"/>
<polygon points="321.1,206.9 323.6,209.4 321.9,216.0 318.6,222.6 316.1,227.6 313.7,222.6 312.5,216.0 315.3,211.9 318.6,208.6" fill="none" stroke="#555" stroke-width="0.5"/>
<path d="M334.3,201.9L333.2,204.4M328.6,211.0L327.7,217.6M322.8,229.2L319.5,233.4M246.5,262.9L250.1,268.2M253.5,286.1L251.6,292.6M240.4,317.3L240.4,324.5M261.8,340.2L268.3,338.3M287.9,312.2L284.2,317.3M305.7,288.2L303.1,294.8M306.7,263.6L306.7,269.4M311.8,245.0L308.2,251.2M266.1,324.5L266.8,328.2M250.1,311.5L254.5,310.7L253.8,313.6L248.7,315.5M261.6,257.1l-0.2,-0.4M263.5,258.9l0.7,-0.1M258.9,259.4l0.4,-0.1M262.5,262.6l0.5,-0.2M264.4,263.6l-0.2,-0.6M266.5,258.2l0.4,-0.2M261.4,262.5l0.6,-0.4M264.5,258.9l-0.1,-0.4M264.9,259.4l0.4,-0.6M283.6,296.9l-0.7,-0.5M281.0,302.3l-0.1,-0.9M289.1,294.4l-0.5,-0.0M285.5,303.3l0.6,-0.3M277.4,305.3l-0.5,-0.5M292.2,293.5l-0.4,-0.6M287.1,297.9l-0.8,-0.5M286.1,301.5l0.8,-0.2M290.9,293.5l0.3,-0.7M275.9,302.7l0.4,-0.2M276.8,298.9l0.3,-0.9M277.0,302.0l-0.1,-0.9M294.2,301.3l0.4,-0.5M285.0,305.5l-0.5,-0.1M277.7,298.3l0.5,-0.5M286.1,295.2l0.7,-0.0M283.5,301.1l-0.8,-0.1M286.7,300.6l-0.2,-0.4M295.3,299.5l-0.8,-0.3M283.0,298.7l0.7,-0.2M278.0,297.1l0.2,-0.4M276.9,300.7l0.9,-0.1M286.0,293.5l0.4,-0.4M280.8,295.2l-0.9,-0.5M277.1,307.8l0.4,-0.1M270.5,308.1l-0.4,-0.3M275.6,301.5l-0.1,-0.4M284.5,313.0l-0.7,-0.3M268.8,311.7l0.7,-0.4M282.5,310.1l0.3,-0.5M293.8,301.9l-0.7,-0.5M269.2,314.7l0.2,-0.4M272.2,316.2l-0.7,-0.1M292.6,293.1l0.4,-0.3M264.9,311.1l-0.4,-0.9M289.9,297.7l-0.4,-0.8M265.9,320.4l-0.8,-0.2M286.8,300.1l0.7,-0.5M275.9,315.7l-0.6,-0.1M279.8,315.9l-0.3,-0.4M269.8,321.1l-0.8,-0.1M273.8,311.8l0.4,-0.2M296.2,296.6l-0.1,-1.0M280.1,314.0l-0.4,-0.3M267.7,310.9l0.5,-0.5M269.3,312.4l0.9,-0.4M273.0,310.4l-0.2,-0.9M280.2,315.0l-0.0,-0.7M274.1,299.9l0.1,-0.5M266.9,315.5l-0.5,-0.6M272.7,312.0l-0.2,-0.9M265.5,318.5l0.4,-0.4M287.9,300.0l-0.2,-0.8M292.0,295.3l-0.2,-0.7M308.7,217.6l0.7,0.3M292.7,234.7l0.7,0.3M321.1,226.4l0.7,0.3M283.1,220.6l0.7,0.3" stroke="#333" stroke-width="0.55" fill="none" stroke-linecap="round"/><ellipse cx="277.6" cy="264.6" rx="3.5" ry="1.5" transform="rotate(-27 277.6 264.6)" fill="none" stroke="#333" stroke-width="0.55"/><circle cx="308.7" cy="217.6" r="0.65" fill="#222"/><circle cx="307.7" cy="219.0" r="0.65" fill="#222"/><circle cx="292.7" cy="234.7" r="0.65" fill="#222"/><circle cx="321.1" cy="226.4" r="0.65" fill="#222"/>
</g>
<text x="32" y="226.6" font-size="11.3">XCO<tspan font-size="7.6" dy="2.3">2ano</tspan><tspan dy="-2.3">(ppm)</tspan></text>
<rect x="27.1" y="234.4" width="28.2" height="14.0" fill="#0000ff" stroke="#a8a8a8" stroke-width="0.5"/>
<text x="60.4" y="245.9" font-size="11.15">−1.55 − −0.57</text>
<rect x="27.1" y="253.3" width="28.2" height="14.0" fill="#3a5cff" stroke="#a8a8a8" stroke-width="0.5"/>
<text x="60.4" y="264.9" font-size="11.15">−0.56 − −0.16</text>
<rect x="27.1" y="272.3" width="28.2" height="14.0" fill="#38a8ff" stroke="#a8a8a8" stroke-width="0.5"/>
<text x="60.4" y="283.8" font-size="11.15">−0.15 − 0.14</text>
<rect x="27.1" y="291.2" width="28.2" height="14.0" fill="#00ffff" stroke="#a8a8a8" stroke-width="0.5"/>
<text x="60.4" y="302.8" font-size="11.15">0.15 − 0.41</text>
<rect x="27.1" y="310.2" width="28.2" height="14.0" fill="#8fffb8" stroke="#a8a8a8" stroke-width="0.5"/>
<text x="60.4" y="321.7" font-size="11.15">0.42 − 0.72</text>
<rect x="130.3" y="234.4" width="28.2" height="14.0" fill="#d0ff63" stroke="#a8a8a8" stroke-width="0.5"/>
<text x="163.6" y="245.9" font-size="11.15">0.73 − 1.08</text>
<rect x="130.3" y="253.3" width="28.2" height="14.0" fill="#ffff00" stroke="#a8a8a8" stroke-width="0.5"/>
<text x="163.6" y="264.9" font-size="11.15">1.09 − 1.46</text>
<rect x="130.3" y="272.3" width="28.2" height="14.0" fill="#ffb700" stroke="#a8a8a8" stroke-width="0.5"/>
<text x="163.6" y="283.8" font-size="11.15">1.47 − 1.85</text>
<rect x="130.3" y="291.2" width="28.2" height="14.0" fill="#ff6f00" stroke="#a8a8a8" stroke-width="0.5"/>
<text x="163.6" y="302.8" font-size="11.15">1.86 − 2.28</text>
<rect x="130.3" y="310.2" width="28.2" height="14.0" fill="#ff0000" stroke="#a8a8a8" stroke-width="0.5"/>
<text x="163.6" y="321.7" font-size="11.15">2.29 − 3.24</text>
<rect x="24.6" y="329.3" width="18.1" height="9.3" fill="#fff" stroke="#7a7a7a" stroke-width="0.7"/>
<text x="46.5" y="338.2" font-size="11">National boundaries</text>
<rect x="144.6" y="329.3" width="18.2" height="9.3" fill="url(#hatchL)" stroke="#b0b0b0" stroke-width="0.5"/>
<text x="167.2" y="338.2" font-size="11">Background area</text>
<rect x="292.2" y="338.8" width="82.9" height="4.1" fill="#fff" stroke="#000" stroke-width="0.7"/><rect x="292.2" y="338.8" width="41.5" height="4.1" fill="#000"/><text x="292.8" y="334.5" font-size="9.8" text-anchor="middle">0</text><text x="334.2" y="334.5" font-size="9.8" text-anchor="middle">750</text><text x="365.2" y="334.5" font-size="9.8">1500 km</text>
<text x="403.7" y="31.3" text-anchor="middle" style="font-family:'Liberation Sans','DejaVu Sans',sans-serif;font-size:6.6px;font-weight:bold;fill:#000">N</text><path d="M403.7,33 L398.9,48.1 L404,43.5 Z" fill="#000"/><path d="M403.7,33 L407.9,47.8 L404,43.5 Z" fill="#fff" stroke="#000" stroke-width="0.55"/><path d="M404.6,38.5L405.6,40.5M404.9,41L406.6,44.2" stroke="#000" stroke-width="0.4"/>
<rect x="21.0" y="21.5" width="395.4" height="328.7" fill="none" stroke="#2b2b2b" stroke-width="1.2"/>
<text x="71.3" y="17.9" font-size="10.2" text-anchor="middle">80°E</text>
<text x="71.3" y="363.5" font-size="10.2" text-anchor="middle">80°E</text>
<text x="132.1" y="17.9" font-size="10.2" text-anchor="middle">90°E</text>
<text x="132.1" y="363.5" font-size="10.2" text-anchor="middle">90°E</text>
<text x="193.0" y="17.9" font-size="10.2" text-anchor="middle">100°E</text>
<text x="193.0" y="363.5" font-size="10.2" text-anchor="middle">100°E</text>
<text x="253.8" y="17.9" font-size="10.2" text-anchor="middle">110°E</text>
<text x="253.8" y="363.5" font-size="10.2" text-anchor="middle">110°E</text>
<text x="314.7" y="17.9" font-size="10.2" text-anchor="middle">120°E</text>
<text x="314.7" y="363.5" font-size="10.2" text-anchor="middle">120°E</text>
<text x="375.5" y="17.9" font-size="10.2" text-anchor="middle">130°E</text>
<text x="375.5" y="363.5" font-size="10.2" text-anchor="middle">130°E</text>
<text transform="translate(17.9,305.3) rotate(-90)" font-size="10.2" text-anchor="middle">10°N</text>
<text transform="translate(429.8,305.3) rotate(-90)" font-size="10.2" text-anchor="middle">10°N</text>
<text transform="translate(17.9,244.3) rotate(-90)" font-size="10.2" text-anchor="middle">20°N</text>
<text transform="translate(429.8,244.3) rotate(-90)" font-size="10.2" text-anchor="middle">20°N</text>
<text transform="translate(17.9,183.4) rotate(-90)" font-size="10.2" text-anchor="middle">30°N</text>
<text transform="translate(429.8,183.4) rotate(-90)" font-size="10.2" text-anchor="middle">30°N</text>
<text transform="translate(17.9,122.4) rotate(-90)" font-size="10.2" text-anchor="middle">40°N</text>
<text transform="translate(429.8,122.4) rotate(-90)" font-size="10.2" text-anchor="middle">40°N</text>
<text transform="translate(17.9,61.4) rotate(-90)" font-size="10.2" text-anchor="middle">50°N</text>
<text transform="translate(429.8,61.4) rotate(-90)" font-size="10.2" text-anchor="middle">50°N</text>
<text x="218.7" y="387.6" font-size="19.8" text-anchor="middle" font-family="'Liberation Serif', 'DejaVu Serif', serif" fill="#111">(<tspan font-weight="bold">c</tspan>) 2012</text>
</g>
<g transform="translate(512.5,388.25)">
<path d="M21.0,305.3H416.4M21.0,244.3H416.4M21.0,183.4H416.4M21.0,122.4H416.4M21.0,61.4H416.4" stroke="#d2d2d2" stroke-width="0.65" stroke-dasharray="3.6,10.37" fill="none"/><path d="M71.3,21.5V350.2M132.1,21.5V350.2M193.0,21.5V350.2M314.7,21.5V350.2M375.5,21.5V350.2" stroke="#e4e4e4" stroke-width="0.65" stroke-dasharray="3.4,10.5" stroke-dashoffset="7.6" fill="none"/><path d="M71.3,21.5v2.6M71.3,350.2v-2.6M132.1,21.5v2.6M132.1,350.2v-2.6M193.0,21.5v2.6M193.0,350.2v-2.6M314.7,21.5v2.6M314.7,350.2v-2.6M375.5,21.5v2.6M375.5,350.2v-2.6M21.0,305.3h2.6M416.4,305.3h-2.6M21.0,244.3h2.6M416.4,244.3h-2.6M21.0,183.4h2.6M416.4,183.4h-2.6M21.0,122.4h2.6M416.4,122.4h-2.6M21.0,61.4h2.6M416.4,61.4h-2.6" stroke="#777" stroke-width="0.6" fill="none"/>
<g clip-path="url(#china)"><rect x="20" y="20" width="400" height="240" fill="url(#hatchd)"/></g>
<g transform="translate(0.1,0.45)">
<g clip-path="url(#china)">
<rect x="312.04" y="32.44" width="12.47" height="6.36" fill="#00ffff"/>
<rect x="324.21" y="32.44" width="18.56" height="6.36" fill="#38a8ff"/>
<rect x="342.47" y="32.44" width="12.47" height="6.36" fill="#3a5cff"/>
<rect x="312.04" y="38.50" width="12.47" height="6.36" fill="#00ffff"/>
<rect x="324.21" y="38.50" width="18.56" height="6.36" fill="#38a8ff"/>
<rect x="342.47" y="38.50" width="12.47" height="6.36" fill="#3a5cff"/>
<rect x="305.96" y="44.55" width="12.47" height="6.36" fill="#00ffff"/>
<rect x="318.13" y="44.55" width="6.39" height="6.36" fill="#38a8ff"/>
<rect x="330.30" y="44.55" width="12.47" height="6.36" fill="#38a8ff"/>
<rect x="348.56" y="44.55" width="12.47" height="6.36" fill="#3a5cff"/>
<rect x="305.96" y="50.61" width="18.56" height="6.36" fill="#00ffff"/>
<rect x="324.21" y="50.61" width="24.64" height="6.36" fill="#38a8ff"/>
<rect x="348.56" y="50.61" width="18.56" height="6.36" fill="#3a5cff"/>
<rect x="99.03" y="56.67" width="24.64" height="6.36" fill="#00ffff"/>
<rect x="281.61" y="56.67" width="12.47" height="6.36" fill="#0000ff"/>
<rect x="293.78" y="56.67" width="24.64" height="6.36" fill="#3a5cff"/>
<rect x="318.13" y="56.67" width="6.39" height="6.36" fill="#38a8ff"/>
<rect x="330.30" y="56.67" width="48.99" height="6.36" fill="#3a5cff"/>
<rect x="92.95" y="62.73" width="18.56" height="6.36" fill="#38a8ff"/>
<rect x="111.20" y="62.73" width="6.39" height="6.36" fill="#00ffff"/>
<rect x="281.61" y="62.73" width="6.39" height="6.36" fill="#0000ff"/>
<rect x="287.70" y="62.73" width="6.39" height="6.36" fill="#3a5cff"/>
<rect x="293.78" y="62.73" width="6.39" height="6.36" fill="#0000ff"/>
<rect x="299.87" y="62.73" width="79.42" height="6.36" fill="#3a5cff"/>
<rect x="378.99" y="62.73" width="30.73" height="6.36" fill="#00ffff"/>
<rect x="92.95" y="68.78" width="36.82" height="6.36" fill="#38a8ff"/>
<rect x="281.61" y="68.78" width="36.82" height="6.36" fill="#3a5cff"/>
<rect x="318.13" y="68.78" width="6.39" height="6.36" fill="#0000ff"/>
<rect x="324.21" y="68.78" width="12.47" height="6.36" fill="#3a5cff"/>
<rect x="336.39" y="68.78" width="24.64" height="6.36" fill="#0000ff"/>
<rect x="360.73" y="68.78" width="12.47" height="6.36" fill="#3a5cff"/>
<rect x="372.90" y="68.78" width="6.39" height="6.36" fill="#38a8ff"/>
<rect x="378.99" y="68.78" width="30.73" height="6.36" fill="#00ffff"/>
<rect x="80.77" y="74.84" width="24.64" height="6.36" fill="#8fffb8"/>
<rect x="105.12" y="74.84" width="18.56" height="6.36" fill="#00ffff"/>
<rect x="123.38" y="74.84" width="18.56" height="6.36" fill="#38a8ff"/>
<rect x="281.61" y="74.84" width="36.82" height="6.36" fill="#0000ff"/>
<rect x="318.13" y="74.84" width="24.64" height="6.36" fill="#3a5cff"/>
<rect x="342.47" y="74.84" width="12.47" height="6.36" fill="#0000ff"/>
<rect x="354.64" y="74.84" width="12.47" height="6.36" fill="#3a5cff"/>
<rect x="366.82" y="74.84" width="6.39" height="6.36" fill="#38a8ff"/>
<rect x="372.90" y="74.84" width="6.39" height="6.36" fill="#00ffff"/>
<rect x="378.99" y="74.84" width="30.73" height="6.36" fill="#8fffb8"/>
<rect x="74.69" y="80.90" width="30.73" height="6.36" fill="#d0ff63"/>
<rect x="105.12" y="80.90" width="12.47" height="6.36" fill="#8fffb8"/>
<rect x="117.29" y="80.90" width="6.39" height="6.36" fill="#00ffff"/>
<rect x="269.44" y="80.90" width="73.33" height="6.36" fill="#3a5cff"/>
<rect x="342.47" y="80.90" width="18.56" height="6.36" fill="#0000ff"/>
<rect x="360.73" y="80.90" width="6.39" height="6.36" fill="#38a8ff"/>
<rect x="366.82" y="80.90" width="6.39" height="6.36" fill="#00ffff"/>
<rect x="372.90" y="80.90" width="6.39" height="6.36" fill="#8fffb8"/>
<rect x="378.99" y="80.90" width="18.56" height="6.36" fill="#d0ff63"/>
<rect x="62.52" y="86.95" width="24.64" height="6.36" fill="#3a5cff"/>
<rect x="86.86" y="86.95" width="30.73" height="6.36" fill="#d0ff63"/>
<rect x="117.29" y="86.95" width="18.56" height="6.36" fill="#8fffb8"/>
<rect x="135.55" y="86.95" width="6.39" height="6.36" fill="#00ffff"/>
<rect x="141.63" y="86.95" width="6.39" height="6.36" fill="#38a8ff"/>
<rect x="153.81" y="86.95" width="6.39" height="6.36" fill="#38a8ff"/>
<rect x="257.27" y="86.95" width="6.39" height="6.36" fill="#3a5cff"/>
<rect x="269.44" y="86.95" width="6.39" height="6.36" fill="#0000ff"/>
<rect x="275.53" y="86.95" width="24.64" height="6.36" fill="#3a5cff"/>
<rect x="299.87" y="86.95" width="6.39" height="6.36" fill="#38a8ff"/>
<rect x="305.96" y="86.95" width="36.82" height="6.36" fill="#3a5cff"/>
<rect x="342.47" y="86.95" width="6.39" height="6.36" fill="#0000ff"/>
<rect x="348.56" y="86.95" width="12.47" height="6.36" fill="#3a5cff"/>
<rect x="360.73" y="86.95" width="6.39" height="6.36" fill="#38a8ff"/>
<rect x="366.82" y="86.95" width="6.39" height="6.36" fill="#00ffff"/>
<rect x="372.90" y="86.95" width="6.39" height="6.36" fill="#8fffb8"/>
<rect x="378.99" y="86.95" width="6.39" height="6.36" fill="#d0ff63"/>
<rect x="68.60" y="93.01" width="24.64" height="6.36" fill="#3a5cff"/>
<rect x="92.95" y="93.01" width="18.56" height="6.36" fill="#38a8ff"/>
<rect x="111.20" y="93.01" width="18.56" height="6.36" fill="#ffff00"/>
<rect x="129.46" y="93.01" width="12.47" height="6.36" fill="#d0ff63"/>
<rect x="141.63" y="93.01" width="24.64" height="6.36" fill="#00ffff"/>
<rect x="251.18" y="93.01" width="30.73" height="6.36" fill="#3a5cff"/>
<rect x="281.61" y="93.01" width="12.47" height="6.36" fill="#38a8ff"/>
<rect x="293.78" y="93.01" width="12.47" height="6.36" fill="#00ffff"/>
<rect x="305.96" y="93.01" width="6.39" height="6.36" fill="#38a8ff"/>
<rect x="312.04" y="93.01" width="36.82" height="6.36" fill="#3a5cff"/>
<rect x="348.56" y="93.01" width="12.47" height="6.36" fill="#38a8ff"/>
<rect x="360.73" y="93.01" width="6.39" height="6.36" fill="#00ffff"/>
<rect x="366.82" y="93.01" width="6.39" height="6.36" fill="#8fffb8"/>
<rect x="372.90" y="93.01" width="12.47" height="6.36" fill="#d0ff63"/>
<rect x="68.60" y="99.07" width="30.73" height="6.36" fill="#38a8ff"/>
<rect x="99.03" y="99.07" width="6.39" height="6.36" fill="#00ffff"/>
<rect x="105.12" y="99.07" width="12.47" height="6.36" fill="#8fffb8"/>
<rect x="117.29" y="99.07" width="6.39" height="6.36" fill="#d0ff63"/>
<rect x="123.38" y="99.07" width="12.47" height="6.36" fill="#8fffb8"/>
<rect x="135.55" y="99.07" width="6.39" height="6.36" fill="#00ffff"/>
<rect x="141.63" y="99.07" width="6.39" height="6.36" fill="#38a8ff"/>
<rect x="147.72" y="99.07" width="24.64" height="6.36" fill="#3a5cff"/>
<rect x="178.15" y="99.07" width="12.47" height="6.36" fill="#00ffff"/>
<rect x="190.32" y="99.07" width="12.47" height="6.36" fill="#38a8ff"/>
<rect x="226.84" y="99.07" width="12.47" height="6.36" fill="#38a8ff"/>
<rect x="245.10" y="99.07" width="12.47" height="6.36" fill="#38a8ff"/>
<rect x="263.35" y="99.07" width="30.73" height="6.36" fill="#00ffff"/>
<rect x="293.78" y="99.07" width="12.47" height="6.36" fill="#8fffb8"/>
<rect x="305.96" y="99.07" width="48.99" height="6.36" fill="#38a8ff"/>
<rect x="354.64" y="99.07" width="6.39" height="6.36" fill="#00ffff"/>
<rect x="360.73" y="99.07" width="6.39" height="6.36" fill="#8fffb8"/>
<rect x="366.82" y="99.07" width="12.47" height="6.36" fill="#d0ff63"/>
<rect x="56.43" y="105.12" width="12.47" height="6.36" fill="#38a8ff"/>
<rect x="68.60" y="105.12" width="24.64" height="6.36" fill="#00ffff"/>
<rect x="92.95" y="105.12" width="18.56" height="6.36" fill="#8fffb8"/>
<rect x="111.20" y="105.12" width="12.47" height="6.36" fill="#d0ff63"/>
<rect x="123.38" y="105.12" width="6.39" height="6.36" fill="#ffff00"/>
<rect x="129.46" y="105.12" width="6.39" height="6.36" fill="#d0ff63"/>
<rect x="135.55" y="105.12" width="6.39" height="6.36" fill="#8fffb8"/>
<rect x="147.72" y="105.12" width="30.73" height="6.36" fill="#38a8ff"/>
<rect x="184.24" y="105.12" width="12.47" height="6.36" fill="#3a5cff"/>
<rect x="196.41" y="105.12" width="6.39" height="6.36" fill="#0000ff"/>
<rect x="226.84" y="105.12" width="24.64" height="6.36" fill="#00ffff"/>
<rect x="251.18" y="105.12" width="42.90" height="6.36" fill="#8fffb8"/>
<rect x="293.78" y="105.12" width="18.56" height="6.36" fill="#d0ff63"/>
<rect x="312.04" y="105.12" width="6.39" height="6.36" fill="#8fffb8"/>
<rect x="318.13" y="105.12" width="18.56" height="6.36" fill="#00ffff"/>
<rect x="336.39" y="105.12" width="18.56" height="6.36" fill="#38a8ff"/>
<rect x="354.64" y="105.12" width="12.47" height="6.36" fill="#00ffff"/>
<rect x="56.43" y="111.18" width="12.47" height="6.36" fill="#38a8ff"/>
<rect x="68.60" y="111.18" width="6.39" height="6.36" fill="#00ffff"/>
<rect x="74.69" y="111.18" width="18.56" height="6.36" fill="#8fffb8"/>
<rect x="92.95" y="111.18" width="6.39" height="6.36" fill="#00ffff"/>
<rect x="105.12" y="111.18" width="12.47" height="6.36" fill="#8fffb8"/>
<rect x="135.55" y="111.18" width="6.39" height="6.36" fill="#00ffff"/>
<rect x="153.81" y="111.18" width="12.47" height="6.36" fill="#38a8ff"/>
<rect x="165.98" y="111.18" width="6.39" height="6.36" fill="#3a5cff"/>
<rect x="172.06" y="111.18" width="24.64" height="6.36" fill="#38a8ff"/>
<rect x="208.58" y="111.18" width="12.47" height="6.36" fill="#0000ff"/>
<rect x="226.84" y="111.18" width="12.47" height="6.36" fill="#8fffb8"/>
<rect x="239.01" y="111.18" width="6.39" height="6.36" fill="#00ffff"/>
<rect x="245.10" y="111.18" width="6.39" height="6.36" fill="#8fffb8"/>
<rect x="251.18" y="111.18" width="24.64" height="6.36" fill="#d0ff63"/>
<rect x="275.53" y="111.18" width="24.64" height="6.36" fill="#ffff00"/>
<rect x="299.87" y="111.18" width="6.39" height="6.36" fill="#ffb700"/>
<rect x="305.96" y="111.18" width="6.39" height="6.36" fill="#ffff00"/>
<rect x="312.04" y="111.18" width="12.47" height="6.36" fill="#d0ff63"/>
<rect x="324.21" y="111.18" width="6.39" height="6.36" fill="#00ffff"/>
<rect x="330.30" y="111.18" width="24.64" height="6.36" fill="#38a8ff"/>
<rect x="26.00" y="117.24" width="6.39" height="6.36" fill="#0000ff"/>
<rect x="38.17" y="117.24" width="6.39" height="6.36" fill="#0000ff"/>
<rect x="44.26" y="117.24" width="6.39" height="6.36" fill="#3a5cff"/>
<rect x="50.34" y="117.24" width="6.39" height="6.36" fill="#38a8ff"/>
<rect x="56.43" y="117.24" width="12.47" height="6.36" fill="#00ffff"/>
<rect x="68.60" y="117.24" width="6.39" height="6.36" fill="#8fffb8"/>
<rect x="80.77" y="117.24" width="6.39" height="6.36" fill="#8fffb8"/>
<rect x="86.86" y="117.24" width="6.39" height="6.36" fill="#00ffff"/>
<rect x="117.29" y="117.24" width="6.39" height="6.36" fill="#3a5cff"/>
<rect x="147.72" y="117.24" width="12.47" height="6.36" fill="#3a5cff"/>
<rect x="165.98" y="117.24" width="42.90" height="6.36" fill="#3a5cff"/>
<rect x="208.58" y="117.24" width="6.39" height="6.36" fill="#0000ff"/>
<rect x="220.75" y="117.24" width="12.47" height="6.36" fill="#3a5cff"/>
<rect x="232.92" y="117.24" width="18.56" height="6.36" fill="#0000ff"/>
<rect x="251.18" y="117.24" width="6.39" height="6.36" fill="#8fffb8"/>
<rect x="257.27" y="117.24" width="12.47" height="6.36" fill="#d0ff63"/>
<rect x="269.44" y="117.24" width="6.39" height="6.36" fill="#ffff00"/>
<rect x="275.53" y="117.24" width="12.47" height="6.36" fill="#ffb700"/>
<rect x="287.70" y="117.24" width="18.56" height="6.36" fill="#ff6f00"/>
<rect x="305.96" y="117.24" width="6.39" height="6.36" fill="#ffb700"/>
<rect x="312.04" y="117.24" width="12.47" height="6.36" fill="#d0ff63"/>
<rect x="324.21" y="117.24" width="6.39" height="6.36" fill="#00ffff"/>
<rect x="330.30" y="117.24" width="6.39" height="6.36" fill="#38a8ff"/>
<rect x="26.00" y="123.30" width="24.64" height="6.36" fill="#3a5cff"/>
<rect x="50.34" y="123.30" width="6.39" height="6.36" fill="#38a8ff"/>
<rect x="68.60" y="123.30" width="6.39" height="6.36" fill="#8fffb8"/>
<rect x="86.86" y="123.30" width="6.39" height="6.36" fill="#00ffff"/>
<rect x="92.95" y="123.30" width="6.39" height="6.36" fill="#38a8ff"/>
<rect x="99.03" y="123.30" width="6.39" height="6.36" fill="#3a5cff"/>
<rect x="111.20" y="123.30" width="12.47" height="6.36" fill="#0000ff"/>
<rect x="129.46" y="123.30" width="6.39" height="6.36" fill="#0000ff"/>
<rect x="135.55" y="123.30" width="24.64" height="6.36" fill="#3a5cff"/>
<rect x="178.15" y="123.30" width="6.39" height="6.36" fill="#0000ff"/>
<rect x="184.24" y="123.30" width="30.73" height="6.36" fill="#3a5cff"/>
<rect x="220.75" y="123.30" width="12.47" height="6.36" fill="#38a8ff"/>
<rect x="232.92" y="123.30" width="6.39" height="6.36" fill="#3a5cff"/>
<rect x="239.01" y="123.30" width="6.39" height="6.36" fill="#0000ff"/>
<rect x="245.10" y="123.30" width="12.47" height="6.36" fill="#3a5cff"/>
<rect x="257.27" y="123.30" width="6.39" height="6.36" fill="#38a8ff"/>
<rect x="263.35" y="123.30" width="6.39" height="6.36" fill="#00ffff"/>
<rect x="269.44" y="123.30" width="12.47" height="6.36" fill="#8fffb8"/>
<rect x="281.61" y="123.30" width="6.39" height="6.36" fill="#d0ff63"/>
<rect x="287.70" y="123.30" width="12.47" height="6.36" fill="#ff6f00"/>
<rect x="299.87" y="123.30" width="12.47" height="6.36" fill="#ffb700"/>
<rect x="26.00" y="129.35" width="24.64" height="6.36" fill="#3a5cff"/>
<rect x="50.34" y="129.35" width="18.56" height="6.36" fill="#38a8ff"/>
<rect x="68.60" y="129.35" width="12.47" height="6.36" fill="#00ffff"/>
<rect x="80.77" y="129.35" width="6.39" height="6.36" fill="#38a8ff"/>
<rect x="92.95" y="129.35" width="6.39" height="6.36" fill="#0000ff"/>
<rect x="117.29" y="129.35" width="6.39" height="6.36" fill="#0000ff"/>
<rect x="135.55" y="129.35" width="18.56" height="6.36" fill="#0000ff"/>
<rect x="153.81" y="129.35" width="12.47" height="6.36" fill="#3a5cff"/>
<rect x="165.98" y="129.35" width="30.73" height="6.36" fill="#0000ff"/>
<rect x="196.41" y="129.35" width="6.39" height="6.36" fill="#3a5cff"/>
<rect x="202.49" y="129.35" width="18.56" height="6.36" fill="#38a8ff"/>
<rect x="220.75" y="129.35" width="6.39" height="6.36" fill="#00ffff"/>
<rect x="226.84" y="129.35" width="6.39" height="6.36" fill="#38a8ff"/>
<rect x="232.92" y="129.35" width="12.47" height="6.36" fill="#3a5cff"/>
<rect x="245.10" y="129.35" width="6.39" height="6.36" fill="#38a8ff"/>
<rect x="251.18" y="129.35" width="12.47" height="6.36" fill="#00ffff"/>
<rect x="263.35" y="129.35" width="12.47" height="6.36" fill="#8fffb8"/>
<rect x="275.53" y="129.35" width="36.82" height="6.36" fill="#d0ff63"/>
<rect x="312.04" y="129.35" width="6.39" height="6.36" fill="#8fffb8"/>
<rect x="318.13" y="129.35" width="6.39" height="6.36" fill="#00ffff"/>
<rect x="324.21" y="129.35" width="6.39" height="6.36" fill="#3a5cff"/>
<rect x="26.00" y="135.41" width="18.56" height="6.36" fill="#3a5cff"/>
<rect x="56.43" y="135.41" width="24.64" height="6.36" fill="#38a8ff"/>
<rect x="86.86" y="135.41" width="6.39" height="6.36" fill="#0000ff"/>
<rect x="135.55" y="135.41" width="61.16" height="6.36" fill="#0000ff"/>
<rect x="196.41" y="135.41" width="12.47" height="6.36" fill="#3a5cff"/>
<rect x="208.58" y="135.41" width="36.82" height="6.36" fill="#38a8ff"/>
<rect x="245.10" y="135.41" width="6.39" height="6.36" fill="#00ffff"/>
<rect x="251.18" y="135.41" width="6.39" height="6.36" fill="#8fffb8"/>
<rect x="257.27" y="135.41" width="18.56" height="6.36" fill="#d0ff63"/>
<rect x="275.53" y="135.41" width="12.47" height="6.36" fill="#ffff00"/>
<rect x="287.70" y="135.41" width="18.56" height="6.36" fill="#d0ff63"/>
<rect x="305.96" y="135.41" width="18.56" height="6.36" fill="#8fffb8"/>
<rect x="68.60" y="141.47" width="18.56" height="6.36" fill="#0000ff"/>
<rect x="99.03" y="141.47" width="6.39" height="6.36" fill="#0000ff"/>
<rect x="147.72" y="141.47" width="12.47" height="6.36" fill="#0000ff"/>
<rect x="172.06" y="141.47" width="24.64" height="6.36" fill="#0000ff"/>
<rect x="196.41" y="141.47" width="24.64" height="6.36" fill="#3a5cff"/>
<rect x="220.75" y="141.47" width="12.47" height="6.36" fill="#38a8ff"/>
<rect x="232.92" y="141.47" width="12.47" height="6.36" fill="#00ffff"/>
<rect x="245.10" y="141.47" width="6.39" height="6.36" fill="#8fffb8"/>
<rect x="251.18" y="141.47" width="12.47" height="6.36" fill="#d0ff63"/>
<rect x="263.35" y="141.47" width="18.56" height="6.36" fill="#ffff00"/>
<rect x="281.61" y="141.47" width="24.64" height="6.36" fill="#d0ff63"/>
<rect x="305.96" y="141.47" width="12.47" height="6.36" fill="#8fffb8"/>
<rect x="80.77" y="147.52" width="6.39" height="6.36" fill="#0000ff"/>
<rect x="123.38" y="147.52" width="6.39" height="6.36" fill="#0000ff"/>
<rect x="141.63" y="147.52" width="6.39" height="6.36" fill="#0000ff"/>
<rect x="159.89" y="147.52" width="6.39" height="6.36" fill="#0000ff"/>
<rect x="178.15" y="147.52" width="6.39" height="6.36" fill="#0000ff"/>
<rect x="190.32" y="147.52" width="18.56" height="6.36" fill="#0000ff"/>
<rect x="208.58" y="147.52" width="18.56" height="6.36" fill="#3a5cff"/>
<rect x="226.84" y="147.52" width="18.56" height="6.36" fill="#38a8ff"/>
<rect x="245.10" y="147.52" width="6.39" height="6.36" fill="#8fffb8"/>
<rect x="251.18" y="147.52" width="6.39" height="6.36" fill="#d0ff63"/>
<rect x="257.27" y="147.52" width="24.64" height="6.36" fill="#ffff00"/>
<rect x="281.61" y="147.52" width="30.73" height="6.36" fill="#d0ff63"/>
<rect x="312.04" y="147.52" width="6.39" height="6.36" fill="#8fffb8"/>
<rect x="62.52" y="153.58" width="6.39" height="6.36" fill="#0000ff"/>
<rect x="141.63" y="153.58" width="6.39" height="6.36" fill="#0000ff"/>
<rect x="159.89" y="153.58" width="61.16" height="6.36" fill="#0000ff"/>
<rect x="220.75" y="153.58" width="6.39" height="6.36" fill="#3a5cff"/>
<rect x="226.84" y="153.58" width="18.56" height="6.36" fill="#38a8ff"/>
<rect x="245.10" y="153.58" width="6.39" height="6.36" fill="#00ffff"/>
<rect x="251.18" y="153.58" width="6.39" height="6.36" fill="#8fffb8"/>
<rect x="257.27" y="153.58" width="6.39" height="6.36" fill="#d0ff63"/>
<rect x="263.35" y="153.58" width="6.39" height="6.36" fill="#ffff00"/>
<rect x="269.44" y="153.58" width="6.39" height="6.36" fill="#ffb700"/>
<rect x="275.53" y="153.58" width="18.56" height="6.36" fill="#ffff00"/>
<rect x="293.78" y="153.58" width="12.47" height="6.36" fill="#d0ff63"/>
<rect x="305.96" y="153.58" width="6.39" height="6.36" fill="#8fffb8"/>
<rect x="312.04" y="153.58" width="6.39" height="6.36" fill="#00ffff"/>
<rect x="68.60" y="159.64" width="6.39" height="6.36" fill="#0000ff"/>
<rect x="135.55" y="159.64" width="12.47" height="6.36" fill="#0000ff"/>
<rect x="159.89" y="159.64" width="24.64" height="6.36" fill="#0000ff"/>
<rect x="190.32" y="159.64" width="30.73" height="6.36" fill="#0000ff"/>
<rect x="220.75" y="159.64" width="6.39" height="6.36" fill="#3a5cff"/>
<rect x="226.84" y="159.64" width="12.47" height="6.36" fill="#38a8ff"/>
<rect x="239.01" y="159.64" width="12.47" height="6.36" fill="#00ffff"/>
<rect x="251.18" y="159.64" width="6.39" height="6.36" fill="#8fffb8"/>
<rect x="257.27" y="159.64" width="6.39" height="6.36" fill="#d0ff63"/>
<rect x="263.35" y="159.64" width="36.82" height="6.36" fill="#ffff00"/>
<rect x="299.87" y="159.64" width="6.39" height="6.36" fill="#d0ff63"/>
<rect x="305.96" y="159.64" width="18.56" height="6.36" fill="#8fffb8"/>
<rect x="56.43" y="165.69" width="6.39" height="6.36" fill="#0000ff"/>
<rect x="111.20" y="165.69" width="6.39" height="6.36" fill="#0000ff"/>
<rect x="123.38" y="165.69" width="30.73" height="6.36" fill="#0000ff"/>
<rect x="159.89" y="165.69" width="18.56" height="6.36" fill="#38a8ff"/>
<rect x="178.15" y="165.69" width="12.47" height="6.36" fill="#3a5cff"/>
<rect x="190.32" y="165.69" width="30.73" height="6.36" fill="#0000ff"/>
<rect x="220.75" y="165.69" width="24.64" height="6.36" fill="#3a5cff"/>
<rect x="245.10" y="165.69" width="6.39" height="6.36" fill="#38a8ff"/>
<rect x="251.18" y="165.69" width="6.39" height="6.36" fill="#00ffff"/>
<rect x="257.27" y="165.69" width="6.39" height="6.36" fill="#8fffb8"/>
<rect x="263.35" y="165.69" width="6.39" height="6.36" fill="#d0ff63"/>
<rect x="269.44" y="165.69" width="6.39" height="6.36" fill="#ffff00"/>
<rect x="275.53" y="165.69" width="12.47" height="6.36" fill="#ffb700"/>
<rect x="287.70" y="165.69" width="18.56" height="6.36" fill="#ffff00"/>
<rect x="305.96" y="165.69" width="6.39" height="6.36" fill="#d0ff63"/>
<rect x="312.04" y="165.69" width="12.47" height="6.36" fill="#8fffb8"/>
<rect x="62.52" y="171.75" width="18.56" height="6.36" fill="#0000ff"/>
<rect x="117.29" y="171.75" width="6.39" height="6.36" fill="#0000ff"/>
<rect x="129.46" y="171.75" width="12.47" height="6.36" fill="#0000ff"/>
<rect x="147.72" y="171.75" width="6.39" height="6.36" fill="#3a5cff"/>
<rect x="153.81" y="171.75" width="6.39" height="6.36" fill="#0000ff"/>
<rect x="159.89" y="171.75" width="18.56" height="6.36" fill="#3a5cff"/>
<rect x="178.15" y="171.75" width="36.82" height="6.36" fill="#0000ff"/>
<rect x="214.67" y="171.75" width="36.82" height="6.36" fill="#3a5cff"/>
<rect x="251.18" y="171.75" width="6.39" height="6.36" fill="#38a8ff"/>
<rect x="257.27" y="171.75" width="6.39" height="6.36" fill="#00ffff"/>
<rect x="263.35" y="171.75" width="6.39" height="6.36" fill="#8fffb8"/>
<rect x="269.44" y="171.75" width="6.39" height="6.36" fill="#ffff00"/>
<rect x="275.53" y="171.75" width="6.39" height="6.36" fill="#ffb700"/>
<rect x="281.61" y="171.75" width="24.64" height="6.36" fill="#ffff00"/>
<rect x="305.96" y="171.75" width="12.47" height="6.36" fill="#d0ff63"/>
<rect x="111.20" y="177.81" width="18.56" height="6.36" fill="#38a8ff"/>
<rect x="129.46" y="177.81" width="18.56" height="6.36" fill="#0000ff"/>
<rect x="147.72" y="177.81" width="6.39" height="6.36" fill="#3a5cff"/>
<rect x="153.81" y="177.81" width="6.39" height="6.36" fill="#0000ff"/>
<rect x="159.89" y="177.81" width="6.39" height="6.36" fill="#3a5cff"/>
<rect x="172.06" y="177.81" width="36.82" height="6.36" fill="#0000ff"/>
<rect x="208.58" y="177.81" width="18.56" height="6.36" fill="#3a5cff"/>
<rect x="226.84" y="177.81" width="18.56" height="6.36" fill="#0000ff"/>
<rect x="245.10" y="177.81" width="12.47" height="6.36" fill="#3a5cff"/>
<rect x="257.27" y="177.81" width="6.39" height="6.36" fill="#00ffff"/>
<rect x="263.35" y="177.81" width="6.39" height="6.36" fill="#8fffb8"/>
<rect x="269.44" y="177.81" width="30.73" height="6.36" fill="#ffff00"/>
<rect x="299.87" y="177.81" width="24.64" height="6.36" fill="#d0ff63"/>
<rect x="92.95" y="183.87" width="12.47" height="6.36" fill="#3a5cff"/>
<rect x="111.20" y="183.87" width="6.39" height="6.36" fill="#38a8ff"/>
<rect x="117.29" y="183.87" width="6.39" height="6.36" fill="#00ffff"/>
<rect x="123.38" y="183.87" width="12.47" height="6.36" fill="#38a8ff"/>
<rect x="135.55" y="183.87" width="12.47" height="6.36" fill="#00ffff"/>
<rect x="153.81" y="183.87" width="6.39" height="6.36" fill="#00ffff"/>
<rect x="159.89" y="183.87" width="12.47" height="6.36" fill="#38a8ff"/>
<rect x="172.06" y="183.87" width="6.39" height="6.36" fill="#3a5cff"/>
<rect x="178.15" y="183.87" width="6.39" height="6.36" fill="#38a8ff"/>
<rect x="184.24" y="183.87" width="12.47" height="6.36" fill="#00ffff"/>
<rect x="196.41" y="183.87" width="6.39" height="6.36" fill="#0000ff"/>
<rect x="202.49" y="183.87" width="18.56" height="6.36" fill="#3a5cff"/>
<rect x="220.75" y="183.87" width="30.73" height="6.36" fill="#0000ff"/>
<rect x="251.18" y="183.87" width="6.39" height="6.36" fill="#3a5cff"/>
<rect x="257.27" y="183.87" width="6.39" height="6.36" fill="#38a8ff"/>
<rect x="263.35" y="183.87" width="6.39" height="6.36" fill="#8fffb8"/>
<rect x="269.44" y="183.87" width="55.07" height="6.36" fill="#d0ff63"/>
<rect x="117.29" y="189.92" width="6.39" height="6.36" fill="#00ffff"/>
<rect x="123.38" y="189.92" width="12.47" height="6.36" fill="#38a8ff"/>
<rect x="135.55" y="189.92" width="12.47" height="6.36" fill="#00ffff"/>
<rect x="147.72" y="189.92" width="42.90" height="6.36" fill="#8fffb8"/>
<rect x="190.32" y="189.92" width="6.39" height="6.36" fill="#d0ff63"/>
<rect x="196.41" y="189.92" width="12.47" height="6.36" fill="#ffff00"/>
<rect x="208.58" y="189.92" width="6.39" height="6.36" fill="#3a5cff"/>
<rect x="214.67" y="189.92" width="36.82" height="6.36" fill="#0000ff"/>
<rect x="251.18" y="189.92" width="6.39" height="6.36" fill="#3a5cff"/>
<rect x="257.27" y="189.92" width="6.39" height="6.36" fill="#38a8ff"/>
<rect x="263.35" y="189.92" width="12.47" height="6.36" fill="#8fffb8"/>
<rect x="275.53" y="189.92" width="6.39" height="6.36" fill="#d0ff63"/>
<rect x="281.61" y="189.92" width="6.39" height="6.36" fill="#8fffb8"/>
<rect x="287.70" y="189.92" width="18.56" height="6.36" fill="#d0ff63"/>
<rect x="305.96" y="189.92" width="18.56" height="6.36" fill="#8fffb8"/>
<rect x="178.15" y="195.98" width="6.39" height="6.36" fill="#38a8ff"/>
<rect x="184.24" y="195.98" width="6.39" height="6.36" fill="#8fffb8"/>
<rect x="190.32" y="195.98" width="12.47" height="6.36" fill="#d0ff63"/>
<rect x="202.49" y="195.98" width="6.39" height="6.36" fill="#ffff00"/>
<rect x="208.58" y="195.98" width="6.39" height="6.36" fill="#3a5cff"/>
<rect x="214.67" y="195.98" width="42.90" height="6.36" fill="#0000ff"/>
<rect x="257.27" y="195.98" width="6.39" height="6.36" fill="#3a5cff"/>
<rect x="263.35" y="195.98" width="6.39" height="6.36" fill="#38a8ff"/>
<rect x="269.44" y="195.98" width="6.39" height="6.36" fill="#00ffff"/>
<rect x="275.53" y="195.98" width="18.56" height="6.36" fill="#8fffb8"/>
<rect x="293.78" y="195.98" width="6.39" height="6.36" fill="#d0ff63"/>
<rect x="299.87" y="195.98" width="6.39" height="6.36" fill="#8fffb8"/>
<rect x="305.96" y="195.98" width="6.39" height="6.36" fill="#00ffff"/>
<rect x="312.04" y="195.98" width="6.39" height="6.36" fill="#38a8ff"/>
<rect x="172.06" y="202.04" width="12.47" height="6.36" fill="#38a8ff"/>
<rect x="184.24" y="202.04" width="6.39" height="6.36" fill="#00ffff"/>
<rect x="190.32" y="202.04" width="6.39" height="6.36" fill="#8fffb8"/>
<rect x="196.41" y="202.04" width="12.47" height="6.36" fill="#d0ff63"/>
<rect x="208.58" y="202.04" width="6.39" height="6.36" fill="#8fffb8"/>
<rect x="214.67" y="202.04" width="36.82" height="6.36" fill="#0000ff"/>
<rect x="251.18" y="202.04" width="12.47" height="6.36" fill="#3a5cff"/>
<rect x="263.35" y="202.04" width="12.47" height="6.36" fill="#38a8ff"/>
<rect x="275.53" y="202.04" width="12.47" height="6.36" fill="#00ffff"/>
<rect x="287.70" y="202.04" width="18.56" height="6.36" fill="#8fffb8"/>
<rect x="305.96" y="202.04" width="18.56" height="6.36" fill="#38a8ff"/>
<rect x="172.06" y="208.09" width="18.56" height="6.36" fill="#38a8ff"/>
<rect x="190.32" y="208.09" width="12.47" height="6.36" fill="#8fffb8"/>
<rect x="202.49" y="208.09" width="6.39" height="6.36" fill="#00ffff"/>
<rect x="208.58" y="208.09" width="12.47" height="6.36" fill="#38a8ff"/>
<rect x="220.75" y="208.09" width="18.56" height="6.36" fill="#0000ff"/>
<rect x="239.01" y="208.09" width="24.64" height="6.36" fill="#3a5cff"/>
<rect x="263.35" y="208.09" width="24.64" height="6.36" fill="#38a8ff"/>
<rect x="287.70" y="208.09" width="6.39" height="6.36" fill="#00ffff"/>
<rect x="293.78" y="208.09" width="12.47" height="6.36" fill="#8fffb8"/>
<rect x="312.04" y="208.09" width="12.47" height="6.36" fill="#38a8ff"/>
<rect x="178.15" y="214.15" width="24.64" height="6.36" fill="#00ffff"/>
<rect x="202.49" y="214.15" width="12.47" height="6.36" fill="#38a8ff"/>
<rect x="214.67" y="214.15" width="6.39" height="6.36" fill="#3a5cff"/>
<rect x="220.75" y="214.15" width="18.56" height="6.36" fill="#0000ff"/>
<rect x="239.01" y="214.15" width="12.47" height="6.36" fill="#3a5cff"/>
<rect x="251.18" y="214.15" width="36.82" height="6.36" fill="#38a8ff"/>
<rect x="287.70" y="214.15" width="6.39" height="6.36" fill="#00ffff"/>
<rect x="293.78" y="214.15" width="6.39" height="6.36" fill="#8fffb8"/>
<rect x="312.04" y="214.15" width="12.47" height="6.36" fill="#ffb700"/>
<rect x="184.24" y="220.21" width="12.47" height="6.36" fill="#8fffb8"/>
<rect x="196.41" y="220.21" width="6.39" height="6.36" fill="#00ffff"/>
<rect x="202.49" y="220.21" width="18.56" height="6.36" fill="#38a8ff"/>
<rect x="220.75" y="220.21" width="18.56" height="6.36" fill="#0000ff"/>
<rect x="239.01" y="220.21" width="12.47" height="6.36" fill="#3a5cff"/>
<rect x="251.18" y="220.21" width="12.47" height="6.36" fill="#38a8ff"/>
<rect x="263.35" y="220.21" width="30.73" height="6.36" fill="#00ffff"/>
<rect x="312.04" y="220.21" width="12.47" height="6.36" fill="#ff6f00"/>
<rect x="190.32" y="226.26" width="6.39" height="6.36" fill="#8fffb8"/>
<rect x="196.41" y="226.26" width="12.47" height="6.36" fill="#00ffff"/>
<rect x="232.92" y="226.26" width="12.47" height="6.36" fill="#0000ff"/>
<rect x="245.10" y="226.26" width="6.39" height="6.36" fill="#3a5cff"/>
<rect x="251.18" y="226.26" width="6.39" height="6.36" fill="#38a8ff"/>
<rect x="257.27" y="226.26" width="18.56" height="6.36" fill="#00ffff"/>
<rect x="312.04" y="226.26" width="12.47" height="6.36" fill="#ff6f00"/>
<rect x="245.10" y="232.32" width="6.39" height="6.36" fill="#0000ff"/>
<rect x="251.18" y="232.32" width="6.39" height="6.36" fill="#ffff00"/>
<rect x="239.01" y="238.38" width="12.47" height="6.36" fill="#8fffb8"/>
<rect x="251.18" y="238.38" width="6.39" height="6.36" fill="#d0ff63"/>
<rect x="239.01" y="244.44" width="12.47" height="6.36" fill="#00ffff"/>
<rect x="251.18" y="244.44" width="6.39" height="6.36" fill="#d0ff63"/>
<path d="M26.0,117.2v24.2M32.1,117.2v24.2M38.2,117.2v24.2M44.3,117.2v24.2M50.3,117.2v18.2M56.4,105.1v36.3M56.4,165.7v6.1M62.5,87.0v6.1M62.5,105.1v18.2M62.5,129.4v12.1M62.5,153.6v6.1M62.5,165.7v12.1M68.6,87.0v60.6M68.6,153.6v12.1M68.6,171.8v6.1M74.7,80.9v66.6M74.7,159.6v6.1M74.7,171.8v6.1M80.8,74.8v48.5M80.8,129.4v24.2M80.8,171.8v6.1M86.9,74.8v78.7M92.9,62.7v78.7M92.9,183.9v6.1M99.0,56.7v60.6M99.0,123.3v12.1M99.0,141.5v6.1M99.0,183.9v6.1M105.1,56.7v60.6M105.1,123.3v6.1M105.1,141.5v6.1M105.1,183.9v6.1M111.2,56.7v60.6M111.2,123.3v6.1M111.2,165.7v6.1M111.2,177.8v12.1M117.3,56.7v78.7M117.3,165.7v30.3M123.4,56.7v6.1M123.4,68.8v42.4M123.4,117.2v18.2M123.4,147.5v6.1M123.4,165.7v30.3M129.5,68.8v12.1M129.5,87.0v24.2M129.5,123.3v6.1M129.5,147.5v6.1M129.5,165.7v30.3M135.5,74.8v6.1M135.5,87.0v30.3M135.5,123.3v18.2M135.5,159.6v36.3M141.6,74.8v6.1M141.6,87.0v30.3M141.6,123.3v18.2M141.6,147.5v48.5M147.7,87.0v24.2M147.7,117.2v78.7M153.8,87.0v60.6M153.8,165.7v30.3M159.9,87.0v109.0M166.0,93.0v30.3M166.0,129.4v12.1M166.0,147.5v48.5M172.1,99.1v24.2M172.1,129.4v18.2M172.1,153.6v42.4M172.1,202.0v12.1M178.2,99.1v121.1M184.2,99.1v127.2M190.3,99.1v133.3M196.4,99.1v133.3M202.5,99.1v12.1M202.5,117.2v115.1M208.6,111.2v121.1M214.7,111.2v115.1M220.8,111.2v115.1M226.8,99.1v127.2M232.9,99.1v133.3M239.0,99.1v133.3M239.0,238.4v12.1M245.1,99.1v151.4M251.2,93.0v157.5M257.3,87.0v163.5M263.4,87.0v145.4M269.4,80.9v151.4M275.5,80.9v151.4M281.6,56.7v169.6M287.7,56.7v169.6M293.8,56.7v169.6M299.9,56.7v163.5M306.0,44.6v169.6M312.0,32.4v199.9M318.1,32.4v90.9M318.1,129.4v103.0M324.2,32.4v90.9M324.2,129.4v12.1M324.2,159.6v12.1M324.2,177.8v18.2M324.2,202.0v30.3M330.3,32.4v90.9M330.3,129.4v6.1M336.4,32.4v90.9M342.5,32.4v84.8M348.6,32.4v84.8M354.6,32.4v84.8M360.7,44.6v66.6M366.8,50.6v60.6M372.9,56.7v48.5M379.0,56.7v48.5M385.1,62.7v36.3M391.2,62.7v24.2M397.2,62.7v24.2M403.3,62.7v18.2M409.4,62.7v18.2M312.0,32.4h42.6M312.0,38.5h42.6M306.0,44.6h54.8M306.0,50.6h60.9M99.0,56.7h24.3M281.6,56.7h97.4M92.9,62.7h30.4M281.6,62.7h127.8M92.9,68.8h36.5M281.6,68.8h127.8M80.8,74.8h60.9M281.6,74.8h127.8M74.7,80.9h66.9M269.4,80.9h140.0M62.5,87.0h85.2M153.8,87.0h6.1M257.3,87.0h6.1M269.4,87.0h127.8M62.5,93.0h103.5M251.2,93.0h133.9M68.6,99.1h103.5M178.2,99.1h24.3M226.8,99.1h12.2M245.1,99.1h140.0M56.4,105.1h146.1M226.8,105.1h152.2M56.4,111.2h85.2M147.7,111.2h54.8M208.6,111.2h12.2M226.8,111.2h140.0M26.0,117.2h6.1M38.2,117.2h60.9M105.1,117.2h18.3M135.5,117.2h6.1M147.7,117.2h206.9M26.0,123.3h48.7M80.8,123.3h24.3M111.2,123.3h12.2M129.5,123.3h30.4M166.0,123.3h48.7M220.8,123.3h115.6M26.0,129.4h79.1M111.2,129.4h12.2M129.5,129.4h200.8M26.0,135.4h73.0M117.3,135.4h6.1M135.5,135.4h194.8M26.0,141.5h18.3M56.4,141.5h36.5M99.0,141.5h6.1M135.5,141.5h188.7M68.6,147.5h18.3M99.0,147.5h6.1M123.4,147.5h6.1M141.6,147.5h24.3M172.1,147.5h146.1M62.5,153.6h6.1M80.8,153.6h6.1M123.4,153.6h6.1M141.6,153.6h6.1M159.9,153.6h158.2M62.5,159.6h12.2M135.5,159.6h12.2M159.9,159.6h164.3M56.4,165.7h6.1M68.6,165.7h6.1M111.2,165.7h6.1M123.4,165.7h30.4M159.9,165.7h164.3M56.4,171.8h24.3M111.2,171.8h213.0M62.5,177.8h18.3M111.2,177.8h213.0M92.9,183.9h12.2M111.2,183.9h213.0M92.9,189.9h12.2M111.2,189.9h213.0M117.3,196.0h206.9M172.1,202.0h152.2M172.1,208.1h152.2M172.1,214.2h133.9M312.0,214.2h12.2M178.2,220.2h121.7M312.0,220.2h12.2M184.2,226.3h109.5M312.0,226.3h12.2M190.3,232.3h18.3M232.9,232.3h42.6M312.0,232.3h12.2M239.0,238.4h18.3M239.0,244.4h18.3M239.0,250.5h18.3" stroke="#6e6e6e" stroke-width="0.55" fill="none" opacity="0.75"/><path d="M38.2,111.2v6.1M44.3,111.2v6.1M44.3,141.5v6.1M50.3,111.2v6.1M50.3,135.4v12.1M56.4,141.5v12.1M56.4,159.6v6.1M62.5,123.3v6.1M62.5,141.5v12.1M62.5,159.6v6.1M68.6,147.5v6.1M68.6,165.7v6.1M74.7,147.5v12.1M74.7,165.7v6.1M80.8,123.3v6.1M80.8,153.6v18.2M80.8,177.8v6.1M86.9,153.6v30.3M92.9,141.5v42.4M99.0,117.2v6.1M99.0,135.4v6.1M99.0,147.5v36.3M105.1,117.2v6.1M105.1,129.4v12.1M105.1,147.5v36.3M111.2,117.2v6.1M111.2,129.4v36.3M111.2,171.8v6.1M117.3,135.4v30.3M123.4,62.7v6.1M123.4,111.2v6.1M123.4,135.4v12.1M123.4,153.6v12.1M129.5,80.9v6.1M129.5,111.2v12.1M129.5,129.4v18.2M129.5,153.6v12.1M135.5,68.8v6.1M135.5,80.9v6.1M135.5,117.2v6.1M135.5,141.5v18.2M141.6,80.9v6.1M141.6,117.2v6.1M141.6,141.5v6.1M147.7,111.2v6.1M153.8,147.5v18.2M166.0,87.0v6.1M166.0,123.3v6.1M166.0,141.5v6.1M172.1,123.3v6.1M172.1,147.5v6.1M202.5,111.2v6.1M208.6,99.1v12.1M214.7,99.1v12.1M220.8,99.1v12.1M324.2,171.8v6.1M129.5,68.8h6.1M147.7,87.0h6.1M159.9,87.0h6.1M263.4,87.0h6.1M172.1,99.1h6.1M202.5,99.1h24.3M239.0,99.1h6.1M202.5,105.1h24.3M38.2,111.2h18.3M141.6,111.2h6.1M202.5,111.2h6.1M220.8,111.2h6.1M32.1,117.2h6.1M99.0,117.2h6.1M123.4,117.2h12.2M141.6,117.2h6.1M74.7,123.3h6.1M105.1,123.3h6.1M123.4,123.3h6.1M159.9,123.3h6.1M214.7,123.3h6.1M105.1,129.4h6.1M123.4,129.4h6.1M99.0,135.4h18.3M123.4,135.4h12.2M44.3,141.5h12.2M92.9,141.5h6.1M105.1,141.5h30.4M44.3,147.5h24.3M86.9,147.5h12.2M105.1,147.5h18.3M129.5,147.5h12.2M166.0,147.5h6.1M56.4,153.6h6.1M68.6,153.6h12.2M86.9,153.6h36.5M129.5,153.6h12.2M147.7,153.6h12.2M56.4,159.6h6.1M74.7,159.6h60.9M147.7,159.6h12.2M62.5,165.7h6.1M74.7,165.7h36.5M117.3,165.7h6.1M153.8,165.7h6.1M80.8,171.8h30.4M80.8,177.8h30.4M80.8,183.9h12.2M105.1,183.9h6.1M105.1,189.9h6.1" stroke="#6e6e6e" stroke-width="0.5" fill="none" opacity="0.72"/>
</g>
<polygon points="30.4,121.5 31.4,117.7 36.0,115.3 41.5,113.6 46.9,114.3 52.0,112.0 57.4,108.2 64.1,106.6 70.5,104.9 71.3,100.5 72.5,95.8 70.5,92.1 68.8,87.4 73.9,86.4 78.9,85.0 83.3,85.7 85.0,80.3 87.3,74.6 92.4,73.6 98.3,73.9 102.5,71.9 102.8,66.8 107.5,64.5 111.8,61.4 116.8,61.8 119.7,65.5 123.5,67.8 129.4,68.5 132.5,71.9 136.2,76.3 135.2,81.3 136.5,85.4 144.6,86.0 153.0,86.7 159.7,91.4 163.1,92.1 166.8,97.5 171.5,99.8 180.1,100.8 185.3,100.7 193.7,100.4 201.2,102.4 208.8,104.9 217.2,106.6 226.5,104.9 234.1,102.7 242.5,102.1 250.9,100.7 257.6,97.3 261.9,93.6 260.2,89.8 263.5,86.9 267.7,88.1 271.1,88.1 277.8,85.6 284.6,83.0 291.3,79.7 299.7,77.1 306.5,75.8 310.7,74.1 307.2,71.3 301.4,70.5 294.8,71.0 288.2,71.3 285.7,68.8 287.4,64.7 290.7,60.6 294.0,57.7 298.1,58.9 305.6,56.4 308.9,51.5 312.2,46.5 316.3,42.4 312.2,39.9 316.3,36.9 324.6,35.3 332.0,34.1 337.8,35.7 342.8,36.9 348.6,39.1 351.9,43.2 354.3,49.0 358.5,56.4 362.6,58.9 369.2,59.7 375.8,63.0 378.3,68.8 382.5,70.5 389.1,68.8 395.7,67.2 403.6,65.5 400.6,69.7 397.3,74.6 394.9,80.4 390.7,85.4 384.1,87.0 380.0,90.3 380.5,96.1 378.3,100.2 375.8,101.9 373.4,100.2 369.2,102.7 364.3,105.2 361.0,107.7 356.8,106.9 352.7,109.3 347.7,112.6 342.8,116.0 337.8,119.3 332.8,120.9 327.9,122.6 322.9,124.2 318.8,124.2 321.3,120.9 325.4,115.1 322.9,112.6 318.0,114.3 313.0,117.6 306.4,120.9 299.8,123.4 297.3,125.9 300.6,129.2 305.6,130.8 308.9,134.1 313.0,132.5 318.0,127.5 317.1,130.8 319.6,133.3 326.2,132.8 327.1,135.0 325.2,136.6 319.5,137.4 315.3,141.6 310.4,145.7 307.9,148.2 312.8,152.3 316.1,157.3 319.5,162.2 323.6,167.2 324.1,173.0 328.6,173.3 325.2,178.0 322.8,182.9 321.1,187.9 317.8,192.0 313.7,196.1 311.2,201.1 308.7,206.1 302.9,211.0 296.3,216.0 289.7,221.0 281.4,224.3 274.8,225.1 266.5,228.4 258.3,230.9 257.4,230.8 254.1,232.4 253.3,237.4 251.1,236.9 250.5,232.8 249.1,230.8 245.8,229.5 241.7,229.1 237.6,228.6 232.6,227.0 230.6,223.7 227.6,222.0 223.5,219.9 219.4,221.5 214.4,222.8 209.5,222.5 205.3,224.2 201.5,226.1 200.9,230.3 197.9,231.4 196.2,228.6 192.9,229.5 189.6,227.0 186.3,225.3 188.0,221.5 184.7,220.4 182.2,216.2 178.9,212.9 176.1,209.6 179.7,205.5 182.2,200.5 183.3,195.6 181.3,191.4 177.2,189.8 173.9,188.4 169.8,190.6 164.8,189.4 159.8,191.4 155.7,193.9 149.9,196.7 145.0,195.6 140.0,193.9 139.1,192.2 135.8,190.5 127.5,189.7 123.4,193.8 119.2,190.5 111.0,191.3 104.3,189.7 97.7,185.6 91.9,183.9 86.1,180.6 80.4,176.5 75.4,175.6 68.0,173.2 61.3,168.2 59.7,162.4 64.1,156.1 61.4,152.0 55.7,149.7 51.3,144.3 45.3,141.9 41.9,135.9 35.7,134.2 38.5,130.1 36.3,127.8 32.6,125.8" fill="none" stroke="#555" stroke-width="0.6" stroke-linejoin="round"/>
<polygon points="243.4,242.7 247.5,239.7 254.1,239.0 257.7,240.2 255.8,244.3 252.5,247.6 248.3,250.1 243.9,248.0" fill="none" stroke="#555" stroke-width="0.5"/>
<polygon points="321.1,206.9 323.6,209.4 321.9,216.0 318.6,222.6 316.1,227.6 313.7,222.6 312.5,216.0 315.3,211.9 318.6,208.6" fill="none" stroke="#555" stroke-width="0.5"/>
<path d="M334.3,201.9L333.2,204.4M328.6,211.0L327.7,217.6M322.8,229.2L319.5,233.4M246.5,262.9L250.1,268.2M253.5,286.1L251.6,292.6M240.4,317.3L240.4,324.5M261.8,340.2L268.3,338.3M287.9,312.2L284.2,317.3M305.7,288.2L303.1,294.8M306.7,263.6L306.7,269.4M311.8,245.0L308.2,251.2M266.1,324.5L266.8,328.2M250.1,311.5L254.5,310.7L253.8,313.6L248.7,315.5M261.6,257.1l-0.2,-0.4M263.5,258.9l0.7,-0.1M258.9,259.4l0.4,-0.1M262.5,262.6l0.5,-0.2M264.4,263.6l-0.2,-0.6M266.5,258.2l0.4,-0.2M261.4,262.5l0.6,-0.4M264.5,258.9l-0.1,-0.4M264.9,259.4l0.4,-0.6M283.6,296.9l-0.7,-0.5M281.0,302.3l-0.1,-0.9M289.1,294.4l-0.5,-0.0M285.5,303.3l0.6,-0.3M277.4,305.3l-0.5,-0.5M292.2,293.5l-0.4,-0.6M287.1,297.9l-0.8,-0.5M286.1,301.5l0.8,-0.2M290.9,293.5l0.3,-0.7M275.9,302.7l0.4,-0.2M276.8,298.9l0.3,-0.9M277.0,302.0l-0.1,-0.9M294.2,301.3l0.4,-0.5M285.0,305.5l-0.5,-0.1M277.7,298.3l0.5,-0.5M286.1,295.2l0.7,-0.0M283.5,301.1l-0.8,-0.1M286.7,300.6l-0.2,-0.4M295.3,299.5l-0.8,-0.3M283.0,298.7l0.7,-0.2M278.0,297.1l0.2,-0.4M276.9,300.7l0.9,-0.1M286.0,293.5l0.4,-0.4M280.8,295.2l-0.9,-0.5M277.1,307.8l0.4,-0.1M270.5,308.1l-0.4,-0.3M275.6,301.5l-0.1,-0.4M284.5,313.0l-0.7,-0.3M268.8,311.7l0.7,-0.4M282.5,310.1l0.3,-0.5M293.8,301.9l-0.7,-0.5M269.2,314.7l0.2,-0.4M272.2,316.2l-0.7,-0.1M292.6,293.1l0.4,-0.3M264.9,311.1l-0.4,-0.9M289.9,297.7l-0.4,-0.8M265.9,320.4l-0.8,-0.2M286.8,300.1l0.7,-0.5M275.9,315.7l-0.6,-0.1M279.8,315.9l-0.3,-0.4M269.8,321.1l-0.8,-0.1M273.8,311.8l0.4,-0.2M296.2,296.6l-0.1,-1.0M280.1,314.0l-0.4,-0.3M267.7,310.9l0.5,-0.5M269.3,312.4l0.9,-0.4M273.0,310.4l-0.2,-0.9M280.2,315.0l-0.0,-0.7M274.1,299.9l0.1,-0.5M266.9,315.5l-0.5,-0.6M272.7,312.0l-0.2,-0.9M265.5,318.5l0.4,-0.4M287.9,300.0l-0.2,-0.8M292.0,295.3l-0.2,-0.7M308.7,217.6l0.7,0.3M292.7,234.7l0.7,0.3M321.1,226.4l0.7,0.3M283.1,220.6l0.7,0.3" stroke="#333" stroke-width="0.55" fill="none" stroke-linecap="round"/><ellipse cx="277.6" cy="264.6" rx="3.5" ry="1.5" transform="rotate(-27 277.6 264.6)" fill="none" stroke="#333" stroke-width="0.55"/><circle cx="308.7" cy="217.6" r="0.65" fill="#222"/><circle cx="307.7" cy="219.0" r="0.65" fill="#222"/><circle cx="292.7" cy="234.7" r="0.65" fill="#222"/><circle cx="321.1" cy="226.4" r="0.65" fill="#222"/>
</g>
<text x="32" y="226.6" font-size="11.3">XCO<tspan font-size="7.6" dy="2.3">2ano</tspan><tspan dy="-2.3">(ppm)</tspan></text>
<rect x="27.1" y="234.4" width="28.2" height="14.0" fill="#0000ff" stroke="#a8a8a8" stroke-width="0.5"/>
<text x="60.4" y="245.9" font-size="11.15">−1.55 − −0.57</text>
<rect x="27.1" y="253.3" width="28.2" height="14.0" fill="#3a5cff" stroke="#a8a8a8" stroke-width="0.5"/>
<text x="60.4" y="264.9" font-size="11.15">−0.56 − −0.16</text>
<rect x="27.1" y="272.3" width="28.2" height="14.0" fill="#38a8ff" stroke="#a8a8a8" stroke-width="0.5"/>
<text x="60.4" y="283.8" font-size="11.15">−0.15 − 0.14</text>
<rect x="27.1" y="291.2" width="28.2" height="14.0" fill="#00ffff" stroke="#a8a8a8" stroke-width="0.5"/>
<text x="60.4" y="302.8" font-size="11.15">0.15 − 0.41</text>
<rect x="27.1" y="310.2" width="28.2" height="14.0" fill="#8fffb8" stroke="#a8a8a8" stroke-width="0.5"/>
<text x="60.4" y="321.7" font-size="11.15">0.42 − 0.72</text>
<rect x="130.3" y="234.4" width="28.2" height="14.0" fill="#d0ff63" stroke="#a8a8a8" stroke-width="0.5"/>
<text x="163.6" y="245.9" font-size="11.15">0.73 − 1.08</text>
<rect x="130.3" y="253.3" width="28.2" height="14.0" fill="#ffff00" stroke="#a8a8a8" stroke-width="0.5"/>
<text x="163.6" y="264.9" font-size="11.15">1.09 − 1.46</text>
<rect x="130.3" y="272.3" width="28.2" height="14.0" fill="#ffb700" stroke="#a8a8a8" stroke-width="0.5"/>
<text x="163.6" y="283.8" font-size="11.15">1.47 − 1.85</text>
<rect x="130.3" y="291.2" width="28.2" height="14.0" fill="#ff6f00" stroke="#a8a8a8" stroke-width="0.5"/>
<text x="163.6" y="302.8" font-size="11.15">1.86 − 2.28</text>
<rect x="130.3" y="310.2" width="28.2" height="14.0" fill="#ff0000" stroke="#a8a8a8" stroke-width="0.5"/>
<text x="163.6" y="321.7" font-size="11.15">2.29 − 3.24</text>
<rect x="24.6" y="329.3" width="18.1" height="9.3" fill="#fff" stroke="#7a7a7a" stroke-width="0.7"/>
<text x="46.5" y="338.2" font-size="11">National boundaries</text>
<rect x="144.6" y="329.3" width="18.2" height="9.3" fill="url(#hatchL)" stroke="#b0b0b0" stroke-width="0.5"/>
<text x="167.2" y="338.2" font-size="11">Background area</text>
<rect x="292.2" y="338.8" width="82.9" height="4.1" fill="#fff" stroke="#000" stroke-width="0.7"/><rect x="292.2" y="338.8" width="41.5" height="4.1" fill="#000"/><text x="292.8" y="334.5" font-size="9.8" text-anchor="middle">0</text><text x="334.2" y="334.5" font-size="9.8" text-anchor="middle">750</text><text x="365.2" y="334.5" font-size="9.8">1500 km</text>
<text x="403.7" y="31.3" text-anchor="middle" style="font-family:'Liberation Sans','DejaVu Sans',sans-serif;font-size:6.6px;font-weight:bold;fill:#000">N</text><path d="M403.7,33 L398.9,48.1 L404,43.5 Z" fill="#000"/><path d="M403.7,33 L407.9,47.8 L404,43.5 Z" fill="#fff" stroke="#000" stroke-width="0.55"/><path d="M404.6,38.5L405.6,40.5M404.9,41L406.6,44.2" stroke="#000" stroke-width="0.4"/>
<rect x="21.0" y="21.5" width="395.4" height="328.7" fill="none" stroke="#2b2b2b" stroke-width="1.2"/>
<text x="71.3" y="17.9" font-size="10.2" text-anchor="middle">80°E</text>
<text x="71.3" y="363.5" font-size="10.2" text-anchor="middle">80°E</text>
<text x="132.1" y="17.9" font-size="10.2" text-anchor="middle">90°E</text>
<text x="132.1" y="363.5" font-size="10.2" text-anchor="middle">90°E</text>
<text x="193.0" y="17.9" font-size="10.2" text-anchor="middle">100°E</text>
<text x="193.0" y="363.5" font-size="10.2" text-anchor="middle">100°E</text>
<text x="253.8" y="17.9" font-size="10.2" text-anchor="middle">110°E</text>
<text x="253.8" y="363.5" font-size="10.2" text-anchor="middle">110°E</text>
<text x="314.7" y="17.9" font-size="10.2" text-anchor="middle">120°E</text>
<text x="314.7" y="363.5" font-size="10.2" text-anchor="middle">120°E</text>
<text x="375.5" y="17.9" font-size="10.2" text-anchor="middle">130°E</text>
<text x="375.5" y="363.5" font-size="10.2" text-anchor="middle">130°E</text>
<text transform="translate(17.9,305.3) rotate(-90)" font-size="10.2" text-anchor="middle">10°N</text>
<text transform="translate(429.8,305.3) rotate(-90)" font-size="10.2" text-anchor="middle">10°N</text>
<text transform="translate(17.9,244.3) rotate(-90)" font-size="10.2" text-anchor="middle">20°N</text>
<text transform="translate(429.8,244.3) rotate(-90)" font-size="10.2" text-anchor="middle">20°N</text>
<text transform="translate(17.9,183.4) rotate(-90)" font-size="10.2" text-anchor="middle">30°N</text>
<text transform="translate(429.8,183.4) rotate(-90)" font-size="10.2" text-anchor="middle">30°N</text>
<text transform="translate(17.9,122.4) rotate(-90)" font-size="10.2" text-anchor="middle">40°N</text>
<text transform="translate(429.8,122.4) rotate(-90)" font-size="10.2" text-anchor="middle">40°N</text>
<text transform="translate(17.9,61.4) rotate(-90)" font-size="10.2" text-anchor="middle">50°N</text>
<text transform="translate(429.8,61.4) rotate(-90)" font-size="10.2" text-anchor="middle">50°N</text>
<text x="218.7" y="387.6" font-size="19.8" text-anchor="middle" font-family="'Liberation Serif', 'DejaVu Serif', serif" fill="#111">(<tspan font-weight="bold">d</tspan>) 2013</text>
</g>
</svg></body></html>
